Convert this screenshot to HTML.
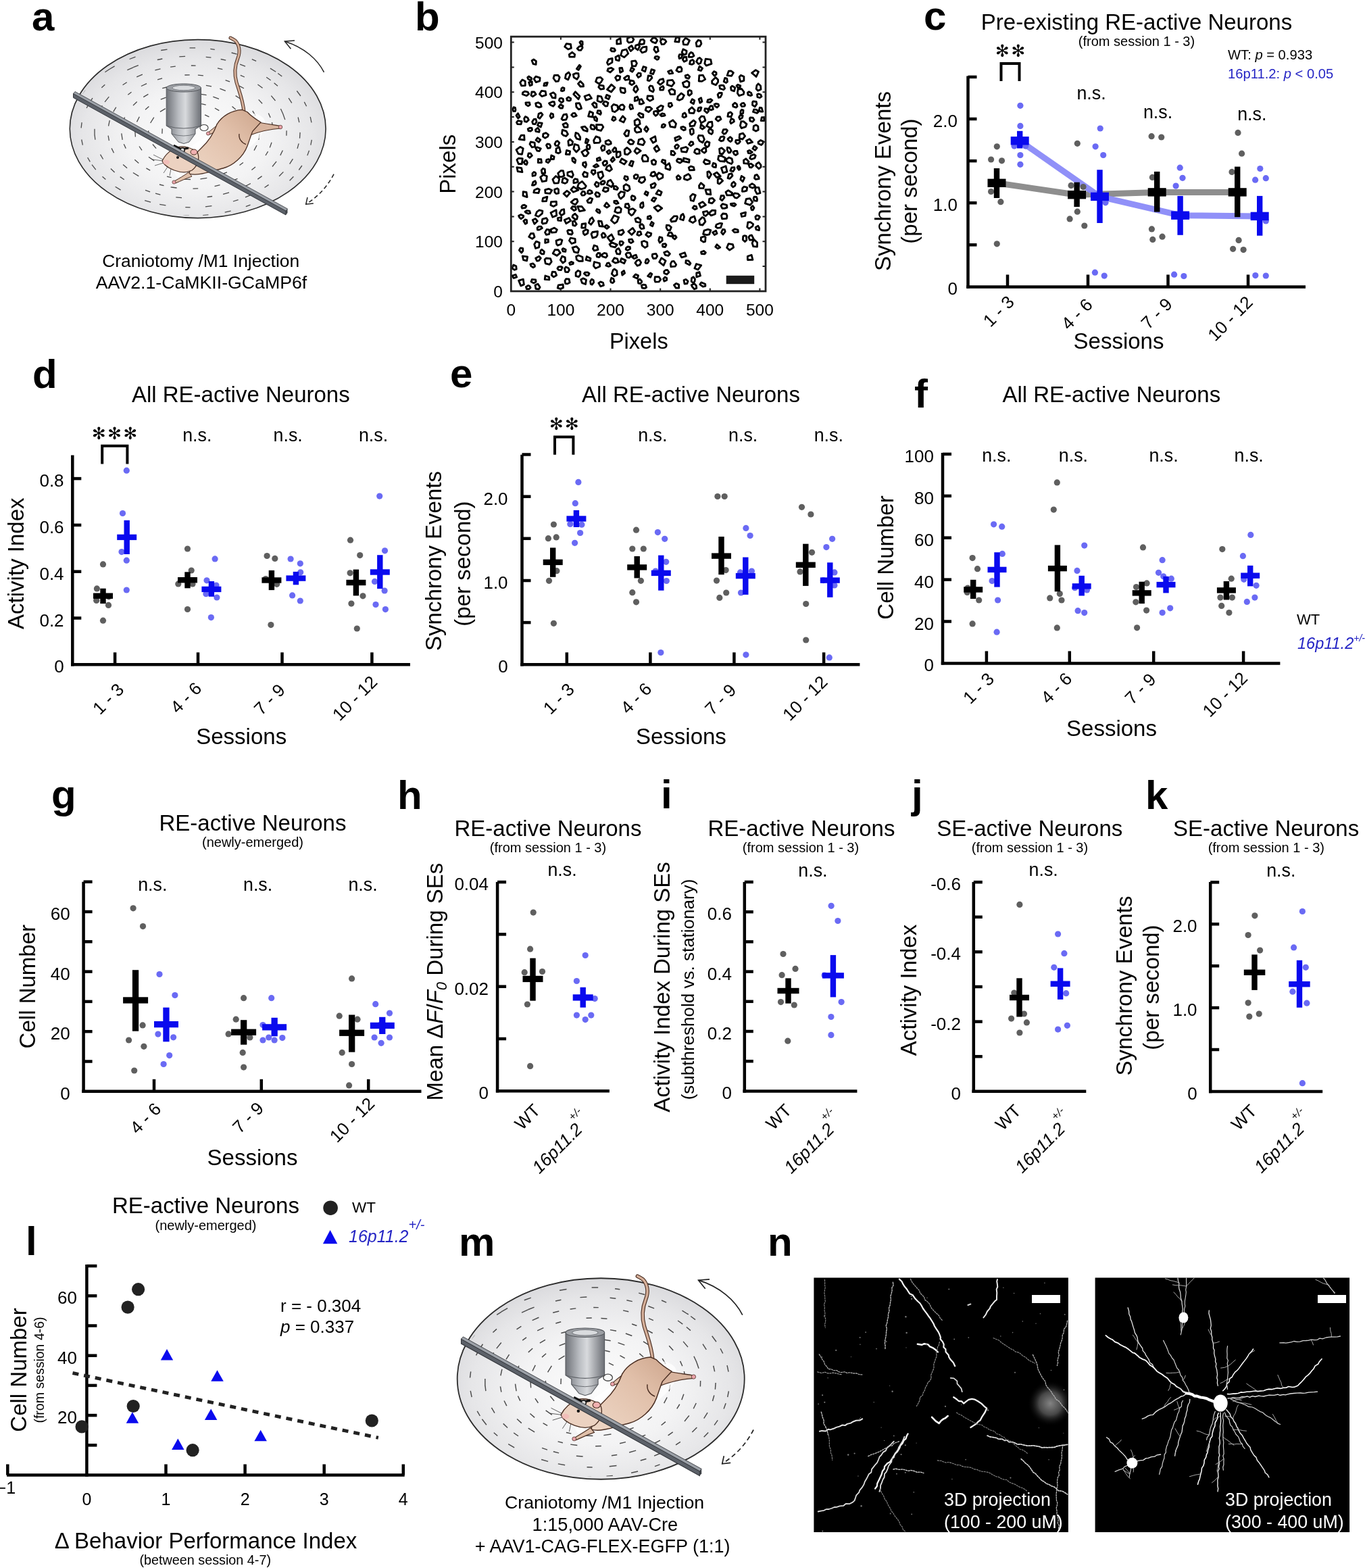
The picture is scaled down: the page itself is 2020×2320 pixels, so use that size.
<!DOCTYPE html><html><head><meta charset="utf-8"><style>html,body{margin:0;padding:0;background:#fff;}svg{display:block;}</style></head><body><svg width="2020" height="2320" viewBox="0 0 2020 2320" font-family='"Liberation Sans", Arial, Helvetica, sans-serif'><rect width="2020" height="2320" fill="#fff"/><text x="47.0" y="45.0" font-size="60" font-weight="bold">a</text>
<text x="614.0" y="45.0" font-size="60" font-weight="bold">b</text>
<text x="1367.0" y="44.0" font-size="60" font-weight="bold">c</text>
<text x="48.0" y="574.0" font-size="60" font-weight="bold">d</text>
<text x="666.0" y="573.0" font-size="60" font-weight="bold">e</text>
<text x="1353.0" y="603.0" font-size="60" font-weight="bold">f</text>
<text x="76.0" y="1196.0" font-size="60" font-weight="bold">g</text>
<text x="588.0" y="1197.0" font-size="60" font-weight="bold">h</text>
<text x="978.0" y="1196.0" font-size="60" font-weight="bold">i</text>
<text x="1349.0" y="1196.0" font-size="60" font-weight="bold">j</text>
<text x="1695.0" y="1197.0" font-size="60" font-weight="bold">k</text>
<text x="38.0" y="1857.0" font-size="60" font-weight="bold">l</text>
<text x="679.0" y="1858.0" font-size="60" font-weight="bold">m</text>
<text x="1136.0" y="1858.0" font-size="60" font-weight="bold">n</text>
<text x="1682.0" y="44.0" font-size="33" text-anchor="middle">Pre-existing RE-active Neurons</text>
<text x="1682.0" y="68.0" font-size="20" text-anchor="middle">(from session 1 - 3)</text>
<text x="1817.0" y="88.0" font-size="20.2">WT: <tspan font-style="italic">p</tspan> = 0.933</text>
<text x="1817.0" y="116.0" font-size="20.2" fill="#2424c4">16p11.2: <tspan font-style="italic">p</tspan> &lt; 0.05</text>
<text x="1496.4" y="83.5" font-size="24.8" text-anchor="middle" font-family="DejaVu Sans, sans-serif" letter-spacing="2.72">✻✻</text>
<path d="M1481.5 120.0 V94.0 H1508.5 V120.0" fill="none" stroke="#000" stroke-width="4"/>
<line x1="1432.5" y1="112.5" x2="1432.5" y2="426.6" stroke="#000" stroke-width="4.5" stroke-linecap="butt"/>
<line x1="1432.5" y1="113.9" x2="1445.5" y2="113.9" stroke="#000" stroke-width="4.5" stroke-linecap="butt"/>
<line x1="1432.5" y1="176.0" x2="1445.5" y2="176.0" stroke="#000" stroke-width="4.5" stroke-linecap="butt"/>
<line x1="1432.5" y1="238.1" x2="1445.5" y2="238.1" stroke="#000" stroke-width="4.5" stroke-linecap="butt"/>
<line x1="1432.5" y1="300.2" x2="1445.5" y2="300.2" stroke="#000" stroke-width="4.5" stroke-linecap="butt"/>
<line x1="1432.5" y1="362.3" x2="1445.5" y2="362.3" stroke="#000" stroke-width="4.5" stroke-linecap="butt"/>
<line x1="1430.2" y1="424.4" x2="1932.0" y2="424.4" stroke="#000" stroke-width="4.5" stroke-linecap="butt"/>
<line x1="1491.0" y1="424.4" x2="1491.0" y2="406.4" stroke="#000" stroke-width="4.5" stroke-linecap="butt"/>
<line x1="1610.0" y1="424.4" x2="1610.0" y2="406.4" stroke="#000" stroke-width="4.5" stroke-linecap="butt"/>
<line x1="1728.5" y1="424.4" x2="1728.5" y2="406.4" stroke="#000" stroke-width="4.5" stroke-linecap="butt"/>
<line x1="1847.0" y1="424.4" x2="1847.0" y2="406.4" stroke="#000" stroke-width="4.5" stroke-linecap="butt"/>
<text x="1417.0" y="188.0" font-size="26" text-anchor="end">2.0</text>
<text x="1417.0" y="312.2" font-size="26" text-anchor="end">1.0</text>
<text x="1417.0" y="436.4" font-size="26" text-anchor="end">0</text>
<text x="1318.0" y="268.0" font-size="33" text-anchor="middle" transform="rotate(-90 1318.0 268.0)">Synchrony Events</text>
<text x="1357.0" y="268.0" font-size="33" text-anchor="middle" transform="rotate(-90 1357.0 268.0)">(per second)</text>
<text x="1465.7" y="485.3" font-size="26" transform="rotate(-45 1465.7 485.3)">1 - 3</text>
<text x="1581.6" y="489.4" font-size="26" transform="rotate(-45 1581.6 489.4)">4 - 6</text>
<text x="1699.6" y="488.6" font-size="26" transform="rotate(-45 1699.6 488.6)">7 - 9</text>
<text x="1798.2" y="506.3" font-size="26" transform="rotate(-45 1798.2 506.3)">10 - 12</text>
<text x="1655.5" y="516.0" font-size="33" text-anchor="middle">Sessions</text>
<text x="1615.0" y="146.6" font-size="26.8" text-anchor="middle">n.s.</text>
<text x="1713.5" y="175.0" font-size="26.8" text-anchor="middle">n.s.</text>
<text x="1852.8" y="178.0" font-size="26.8" text-anchor="middle">n.s.</text>
<polyline points="1475,270.8 1593.6,288.2 1712.2,284.4 1831.2,284.4" fill="none" stroke="#8e8e8e" stroke-width="9" stroke-linejoin="round"/>
<polyline points="1509.2,208.3 1627.5,290.9 1746.6,318.7 1864.2,319.9" fill="none" stroke="#8a8af8" stroke-width="9" stroke-linejoin="round" opacity="0.95"/>
<circle cx="1475.3" cy="216.8" r="4.6" fill="#5f5f5f"/>
<circle cx="1466.6" cy="236.0" r="4.6" fill="#5f5f5f"/>
<circle cx="1482.5" cy="237.8" r="4.6" fill="#5f5f5f"/>
<circle cx="1466.6" cy="283.5" r="4.6" fill="#5f5f5f"/>
<circle cx="1480.9" cy="298.7" r="4.6" fill="#5f5f5f"/>
<circle cx="1475.3" cy="360.8" r="4.6" fill="#5f5f5f"/>
<circle cx="1594.3" cy="212.3" r="4.6" fill="#5f5f5f"/>
<circle cx="1585.1" cy="274.4" r="4.6" fill="#5f5f5f"/>
<circle cx="1603.0" cy="276.6" r="4.6" fill="#5f5f5f"/>
<circle cx="1594.3" cy="313.2" r="4.6" fill="#5f5f5f"/>
<circle cx="1583.1" cy="323.9" r="4.6" fill="#5f5f5f"/>
<circle cx="1604.8" cy="334.0" r="4.6" fill="#5f5f5f"/>
<circle cx="1704.1" cy="201.7" r="4.6" fill="#5f5f5f"/>
<circle cx="1718.7" cy="203.0" r="4.6" fill="#5f5f5f"/>
<circle cx="1705.4" cy="262.4" r="4.6" fill="#5f5f5f"/>
<circle cx="1704.4" cy="338.9" r="4.6" fill="#5f5f5f"/>
<circle cx="1720.0" cy="350.2" r="4.6" fill="#5f5f5f"/>
<circle cx="1705.8" cy="354.4" r="4.6" fill="#5f5f5f"/>
<circle cx="1832.0" cy="196.4" r="4.6" fill="#5f5f5f"/>
<circle cx="1837.6" cy="227.2" r="4.6" fill="#5f5f5f"/>
<circle cx="1823.0" cy="254.4" r="4.6" fill="#5f5f5f"/>
<circle cx="1833.1" cy="355.4" r="4.6" fill="#5f5f5f"/>
<circle cx="1824.6" cy="368.3" r="4.6" fill="#5f5f5f"/>
<circle cx="1840.1" cy="369.6" r="4.6" fill="#5f5f5f"/>
<circle cx="1509.9" cy="156.3" r="4.6" fill="#6a6af4"/>
<circle cx="1509.9" cy="186.4" r="4.6" fill="#6a6af4"/>
<circle cx="1501.0" cy="216.1" r="4.6" fill="#6a6af4"/>
<circle cx="1517.7" cy="216.1" r="4.6" fill="#6a6af4"/>
<circle cx="1509.9" cy="229.5" r="4.6" fill="#6a6af4"/>
<circle cx="1509.9" cy="243.3" r="4.6" fill="#6a6af4"/>
<circle cx="1628.2" cy="190.0" r="4.6" fill="#6a6af4"/>
<circle cx="1621.1" cy="216.8" r="4.6" fill="#6a6af4"/>
<circle cx="1632.7" cy="229.5" r="4.6" fill="#6a6af4"/>
<circle cx="1636.0" cy="299.8" r="4.6" fill="#6a6af4"/>
<circle cx="1620.4" cy="403.2" r="4.6" fill="#6a6af4"/>
<circle cx="1634.2" cy="408.1" r="4.6" fill="#6a6af4"/>
<circle cx="1746.2" cy="248.2" r="4.6" fill="#6a6af4"/>
<circle cx="1750.0" cy="263.3" r="4.6" fill="#6a6af4"/>
<circle cx="1740.1" cy="275.1" r="4.6" fill="#6a6af4"/>
<circle cx="1737.6" cy="406.2" r="4.6" fill="#6a6af4"/>
<circle cx="1751.9" cy="408.5" r="4.6" fill="#6a6af4"/>
<circle cx="1864.8" cy="249.5" r="4.6" fill="#6a6af4"/>
<circle cx="1857.6" cy="266.2" r="4.6" fill="#6a6af4"/>
<circle cx="1873.3" cy="263.7" r="4.6" fill="#6a6af4"/>
<circle cx="1873.3" cy="326.9" r="4.6" fill="#6a6af4"/>
<circle cx="1857.8" cy="407.6" r="4.6" fill="#6a6af4"/>
<circle cx="1873.3" cy="408.0" r="4.6" fill="#6a6af4"/>
<rect x="1470.8" y="249.0" width="8.4" height="44.0" fill="#000"/>
<rect x="1461.5" y="264.6" width="27.0" height="12.4" fill="#000"/>
<rect x="1589.4" y="269.7" width="8.4" height="36.4" fill="#000"/>
<rect x="1580.1" y="282.0" width="27.0" height="12.4" fill="#000"/>
<rect x="1708.0" y="253.9" width="8.4" height="59.7" fill="#000"/>
<rect x="1698.7" y="278.2" width="27.0" height="12.4" fill="#000"/>
<rect x="1827.0" y="246.6" width="8.4" height="74.6" fill="#000"/>
<rect x="1817.7" y="278.2" width="27.0" height="12.4" fill="#000"/>
<rect x="1505.0" y="193.8" width="8.4" height="25.7" fill="#0a0aee"/>
<rect x="1495.7" y="202.1" width="27.0" height="12.4" fill="#0a0aee"/>
<rect x="1623.3" y="251.2" width="8.4" height="78.8" fill="#0a0aee"/>
<rect x="1614.0" y="284.7" width="27.0" height="12.4" fill="#0a0aee"/>
<rect x="1742.4" y="289.9" width="8.4" height="57.9" fill="#0a0aee"/>
<rect x="1733.1" y="312.5" width="27.0" height="12.4" fill="#0a0aee"/>
<rect x="1860.0" y="289.9" width="8.4" height="58.8" fill="#0a0aee"/>
<rect x="1850.7" y="313.7" width="27.0" height="12.4" fill="#0a0aee"/>
<text x="356.3" y="595.0" font-size="33" text-anchor="middle">All RE-active Neurons</text>
<text x="170.8" y="649.9" font-size="24.8" text-anchor="middle" font-family="DejaVu Sans, sans-serif" letter-spacing="2.42">✻✻✻</text>
<path d="M151.2 686.4 V659.7 H188.4 V686.4" fill="none" stroke="#000" stroke-width="4"/>
<line x1="107.3" y1="673.4" x2="107.3" y2="985.5" stroke="#000" stroke-width="4.5" stroke-linecap="butt"/>
<line x1="107.3" y1="708.1" x2="120.3" y2="708.1" stroke="#000" stroke-width="4.5" stroke-linecap="butt"/>
<line x1="107.3" y1="776.9" x2="120.3" y2="776.9" stroke="#000" stroke-width="4.5" stroke-linecap="butt"/>
<line x1="107.3" y1="845.7" x2="120.3" y2="845.7" stroke="#000" stroke-width="4.5" stroke-linecap="butt"/>
<line x1="107.3" y1="914.5" x2="120.3" y2="914.5" stroke="#000" stroke-width="4.5" stroke-linecap="butt"/>
<line x1="105.0" y1="983.3" x2="607.0" y2="983.3" stroke="#000" stroke-width="4.5" stroke-linecap="butt"/>
<line x1="170.1" y1="983.3" x2="170.1" y2="965.3" stroke="#000" stroke-width="4.5" stroke-linecap="butt"/>
<line x1="293.0" y1="983.3" x2="293.0" y2="965.3" stroke="#000" stroke-width="4.5" stroke-linecap="butt"/>
<line x1="417.5" y1="983.3" x2="417.5" y2="965.3" stroke="#000" stroke-width="4.5" stroke-linecap="butt"/>
<line x1="550.4" y1="983.3" x2="550.4" y2="965.3" stroke="#000" stroke-width="4.5" stroke-linecap="butt"/>
<text x="94.6" y="720.1" font-size="26" text-anchor="end">0.8</text>
<text x="94.6" y="788.9" font-size="26" text-anchor="end">0.6</text>
<text x="94.6" y="857.7" font-size="26" text-anchor="end">0.4</text>
<text x="94.6" y="926.5" font-size="26" text-anchor="end">0.2</text>
<text x="94.6" y="995.3" font-size="26" text-anchor="end">0</text>
<text x="35.5" y="833.7" font-size="33" text-anchor="middle" transform="rotate(-90 35.5 833.7)">Activity Index</text>
<text x="148.1" y="1058.7" font-size="26" transform="rotate(-45 148.1 1058.7)">1 - 3</text>
<text x="263.1" y="1057.1" font-size="26" transform="rotate(-45 263.1 1057.1)">4 - 6</text>
<text x="386.8" y="1059.5" font-size="26" transform="rotate(-45 386.8 1059.5)">7 - 9</text>
<text x="502.7" y="1068.0" font-size="26" transform="rotate(-45 502.7 1068.0)">10 - 12</text>
<text x="357.2" y="1100.7" font-size="33" text-anchor="middle">Sessions</text>
<text x="291.8" y="652.9" font-size="26.8" text-anchor="middle">n.s.</text>
<text x="426.2" y="652.5" font-size="26.8" text-anchor="middle">n.s.</text>
<text x="552.5" y="652.5" font-size="26.8" text-anchor="middle">n.s.</text>
<circle cx="152.5" cy="834.9" r="4.6" fill="#5f5f5f"/>
<circle cx="143.4" cy="870.9" r="4.6" fill="#5f5f5f"/>
<circle cx="142.7" cy="888.5" r="4.6" fill="#5f5f5f"/>
<circle cx="161.0" cy="882.8" r="4.6" fill="#5f5f5f"/>
<circle cx="160.5" cy="895.4" r="4.6" fill="#5f5f5f"/>
<circle cx="152.5" cy="918.2" r="4.6" fill="#5f5f5f"/>
<circle cx="277.5" cy="812.0" r="4.6" fill="#5f5f5f"/>
<circle cx="283.2" cy="844.0" r="4.6" fill="#5f5f5f"/>
<circle cx="263.8" cy="863.9" r="4.6" fill="#5f5f5f"/>
<circle cx="285.0" cy="863.9" r="4.6" fill="#5f5f5f"/>
<circle cx="277.5" cy="901.5" r="4.6" fill="#5f5f5f"/>
<circle cx="395.1" cy="822.5" r="4.6" fill="#5f5f5f"/>
<circle cx="406.8" cy="826.4" r="4.6" fill="#5f5f5f"/>
<circle cx="393.2" cy="856.6" r="4.6" fill="#5f5f5f"/>
<circle cx="409.7" cy="864.3" r="4.6" fill="#5f5f5f"/>
<circle cx="400.9" cy="924.6" r="4.6" fill="#5f5f5f"/>
<circle cx="518.5" cy="799.2" r="4.6" fill="#5f5f5f"/>
<circle cx="532.7" cy="821.6" r="4.6" fill="#5f5f5f"/>
<circle cx="518.1" cy="847.8" r="4.6" fill="#5f5f5f"/>
<circle cx="537.0" cy="881.8" r="4.6" fill="#5f5f5f"/>
<circle cx="519.9" cy="893.1" r="4.6" fill="#5f5f5f"/>
<circle cx="528.3" cy="930.0" r="4.6" fill="#5f5f5f"/>
<circle cx="187.3" cy="696.2" r="4.6" fill="#6a6af4"/>
<circle cx="181.5" cy="759.5" r="4.6" fill="#6a6af4"/>
<circle cx="180.0" cy="816.6" r="4.6" fill="#6a6af4"/>
<circle cx="187.3" cy="829.2" r="4.6" fill="#6a6af4"/>
<circle cx="187.3" cy="873.0" r="4.6" fill="#6a6af4"/>
<circle cx="318.1" cy="826.9" r="4.6" fill="#6a6af4"/>
<circle cx="306.0" cy="858.8" r="4.6" fill="#6a6af4"/>
<circle cx="304.9" cy="878.7" r="4.6" fill="#6a6af4"/>
<circle cx="320.9" cy="884.0" r="4.6" fill="#6a6af4"/>
<circle cx="312.4" cy="913.6" r="4.6" fill="#6a6af4"/>
<circle cx="320.0" cy="866.0" r="4.6" fill="#6a6af4"/>
<circle cx="430.1" cy="827.0" r="4.6" fill="#6a6af4"/>
<circle cx="444.3" cy="833.8" r="4.6" fill="#6a6af4"/>
<circle cx="444.7" cy="846.8" r="4.6" fill="#6a6af4"/>
<circle cx="432.6" cy="880.9" r="4.6" fill="#6a6af4"/>
<circle cx="444.3" cy="889.0" r="4.6" fill="#6a6af4"/>
<circle cx="561.7" cy="734.1" r="4.6" fill="#6a6af4"/>
<circle cx="569.5" cy="814.8" r="4.6" fill="#6a6af4"/>
<circle cx="554.5" cy="860.4" r="4.6" fill="#6a6af4"/>
<circle cx="569.1" cy="874.0" r="4.6" fill="#6a6af4"/>
<circle cx="556.0" cy="894.5" r="4.6" fill="#6a6af4"/>
<circle cx="570.4" cy="901.6" r="4.6" fill="#6a6af4"/>
<rect x="148.3" y="870.7" width="8.4" height="22.4" fill="#000"/>
<rect x="138.0" y="877.5" width="29.0" height="8.4" fill="#000"/>
<rect x="273.3" y="846.3" width="8.4" height="24.0" fill="#000"/>
<rect x="263.0" y="854.0" width="29.0" height="8.4" fill="#000"/>
<rect x="397.7" y="843.9" width="8.4" height="29.2" fill="#000"/>
<rect x="387.4" y="854.3" width="29.0" height="8.4" fill="#000"/>
<rect x="522.7" y="842.6" width="8.4" height="38.8" fill="#000"/>
<rect x="512.4" y="857.8" width="29.0" height="8.4" fill="#000"/>
<rect x="183.5" y="769.8" width="8.4" height="50.2" fill="#0a0aee"/>
<rect x="173.2" y="790.7" width="29.0" height="8.4" fill="#0a0aee"/>
<rect x="308.7" y="860.0" width="8.4" height="22.8" fill="#0a0aee"/>
<rect x="298.4" y="867.7" width="29.0" height="8.4" fill="#0a0aee"/>
<rect x="433.7" y="845.9" width="8.4" height="19.4" fill="#0a0aee"/>
<rect x="423.4" y="851.4" width="29.0" height="8.4" fill="#0a0aee"/>
<rect x="558.1" y="821.2" width="8.4" height="49.9" fill="#0a0aee"/>
<rect x="547.8" y="842.3" width="29.0" height="8.4" fill="#0a0aee"/>
<text x="1022.5" y="595.3" font-size="33" text-anchor="middle">All RE-active Neurons</text>
<text x="836.0" y="636.4" font-size="24.8" text-anchor="middle" font-family="DejaVu Sans, sans-serif" letter-spacing="2.22">✻✻</text>
<path d="M821.0 672.7 V646.5 H848.4 V672.7" fill="none" stroke="#000" stroke-width="4"/>
<line x1="772.5" y1="672.7" x2="772.5" y2="985.5" stroke="#000" stroke-width="4.5" stroke-linecap="butt"/>
<line x1="772.5" y1="672.5" x2="785.5" y2="672.5" stroke="#000" stroke-width="4.5" stroke-linecap="butt"/>
<line x1="772.5" y1="734.7" x2="785.5" y2="734.7" stroke="#000" stroke-width="4.5" stroke-linecap="butt"/>
<line x1="772.5" y1="796.8" x2="785.5" y2="796.8" stroke="#000" stroke-width="4.5" stroke-linecap="butt"/>
<line x1="772.5" y1="859.0" x2="785.5" y2="859.0" stroke="#000" stroke-width="4.5" stroke-linecap="butt"/>
<line x1="772.5" y1="921.1" x2="785.5" y2="921.1" stroke="#000" stroke-width="4.5" stroke-linecap="butt"/>
<line x1="770.2" y1="983.3" x2="1272.4" y2="983.3" stroke="#000" stroke-width="4.5" stroke-linecap="butt"/>
<line x1="838.8" y1="983.3" x2="838.8" y2="965.3" stroke="#000" stroke-width="4.5" stroke-linecap="butt"/>
<line x1="962.4" y1="983.3" x2="962.4" y2="965.3" stroke="#000" stroke-width="4.5" stroke-linecap="butt"/>
<line x1="1086.4" y1="983.3" x2="1086.4" y2="965.3" stroke="#000" stroke-width="4.5" stroke-linecap="butt"/>
<line x1="1219.1" y1="983.3" x2="1219.1" y2="965.3" stroke="#000" stroke-width="4.5" stroke-linecap="butt"/>
<text x="751.6" y="746.7" font-size="26" text-anchor="end">2.0</text>
<text x="751.6" y="871.0" font-size="26" text-anchor="end">1.0</text>
<text x="751.6" y="995.3" font-size="26" text-anchor="end">0</text>
<text x="653.0" y="830.0" font-size="33" text-anchor="middle" transform="rotate(-90 653.0 830.0)">Synchrony Events</text>
<text x="695.5" y="834.0" font-size="33" text-anchor="middle" transform="rotate(-90 695.5 834.0)">(per second)</text>
<text x="814.7" y="1058.5" font-size="26" transform="rotate(-45 814.7 1058.5)">1 - 3</text>
<text x="929.2" y="1057.8" font-size="26" transform="rotate(-45 929.2 1057.8)">4 - 6</text>
<text x="1054.1" y="1059.5" font-size="26" transform="rotate(-45 1054.1 1059.5)">7 - 9</text>
<text x="1169.0" y="1068.0" font-size="26" transform="rotate(-45 1169.0 1068.0)">10 - 12</text>
<text x="1007.9" y="1100.7" font-size="33" text-anchor="middle">Sessions</text>
<text x="965.8" y="652.5" font-size="26.8" text-anchor="middle">n.s.</text>
<text x="1099.7" y="652.5" font-size="26.8" text-anchor="middle">n.s.</text>
<text x="1226.3" y="652.5" font-size="26.8" text-anchor="middle">n.s.</text>
<circle cx="819.4" cy="776.0" r="4.6" fill="#5f5f5f"/>
<circle cx="811.4" cy="796.7" r="4.6" fill="#5f5f5f"/>
<circle cx="823.2" cy="794.9" r="4.6" fill="#5f5f5f"/>
<circle cx="823.9" cy="844.7" r="4.6" fill="#5f5f5f"/>
<circle cx="812.5" cy="859.3" r="4.6" fill="#5f5f5f"/>
<circle cx="819.4" cy="922.3" r="4.6" fill="#5f5f5f"/>
<circle cx="941.5" cy="784.2" r="4.6" fill="#5f5f5f"/>
<circle cx="935.8" cy="812.0" r="4.6" fill="#5f5f5f"/>
<circle cx="952.3" cy="812.0" r="4.6" fill="#5f5f5f"/>
<circle cx="948.4" cy="859.3" r="4.6" fill="#5f5f5f"/>
<circle cx="935.8" cy="876.7" r="4.6" fill="#5f5f5f"/>
<circle cx="941.5" cy="890.8" r="4.6" fill="#5f5f5f"/>
<circle cx="1061.9" cy="734.5" r="4.6" fill="#5f5f5f"/>
<circle cx="1072.2" cy="734.5" r="4.6" fill="#5f5f5f"/>
<circle cx="1074.1" cy="843.6" r="4.6" fill="#5f5f5f"/>
<circle cx="1060.5" cy="859.1" r="4.6" fill="#5f5f5f"/>
<circle cx="1074.7" cy="877.0" r="4.6" fill="#5f5f5f"/>
<circle cx="1064.8" cy="884.4" r="4.6" fill="#5f5f5f"/>
<circle cx="1186.5" cy="750.3" r="4.6" fill="#5f5f5f"/>
<circle cx="1199.9" cy="761.0" r="4.6" fill="#5f5f5f"/>
<circle cx="1201.5" cy="817.3" r="4.6" fill="#5f5f5f"/>
<circle cx="1184.0" cy="845.9" r="4.6" fill="#5f5f5f"/>
<circle cx="1192.7" cy="893.5" r="4.6" fill="#5f5f5f"/>
<circle cx="1192.7" cy="947.0" r="4.6" fill="#5f5f5f"/>
<circle cx="855.9" cy="713.4" r="4.6" fill="#6a6af4"/>
<circle cx="851.3" cy="744.7" r="4.6" fill="#6a6af4"/>
<circle cx="843.8" cy="775.5" r="4.6" fill="#6a6af4"/>
<circle cx="860.9" cy="776.2" r="4.6" fill="#6a6af4"/>
<circle cx="858.6" cy="788.5" r="4.6" fill="#6a6af4"/>
<circle cx="850.6" cy="803.3" r="4.6" fill="#6a6af4"/>
<circle cx="973.4" cy="787.6" r="4.6" fill="#6a6af4"/>
<circle cx="983.7" cy="797.3" r="4.6" fill="#6a6af4"/>
<circle cx="985.7" cy="831.3" r="4.6" fill="#6a6af4"/>
<circle cx="970.1" cy="845.0" r="4.6" fill="#6a6af4"/>
<circle cx="986.3" cy="859.5" r="4.6" fill="#6a6af4"/>
<circle cx="977.9" cy="965.5" r="4.6" fill="#6a6af4"/>
<circle cx="1103.9" cy="781.4" r="4.6" fill="#6a6af4"/>
<circle cx="1110.1" cy="792.5" r="4.6" fill="#6a6af4"/>
<circle cx="1095.5" cy="846.9" r="4.6" fill="#6a6af4"/>
<circle cx="1112.4" cy="845.0" r="4.6" fill="#6a6af4"/>
<circle cx="1096.5" cy="877.0" r="4.6" fill="#6a6af4"/>
<circle cx="1103.9" cy="968.8" r="4.6" fill="#6a6af4"/>
<circle cx="1231.6" cy="797.3" r="4.6" fill="#6a6af4"/>
<circle cx="1222.9" cy="809.6" r="4.6" fill="#6a6af4"/>
<circle cx="1234.9" cy="846.9" r="4.6" fill="#6a6af4"/>
<circle cx="1218.4" cy="858.6" r="4.6" fill="#6a6af4"/>
<circle cx="1234.9" cy="865.9" r="4.6" fill="#6a6af4"/>
<circle cx="1227.3" cy="972.9" r="4.6" fill="#6a6af4"/>
<rect x="814.0" y="810.4" width="8.4" height="43.4" fill="#000"/>
<rect x="803.7" y="827.7" width="29.0" height="8.4" fill="#000"/>
<rect x="938.5" y="823.0" width="8.4" height="32.4" fill="#000"/>
<rect x="928.2" y="835.2" width="29.0" height="8.4" fill="#000"/>
<rect x="1063.3" y="794.0" width="8.4" height="56.2" fill="#000"/>
<rect x="1053.0" y="818.4" width="29.0" height="8.4" fill="#000"/>
<rect x="1188.1" y="804.7" width="8.4" height="62.2" fill="#000"/>
<rect x="1177.8" y="831.6" width="29.0" height="8.4" fill="#000"/>
<rect x="848.7" y="754.9" width="8.4" height="25.1" fill="#0a0aee"/>
<rect x="838.4" y="763.3" width="29.0" height="8.4" fill="#0a0aee"/>
<rect x="974.1" y="821.6" width="8.4" height="52.1" fill="#0a0aee"/>
<rect x="963.8" y="843.7" width="29.0" height="8.4" fill="#0a0aee"/>
<rect x="1099.1" y="824.5" width="8.4" height="55.4" fill="#0a0aee"/>
<rect x="1088.8" y="847.9" width="29.0" height="8.4" fill="#0a0aee"/>
<rect x="1224.1" y="832.3" width="8.4" height="51.5" fill="#0a0aee"/>
<rect x="1213.8" y="854.4" width="29.0" height="8.4" fill="#0a0aee"/>
<text x="1644.8" y="594.8" font-size="33" text-anchor="middle">All RE-active Neurons</text>
<line x1="1395.0" y1="669.9" x2="1395.0" y2="983.6" stroke="#000" stroke-width="4.5" stroke-linecap="butt"/>
<line x1="1395.0" y1="671.9" x2="1408.0" y2="671.9" stroke="#000" stroke-width="4.5" stroke-linecap="butt"/>
<line x1="1395.0" y1="733.8" x2="1408.0" y2="733.8" stroke="#000" stroke-width="4.5" stroke-linecap="butt"/>
<line x1="1395.0" y1="795.7" x2="1408.0" y2="795.7" stroke="#000" stroke-width="4.5" stroke-linecap="butt"/>
<line x1="1395.0" y1="857.6" x2="1408.0" y2="857.6" stroke="#000" stroke-width="4.5" stroke-linecap="butt"/>
<line x1="1395.0" y1="919.5" x2="1408.0" y2="919.5" stroke="#000" stroke-width="4.5" stroke-linecap="butt"/>
<line x1="1392.8" y1="981.4" x2="1894.4" y2="981.4" stroke="#000" stroke-width="4.5" stroke-linecap="butt"/>
<line x1="1459.9" y1="981.4" x2="1459.9" y2="963.4" stroke="#000" stroke-width="4.5" stroke-linecap="butt"/>
<line x1="1582.8" y1="981.4" x2="1582.8" y2="963.4" stroke="#000" stroke-width="4.5" stroke-linecap="butt"/>
<line x1="1707.2" y1="981.4" x2="1707.2" y2="963.4" stroke="#000" stroke-width="4.5" stroke-linecap="butt"/>
<line x1="1840.1" y1="981.4" x2="1840.1" y2="963.4" stroke="#000" stroke-width="4.5" stroke-linecap="butt"/>
<text x="1382.0" y="683.9" font-size="26" text-anchor="end">100</text>
<text x="1382.0" y="745.8" font-size="26" text-anchor="end">80</text>
<text x="1382.0" y="807.7" font-size="26" text-anchor="end">60</text>
<text x="1382.0" y="869.6" font-size="26" text-anchor="end">40</text>
<text x="1382.0" y="931.5" font-size="26" text-anchor="end">20</text>
<text x="1382.0" y="993.4" font-size="26" text-anchor="end">0</text>
<text x="1322.4" y="825.0" font-size="33" text-anchor="middle" transform="rotate(-90 1322.4 825.0)">Cell Number</text>
<text x="1436.0" y="1043.0" font-size="26" transform="rotate(-45 1436.0 1043.0)">1 - 3</text>
<text x="1551.2" y="1042.8" font-size="26" transform="rotate(-45 1551.2 1042.8)">4 - 6</text>
<text x="1675.4" y="1043.8" font-size="26" transform="rotate(-45 1675.4 1043.8)">7 - 9</text>
<text x="1790.6" y="1062.4" font-size="26" transform="rotate(-45 1790.6 1062.4)">10 - 12</text>
<text x="1645.0" y="1089.1" font-size="33" text-anchor="middle">Sessions</text>
<text x="1474.8" y="682.6" font-size="26.8" text-anchor="middle">n.s.</text>
<text x="1588.4" y="682.6" font-size="26.8" text-anchor="middle">n.s.</text>
<text x="1722.0" y="683.0" font-size="26.8" text-anchor="middle">n.s.</text>
<text x="1848.2" y="683.0" font-size="26.8" text-anchor="middle">n.s.</text>
<text x="1919.0" y="924.4" font-size="22">WT</text>
<text x="1920.0" y="960.1" font-size="23.5" font-style="italic" fill="#2424c4">16p11.2<tspan font-size="14" dy="-11">+/-</tspan></text>
<circle cx="1439.1" cy="825.6" r="4.6" fill="#5f5f5f"/>
<circle cx="1446.5" cy="841.7" r="4.6" fill="#5f5f5f"/>
<circle cx="1431.3" cy="876.4" r="4.6" fill="#5f5f5f"/>
<circle cx="1448.7" cy="888.0" r="4.6" fill="#5f5f5f"/>
<circle cx="1439.1" cy="922.9" r="4.6" fill="#5f5f5f"/>
<circle cx="1432.0" cy="870.0" r="4.6" fill="#5f5f5f"/>
<circle cx="1564.3" cy="713.9" r="4.6" fill="#5f5f5f"/>
<circle cx="1559.3" cy="754.1" r="4.6" fill="#5f5f5f"/>
<circle cx="1568.3" cy="878.6" r="4.6" fill="#5f5f5f"/>
<circle cx="1553.7" cy="884.9" r="4.6" fill="#5f5f5f"/>
<circle cx="1571.0" cy="888.0" r="4.6" fill="#5f5f5f"/>
<circle cx="1564.3" cy="928.9" r="4.6" fill="#5f5f5f"/>
<circle cx="1691.5" cy="809.9" r="4.6" fill="#5f5f5f"/>
<circle cx="1697.1" cy="862.9" r="4.6" fill="#5f5f5f"/>
<circle cx="1681.5" cy="868.5" r="4.6" fill="#5f5f5f"/>
<circle cx="1680.8" cy="890.8" r="4.6" fill="#5f5f5f"/>
<circle cx="1696.6" cy="903.1" r="4.6" fill="#5f5f5f"/>
<circle cx="1682.6" cy="928.8" r="4.6" fill="#5f5f5f"/>
<circle cx="1808.8" cy="812.6" r="4.6" fill="#5f5f5f"/>
<circle cx="1822.2" cy="856.2" r="4.6" fill="#5f5f5f"/>
<circle cx="1805.9" cy="884.1" r="4.6" fill="#5f5f5f"/>
<circle cx="1823.4" cy="884.1" r="4.6" fill="#5f5f5f"/>
<circle cx="1807.7" cy="896.4" r="4.6" fill="#5f5f5f"/>
<circle cx="1818.9" cy="906.5" r="4.6" fill="#5f5f5f"/>
<circle cx="1470.6" cy="775.8" r="4.6" fill="#6a6af4"/>
<circle cx="1482.7" cy="779.2" r="4.6" fill="#6a6af4"/>
<circle cx="1483.3" cy="819.4" r="4.6" fill="#6a6af4"/>
<circle cx="1468.1" cy="859.6" r="4.6" fill="#6a6af4"/>
<circle cx="1476.6" cy="888.0" r="4.6" fill="#6a6af4"/>
<circle cx="1475.1" cy="935.2" r="4.6" fill="#6a6af4"/>
<circle cx="1604.7" cy="807.1" r="4.6" fill="#6a6af4"/>
<circle cx="1594.0" cy="844.4" r="4.6" fill="#6a6af4"/>
<circle cx="1590.6" cy="869.7" r="4.6" fill="#6a6af4"/>
<circle cx="1608.5" cy="873.0" r="4.6" fill="#6a6af4"/>
<circle cx="1595.1" cy="903.7" r="4.6" fill="#6a6af4"/>
<circle cx="1604.7" cy="906.6" r="4.6" fill="#6a6af4"/>
<circle cx="1720.1" cy="828.7" r="4.6" fill="#6a6af4"/>
<circle cx="1714.5" cy="847.3" r="4.6" fill="#6a6af4"/>
<circle cx="1721.7" cy="852.8" r="4.6" fill="#6a6af4"/>
<circle cx="1733.3" cy="856.2" r="4.6" fill="#6a6af4"/>
<circle cx="1731.7" cy="899.8" r="4.6" fill="#6a6af4"/>
<circle cx="1720.1" cy="906.5" r="4.6" fill="#6a6af4"/>
<circle cx="1850.8" cy="791.4" r="4.6" fill="#6a6af4"/>
<circle cx="1839.4" cy="822.7" r="4.6" fill="#6a6af4"/>
<circle cx="1840.8" cy="857.3" r="4.6" fill="#6a6af4"/>
<circle cx="1859.1" cy="866.3" r="4.6" fill="#6a6af4"/>
<circle cx="1856.9" cy="884.1" r="4.6" fill="#6a6af4"/>
<circle cx="1845.3" cy="890.4" r="4.6" fill="#6a6af4"/>
<rect x="1436.0" y="857.8" width="8.4" height="28.2" fill="#000"/>
<rect x="1426.2" y="868.2" width="28.0" height="8.4" fill="#000"/>
<rect x="1560.7" y="806.4" width="8.4" height="68.9" fill="#000"/>
<rect x="1550.9" y="836.9" width="28.0" height="8.4" fill="#000"/>
<rect x="1685.5" y="860.7" width="8.4" height="32.4" fill="#000"/>
<rect x="1675.7" y="873.2" width="28.0" height="8.4" fill="#000"/>
<rect x="1810.7" y="860.0" width="8.4" height="27.5" fill="#000"/>
<rect x="1800.9" y="869.2" width="28.0" height="8.4" fill="#000"/>
<rect x="1471.3" y="817.2" width="8.4" height="51.4" fill="#0a0aee"/>
<rect x="1461.5" y="838.7" width="28.0" height="8.4" fill="#0a0aee"/>
<rect x="1596.5" y="851.8" width="8.4" height="29.7" fill="#0a0aee"/>
<rect x="1586.7" y="863.2" width="28.0" height="8.4" fill="#0a0aee"/>
<rect x="1721.3" y="852.8" width="8.4" height="24.6" fill="#0a0aee"/>
<rect x="1711.5" y="860.9" width="28.0" height="8.4" fill="#0a0aee"/>
<rect x="1846.0" y="836.8" width="8.4" height="30.6" fill="#0a0aee"/>
<rect x="1836.2" y="847.5" width="28.0" height="8.4" fill="#0a0aee"/>
<text x="374.0" y="1228.7" font-size="33" text-anchor="middle">RE-active Neurons</text>
<text x="374.0" y="1252.5" font-size="20" text-anchor="middle">(newly-emerged)</text>
<line x1="123.6" y1="1304.8" x2="123.6" y2="1617.0" stroke="#000" stroke-width="4.5" stroke-linecap="butt"/>
<line x1="123.6" y1="1304.7" x2="136.6" y2="1304.7" stroke="#000" stroke-width="4.5" stroke-linecap="butt"/>
<line x1="123.6" y1="1349.0" x2="136.6" y2="1349.0" stroke="#000" stroke-width="4.5" stroke-linecap="butt"/>
<line x1="123.6" y1="1393.3" x2="136.6" y2="1393.3" stroke="#000" stroke-width="4.5" stroke-linecap="butt"/>
<line x1="123.6" y1="1437.6" x2="136.6" y2="1437.6" stroke="#000" stroke-width="4.5" stroke-linecap="butt"/>
<line x1="123.6" y1="1481.9" x2="136.6" y2="1481.9" stroke="#000" stroke-width="4.5" stroke-linecap="butt"/>
<line x1="123.6" y1="1526.2" x2="136.6" y2="1526.2" stroke="#000" stroke-width="4.5" stroke-linecap="butt"/>
<line x1="123.6" y1="1570.5" x2="136.6" y2="1570.5" stroke="#000" stroke-width="4.5" stroke-linecap="butt"/>
<line x1="121.3" y1="1614.8" x2="623.5" y2="1614.8" stroke="#000" stroke-width="4.5" stroke-linecap="butt"/>
<line x1="228.0" y1="1614.8" x2="228.0" y2="1596.8" stroke="#000" stroke-width="4.5" stroke-linecap="butt"/>
<line x1="386.8" y1="1614.8" x2="386.8" y2="1596.8" stroke="#000" stroke-width="4.5" stroke-linecap="butt"/>
<line x1="545.2" y1="1614.8" x2="545.2" y2="1596.8" stroke="#000" stroke-width="4.5" stroke-linecap="butt"/>
<text x="103.6" y="1361.0" font-size="26" text-anchor="end">60</text>
<text x="103.6" y="1449.6" font-size="26" text-anchor="end">40</text>
<text x="103.6" y="1538.2" font-size="26" text-anchor="end">20</text>
<text x="103.6" y="1626.8" font-size="26" text-anchor="end">0</text>
<text x="52.5" y="1459.7" font-size="33" text-anchor="middle" transform="rotate(-90 52.5 1459.7)">Cell Number</text>
<text x="203.2" y="1679.3" font-size="26" transform="rotate(-45 203.2 1679.3)">4 - 6</text>
<text x="354.9" y="1678.2" font-size="26" transform="rotate(-45 354.9 1678.2)">7 - 9</text>
<text x="498.8" y="1691.9" font-size="26" transform="rotate(-45 498.8 1691.9)">10 - 12</text>
<text x="373.5" y="1723.5" font-size="33" text-anchor="middle">Sessions</text>
<text x="225.8" y="1318.1" font-size="26.8" text-anchor="middle">n.s.</text>
<text x="381.6" y="1318.1" font-size="26.8" text-anchor="middle">n.s.</text>
<text x="537.0" y="1318.1" font-size="26.8" text-anchor="middle">n.s.</text>
<circle cx="197.1" cy="1343.8" r="4.6" fill="#5f5f5f"/>
<circle cx="211.5" cy="1370.6" r="4.6" fill="#5f5f5f"/>
<circle cx="211.1" cy="1516.9" r="4.6" fill="#5f5f5f"/>
<circle cx="190.6" cy="1539.0" r="4.6" fill="#5f5f5f"/>
<circle cx="212.9" cy="1548.3" r="4.6" fill="#5f5f5f"/>
<circle cx="198.7" cy="1584.0" r="4.6" fill="#5f5f5f"/>
<circle cx="360.6" cy="1476.7" r="4.6" fill="#5f5f5f"/>
<circle cx="349.2" cy="1508.2" r="4.6" fill="#5f5f5f"/>
<circle cx="338.1" cy="1529.9" r="4.6" fill="#5f5f5f"/>
<circle cx="369.9" cy="1535.0" r="4.6" fill="#5f5f5f"/>
<circle cx="359.2" cy="1557.4" r="4.6" fill="#5f5f5f"/>
<circle cx="360.6" cy="1579.1" r="4.6" fill="#5f5f5f"/>
<circle cx="520.6" cy="1447.9" r="4.6" fill="#5f5f5f"/>
<circle cx="502.2" cy="1503.2" r="4.6" fill="#5f5f5f"/>
<circle cx="529.0" cy="1508.2" r="4.6" fill="#5f5f5f"/>
<circle cx="506.2" cy="1557.4" r="4.6" fill="#5f5f5f"/>
<circle cx="520.6" cy="1574.5" r="4.6" fill="#5f5f5f"/>
<circle cx="516.6" cy="1605.9" r="4.6" fill="#5f5f5f"/>
<circle cx="236.0" cy="1441.5" r="4.6" fill="#6a6af4"/>
<circle cx="258.9" cy="1472.5" r="4.6" fill="#6a6af4"/>
<circle cx="233.9" cy="1530.1" r="4.6" fill="#6a6af4"/>
<circle cx="256.6" cy="1534.8" r="4.6" fill="#6a6af4"/>
<circle cx="250.7" cy="1561.6" r="4.6" fill="#6a6af4"/>
<circle cx="242.1" cy="1574.5" r="4.6" fill="#6a6af4"/>
<circle cx="401.7" cy="1476.7" r="4.6" fill="#6a6af4"/>
<circle cx="389.0" cy="1516.5" r="4.6" fill="#6a6af4"/>
<circle cx="397.7" cy="1535.0" r="4.6" fill="#6a6af4"/>
<circle cx="389.0" cy="1539.0" r="4.6" fill="#6a6af4"/>
<circle cx="406.1" cy="1539.0" r="4.6" fill="#6a6af4"/>
<circle cx="417.8" cy="1535.6" r="4.6" fill="#6a6af4"/>
<circle cx="555.7" cy="1485.7" r="4.6" fill="#6a6af4"/>
<circle cx="576.5" cy="1499.1" r="4.6" fill="#6a6af4"/>
<circle cx="554.1" cy="1535.0" r="4.6" fill="#6a6af4"/>
<circle cx="564.1" cy="1543.3" r="4.6" fill="#6a6af4"/>
<circle cx="576.5" cy="1535.0" r="4.6" fill="#6a6af4"/>
<circle cx="562.4" cy="1516.5" r="4.6" fill="#6a6af4"/>
<rect x="195.9" y="1435.2" width="9.3" height="90.5" fill="#000"/>
<rect x="182.1" y="1475.3" width="37.0" height="9.3" fill="#000"/>
<rect x="356.0" y="1509.2" width="9.3" height="36.5" fill="#000"/>
<rect x="342.1" y="1522.6" width="37.0" height="9.3" fill="#000"/>
<rect x="516.0" y="1501.5" width="9.3" height="55.2" fill="#000"/>
<rect x="502.1" y="1523.6" width="37.0" height="9.3" fill="#000"/>
<rect x="241.3" y="1490.7" width="9.3" height="50.6" fill="#0a0aee"/>
<rect x="228.0" y="1511.0" width="36.0" height="9.3" fill="#0a0aee"/>
<rect x="401.5" y="1505.8" width="9.3" height="27.5" fill="#0a0aee"/>
<rect x="388.1" y="1515.2" width="36.0" height="9.3" fill="#0a0aee"/>
<rect x="561.1" y="1504.8" width="9.3" height="25.2" fill="#0a0aee"/>
<rect x="547.8" y="1512.8" width="36.0" height="9.3" fill="#0a0aee"/>
<text x="811.0" y="1237.0" font-size="33" text-anchor="middle">RE-active Neurons</text>
<text x="811.0" y="1260.7" font-size="20" text-anchor="middle">(from session 1 - 3)</text>
<line x1="736.1" y1="1305.0" x2="736.1" y2="1616.5" stroke="#000" stroke-width="4.5" stroke-linecap="butt"/>
<line x1="736.1" y1="1305.1" x2="749.1" y2="1305.1" stroke="#000" stroke-width="4.5" stroke-linecap="butt"/>
<line x1="736.1" y1="1382.4" x2="749.1" y2="1382.4" stroke="#000" stroke-width="4.5" stroke-linecap="butt"/>
<line x1="736.1" y1="1459.7" x2="749.1" y2="1459.7" stroke="#000" stroke-width="4.5" stroke-linecap="butt"/>
<line x1="736.1" y1="1537.0" x2="749.1" y2="1537.0" stroke="#000" stroke-width="4.5" stroke-linecap="butt"/>
<line x1="733.9" y1="1614.3" x2="901.9" y2="1614.3" stroke="#000" stroke-width="4.5" stroke-linecap="butt"/>
<text x="723.0" y="1317.1" font-size="26" text-anchor="end">0.04</text>
<text x="723.0" y="1471.7" font-size="26" text-anchor="end">0.02</text>
<text x="723.0" y="1626.3" font-size="26" text-anchor="end">0</text>
<text x="655.0" y="1452.6" font-size="33" text-anchor="middle" transform="rotate(-90 655.0 1452.6)">Mean Δ<tspan font-style="italic">F</tspan>/<tspan font-style="italic">F</tspan><tspan font-style="italic" font-size="22" dy="6">0</tspan><tspan dy="-6"> During SEs</tspan></text>
<text x="832.0" y="1296.4" font-size="26.8" text-anchor="middle">n.s.</text>
<circle cx="789.2" cy="1350.1" r="4.6" fill="#5f5f5f"/>
<circle cx="784.6" cy="1404.2" r="4.6" fill="#5f5f5f"/>
<circle cx="776.2" cy="1438.7" r="4.6" fill="#5f5f5f"/>
<circle cx="802.5" cy="1437.5" r="4.6" fill="#5f5f5f"/>
<circle cx="780.4" cy="1486.0" r="4.6" fill="#5f5f5f"/>
<circle cx="784.6" cy="1577.4" r="4.6" fill="#5f5f5f"/>
<circle cx="866.2" cy="1413.5" r="4.6" fill="#6a6af4"/>
<circle cx="853.4" cy="1451.5" r="4.6" fill="#6a6af4"/>
<circle cx="880.2" cy="1477.6" r="4.6" fill="#6a6af4"/>
<circle cx="853.4" cy="1502.1" r="4.6" fill="#6a6af4"/>
<circle cx="866.2" cy="1508.6" r="4.6" fill="#6a6af4"/>
<circle cx="874.8" cy="1502.1" r="4.6" fill="#6a6af4"/>
<rect x="784.3" y="1417.7" width="8.4" height="63.0" fill="#000"/>
<rect x="773.5" y="1443.8" width="30.0" height="9.3" fill="#000"/>
<rect x="858.5" y="1460.8" width="8.4" height="29.9" fill="#0a0aee"/>
<rect x="847.7" y="1471.3" width="30.0" height="9.3" fill="#0a0aee"/>
<text x="1186.0" y="1237.0" font-size="33" text-anchor="middle">RE-active Neurons</text>
<text x="1185.0" y="1260.8" font-size="20" text-anchor="middle">(from session 1 - 3)</text>
<line x1="1101.8" y1="1305.1" x2="1101.8" y2="1616.7" stroke="#000" stroke-width="4.5" stroke-linecap="butt"/>
<line x1="1101.8" y1="1305.0" x2="1114.8" y2="1305.0" stroke="#000" stroke-width="4.5" stroke-linecap="butt"/>
<line x1="1101.8" y1="1349.2" x2="1114.8" y2="1349.2" stroke="#000" stroke-width="4.5" stroke-linecap="butt"/>
<line x1="1101.8" y1="1393.4" x2="1114.8" y2="1393.4" stroke="#000" stroke-width="4.5" stroke-linecap="butt"/>
<line x1="1101.8" y1="1437.6" x2="1114.8" y2="1437.6" stroke="#000" stroke-width="4.5" stroke-linecap="butt"/>
<line x1="1101.8" y1="1481.8" x2="1114.8" y2="1481.8" stroke="#000" stroke-width="4.5" stroke-linecap="butt"/>
<line x1="1101.8" y1="1526.0" x2="1114.8" y2="1526.0" stroke="#000" stroke-width="4.5" stroke-linecap="butt"/>
<line x1="1101.8" y1="1570.2" x2="1114.8" y2="1570.2" stroke="#000" stroke-width="4.5" stroke-linecap="butt"/>
<line x1="1099.5" y1="1614.4" x2="1268.4" y2="1614.4" stroke="#000" stroke-width="4.5" stroke-linecap="butt"/>
<text x="1083.0" y="1361.2" font-size="26" text-anchor="end">0.6</text>
<text x="1083.0" y="1449.6" font-size="26" text-anchor="end">0.4</text>
<text x="1083.0" y="1538.0" font-size="26" text-anchor="end">0.2</text>
<text x="1083.0" y="1626.4" font-size="26" text-anchor="end">0</text>
<text x="990.8" y="1460.4" font-size="33" text-anchor="middle" transform="rotate(-90 990.8 1460.4)">Activity Index During SEs</text>
<text x="1027.3" y="1464.0" font-size="26" text-anchor="middle" transform="rotate(-90 1027.3 1464.0)">(subthreshold vs. stationary)</text>
<text x="1202.9" y="1296.5" font-size="26.8" text-anchor="middle">n.s.</text>
<circle cx="1159.0" cy="1411.5" r="4.6" fill="#5f5f5f"/>
<circle cx="1177.0" cy="1433.4" r="4.6" fill="#5f5f5f"/>
<circle cx="1157.1" cy="1442.7" r="4.6" fill="#5f5f5f"/>
<circle cx="1155.5" cy="1482.6" r="4.6" fill="#5f5f5f"/>
<circle cx="1175.3" cy="1487.0" r="4.6" fill="#5f5f5f"/>
<circle cx="1165.8" cy="1540.2" r="4.6" fill="#5f5f5f"/>
<circle cx="1230.1" cy="1340.3" r="4.6" fill="#6a6af4"/>
<circle cx="1239.9" cy="1362.5" r="4.6" fill="#6a6af4"/>
<circle cx="1220.1" cy="1443.0" r="4.6" fill="#6a6af4"/>
<circle cx="1245.1" cy="1482.6" r="4.6" fill="#6a6af4"/>
<circle cx="1229.9" cy="1504.5" r="4.6" fill="#6a6af4"/>
<circle cx="1229.9" cy="1531.4" r="4.6" fill="#6a6af4"/>
<rect x="1162.3" y="1447.4" width="8.4" height="37.3" fill="#000"/>
<rect x="1150.5" y="1461.8" width="32.0" height="8.4" fill="#000"/>
<rect x="1228.7" y="1413.1" width="8.4" height="62.3" fill="#0a0aee"/>
<rect x="1216.9" y="1439.2" width="32.0" height="8.4" fill="#0a0aee"/>
<text x="1523.7" y="1237.0" font-size="33" text-anchor="middle">SE-active Neurons</text>
<text x="1524.0" y="1260.8" font-size="20" text-anchor="middle">(from session 1 - 3)</text>
<line x1="1440.8" y1="1305.0" x2="1440.8" y2="1617.0" stroke="#000" stroke-width="4.5" stroke-linecap="butt"/>
<line x1="1440.8" y1="1305.2" x2="1453.8" y2="1305.2" stroke="#000" stroke-width="4.5" stroke-linecap="butt"/>
<line x1="1440.8" y1="1356.8" x2="1453.8" y2="1356.8" stroke="#000" stroke-width="4.5" stroke-linecap="butt"/>
<line x1="1440.8" y1="1408.4" x2="1453.8" y2="1408.4" stroke="#000" stroke-width="4.5" stroke-linecap="butt"/>
<line x1="1440.8" y1="1460.0" x2="1453.8" y2="1460.0" stroke="#000" stroke-width="4.5" stroke-linecap="butt"/>
<line x1="1440.8" y1="1511.6" x2="1453.8" y2="1511.6" stroke="#000" stroke-width="4.5" stroke-linecap="butt"/>
<line x1="1440.8" y1="1563.2" x2="1453.8" y2="1563.2" stroke="#000" stroke-width="4.5" stroke-linecap="butt"/>
<line x1="1438.5" y1="1614.8" x2="1607.3" y2="1614.8" stroke="#000" stroke-width="4.5" stroke-linecap="butt"/>
<text x="1422.0" y="1317.2" font-size="26" text-anchor="end">-0.6</text>
<text x="1422.0" y="1420.4" font-size="26" text-anchor="end">-0.4</text>
<text x="1422.0" y="1523.6" font-size="26" text-anchor="end">-0.2</text>
<text x="1422.0" y="1626.8" font-size="26" text-anchor="end">0</text>
<text x="1356.2" y="1465.0" font-size="33" text-anchor="middle" transform="rotate(-90 1356.2 1465.0)">Activity Index</text>
<text x="1544.2" y="1296.4" font-size="26.8" text-anchor="middle">n.s.</text>
<circle cx="1508.9" cy="1338.4" r="4.6" fill="#5f5f5f"/>
<circle cx="1500.8" cy="1469.0" r="4.6" fill="#5f5f5f"/>
<circle cx="1515.5" cy="1500.0" r="4.6" fill="#5f5f5f"/>
<circle cx="1496.6" cy="1507.1" r="4.6" fill="#5f5f5f"/>
<circle cx="1519.4" cy="1512.9" r="4.6" fill="#5f5f5f"/>
<circle cx="1508.9" cy="1528.0" r="4.6" fill="#5f5f5f"/>
<circle cx="1565.6" cy="1382.0" r="4.6" fill="#6a6af4"/>
<circle cx="1574.9" cy="1410.7" r="4.6" fill="#6a6af4"/>
<circle cx="1559.8" cy="1431.3" r="4.6" fill="#6a6af4"/>
<circle cx="1577.7" cy="1469.7" r="4.6" fill="#6a6af4"/>
<circle cx="1565.6" cy="1523.1" r="4.6" fill="#6a6af4"/>
<circle cx="1579.4" cy="1517.3" r="4.6" fill="#6a6af4"/>
<rect x="1504.3" y="1447.3" width="8.4" height="57.2" fill="#000"/>
<rect x="1494.0" y="1471.8" width="29.0" height="8.4" fill="#000"/>
<rect x="1564.9" y="1432.4" width="8.4" height="46.4" fill="#0a0aee"/>
<rect x="1554.6" y="1451.5" width="29.0" height="8.4" fill="#0a0aee"/>
<text x="1873.6" y="1237.0" font-size="33" text-anchor="middle">SE-active Neurons</text>
<text x="1873.8" y="1260.8" font-size="20" text-anchor="middle">(from session 1 - 3)</text>
<line x1="1791.2" y1="1305.1" x2="1791.2" y2="1617.2" stroke="#000" stroke-width="4.5" stroke-linecap="butt"/>
<line x1="1791.2" y1="1305.4" x2="1804.2" y2="1305.4" stroke="#000" stroke-width="4.5" stroke-linecap="butt"/>
<line x1="1791.2" y1="1367.3" x2="1804.2" y2="1367.3" stroke="#000" stroke-width="4.5" stroke-linecap="butt"/>
<line x1="1791.2" y1="1429.2" x2="1804.2" y2="1429.2" stroke="#000" stroke-width="4.5" stroke-linecap="butt"/>
<line x1="1791.2" y1="1491.1" x2="1804.2" y2="1491.1" stroke="#000" stroke-width="4.5" stroke-linecap="butt"/>
<line x1="1791.2" y1="1553.0" x2="1804.2" y2="1553.0" stroke="#000" stroke-width="4.5" stroke-linecap="butt"/>
<line x1="1789.0" y1="1614.9" x2="1957.2" y2="1614.9" stroke="#000" stroke-width="4.5" stroke-linecap="butt"/>
<text x="1771.6" y="1379.3" font-size="26" text-anchor="end">2.0</text>
<text x="1771.6" y="1503.1" font-size="26" text-anchor="end">1.0</text>
<text x="1771.6" y="1626.9" font-size="26" text-anchor="end">0</text>
<text x="1675.0" y="1458.6" font-size="33" text-anchor="middle" transform="rotate(-90 1675.0 1458.6)">Synchrony Events</text>
<text x="1714.6" y="1461.0" font-size="33" text-anchor="middle" transform="rotate(-90 1714.6 1461.0)">(per second)</text>
<text x="1895.8" y="1296.5" font-size="26.8" text-anchor="middle">n.s.</text>
<circle cx="1856.9" cy="1354.8" r="4.6" fill="#5f5f5f"/>
<circle cx="1847.1" cy="1383.5" r="4.6" fill="#5f5f5f"/>
<circle cx="1864.6" cy="1406.1" r="4.6" fill="#5f5f5f"/>
<circle cx="1847.1" cy="1483.8" r="4.6" fill="#5f5f5f"/>
<circle cx="1863.2" cy="1500.1" r="4.6" fill="#5f5f5f"/>
<circle cx="1848.8" cy="1504.1" r="4.6" fill="#5f5f5f"/>
<circle cx="1927.4" cy="1348.5" r="4.6" fill="#6a6af4"/>
<circle cx="1914.6" cy="1401.9" r="4.6" fill="#6a6af4"/>
<circle cx="1932.3" cy="1431.3" r="4.6" fill="#6a6af4"/>
<circle cx="1912.9" cy="1467.2" r="4.6" fill="#6a6af4"/>
<circle cx="1933.9" cy="1484.2" r="4.6" fill="#6a6af4"/>
<circle cx="1927.4" cy="1602.7" r="4.6" fill="#6a6af4"/>
<rect x="1852.3" y="1412.4" width="8.4" height="52.5" fill="#000"/>
<rect x="1840.8" y="1434.6" width="31.5" height="8.4" fill="#000"/>
<rect x="1918.8" y="1420.8" width="8.4" height="70.0" fill="#0a0aee"/>
<rect x="1907.2" y="1452.0" width="31.5" height="8.4" fill="#0a0aee"/>
<text x="772.5" y="1673.2" font-size="26" transform="rotate(-45 772.5 1673.2)">WT</text>
<text x="798.2" y="1737.8" font-size="26" font-style="italic" transform="rotate(-45 798.2 1737.8)">16p11.2<tspan font-size="16" dx="-1" dy="-20.8">+/-</tspan></text>
<text x="1144.3" y="1673.2" font-size="26" transform="rotate(-45 1144.3 1673.2)">WT</text>
<text x="1171.0" y="1737.8" font-size="26" font-style="italic" transform="rotate(-45 1171.0 1737.8)">16p11.2<tspan font-size="16" dx="-1" dy="-20.8">+/-</tspan></text>
<text x="1483.8" y="1673.9" font-size="26" transform="rotate(-45 1483.8 1673.9)">WT</text>
<text x="1512.7" y="1737.1" font-size="26" font-style="italic" transform="rotate(-45 1512.7 1737.1)">16p11.2<tspan font-size="16" dx="-1" dy="-20.8">+/-</tspan></text>
<text x="1832.8" y="1673.9" font-size="26" transform="rotate(-45 1832.8 1673.9)">WT</text>
<text x="1866.7" y="1737.1" font-size="26" font-style="italic" transform="rotate(-45 1866.7 1737.1)">16p11.2<tspan font-size="16" dx="-1" dy="-20.8">+/-</tspan></text>
<text x="304.5" y="1795.4" font-size="33" text-anchor="middle">RE-active Neurons</text>
<text x="304.5" y="1819.8" font-size="20" text-anchor="middle">(newly-emerged)</text>
<line x1="128.4" y1="1871.0" x2="128.4" y2="2184.8" stroke="#000" stroke-width="4.5" stroke-linecap="butt"/>
<line x1="128.4" y1="1873.1" x2="143.4" y2="1873.1" stroke="#000" stroke-width="4.5" stroke-linecap="butt"/>
<line x1="128.4" y1="1917.3" x2="143.4" y2="1917.3" stroke="#000" stroke-width="4.5" stroke-linecap="butt"/>
<line x1="128.4" y1="1961.5" x2="143.4" y2="1961.5" stroke="#000" stroke-width="4.5" stroke-linecap="butt"/>
<line x1="128.4" y1="2005.7" x2="143.4" y2="2005.7" stroke="#000" stroke-width="4.5" stroke-linecap="butt"/>
<line x1="128.4" y1="2049.9" x2="143.4" y2="2049.9" stroke="#000" stroke-width="4.5" stroke-linecap="butt"/>
<line x1="128.4" y1="2094.1" x2="143.4" y2="2094.1" stroke="#000" stroke-width="4.5" stroke-linecap="butt"/>
<line x1="128.4" y1="2138.3" x2="143.4" y2="2138.3" stroke="#000" stroke-width="4.5" stroke-linecap="butt"/>
<line x1="10.1" y1="2182.5" x2="598.7" y2="2182.5" stroke="#000" stroke-width="4.5" stroke-linecap="butt"/>
<line x1="11.3" y1="2182.5" x2="11.3" y2="2166.5" stroke="#000" stroke-width="4.5" stroke-linecap="butt"/>
<line x1="245.5" y1="2182.5" x2="245.5" y2="2166.5" stroke="#000" stroke-width="4.5" stroke-linecap="butt"/>
<line x1="362.6" y1="2182.5" x2="362.6" y2="2166.5" stroke="#000" stroke-width="4.5" stroke-linecap="butt"/>
<line x1="479.7" y1="2182.5" x2="479.7" y2="2166.5" stroke="#000" stroke-width="4.5" stroke-linecap="butt"/>
<line x1="596.8" y1="2182.5" x2="596.8" y2="2166.5" stroke="#000" stroke-width="4.5" stroke-linecap="butt"/>
<text x="113.9" y="1929.3" font-size="26" text-anchor="end">60</text>
<text x="113.9" y="2017.7" font-size="26" text-anchor="end">40</text>
<text x="113.9" y="2106.1" font-size="26" text-anchor="end">20</text>
<text x="9.0" y="2210.0" font-size="25" text-anchor="middle">−1</text>
<text x="128.4" y="2226.6" font-size="25" text-anchor="middle">0</text>
<text x="245.5" y="2226.6" font-size="25" text-anchor="middle">1</text>
<text x="362.6" y="2226.6" font-size="25" text-anchor="middle">2</text>
<text x="479.7" y="2226.6" font-size="25" text-anchor="middle">3</text>
<text x="596.8" y="2226.6" font-size="25" text-anchor="middle">4</text>
<text x="39.4" y="2027.0" font-size="33" text-anchor="middle" transform="rotate(-90 39.4 2027.0)">Cell Number</text>
<text x="64.7" y="2027.0" font-size="19.5" text-anchor="middle" transform="rotate(-90 64.7 2027.0)">(from session 4-6)</text>
<text x="304.5" y="2290.5" font-size="33" text-anchor="middle">Δ Behavior Performance Index</text>
<text x="303.7" y="2315.0" font-size="19.8" text-anchor="middle">(between session 4-7)</text>
<line x1="107.5" y1="2031.5" x2="559.9" y2="2127.3" stroke="#222" stroke-width="5" stroke-dasharray="9 8"/>
<text x="415.0" y="1941.0" font-size="26">r = - 0.304</text>
<text x="415.0" y="1972.2" font-size="26"><tspan font-style="italic">p</tspan> = 0.337</text>
<circle cx="204.6" cy="1907.7" r="9.6" fill="#222"/>
<circle cx="189.1" cy="1934.1" r="9.6" fill="#222"/>
<circle cx="197.2" cy="2080.5" r="9.6" fill="#222"/>
<circle cx="121.1" cy="2110.9" r="9.6" fill="#222"/>
<circle cx="285.1" cy="2145.7" r="9.6" fill="#222"/>
<circle cx="550.3" cy="2102" r="9.6" fill="#222"/>
<polygon points="247.0,1996.0 256.2,2012.5 237.8,2012.5" fill="#0a0aee"/>
<polygon points="321.5,2027.3 330.8,2043.8 312.2,2043.8" fill="#0a0aee"/>
<polygon points="195.9,2089.3 205.2,2105.8 186.7,2105.8" fill="#0a0aee"/>
<polygon points="312.2,2084.4 321.4,2100.9 302.9,2100.9" fill="#0a0aee"/>
<polygon points="263.3,2128.5 272.6,2145.0 254.1,2145.0" fill="#0a0aee"/>
<polygon points="385.7,2115.8 394.9,2132.3 376.4,2132.3" fill="#0a0aee"/>
<circle cx="489.1" cy="1787.2" r="10.8" fill="#222"/>
<polygon points="488.6,1819.9 499.3,1840.3 477.9,1840.3" fill="#0a0aee"/>
<text x="521.0" y="1794.0" font-size="22.5">WT</text>
<text x="516.0" y="1837.6" font-size="25" font-style="italic" fill="#2424c4">16p11.2<tspan font-size="20" dy="-19">+/-</tspan></text>
<path d="M787.4,230.2 L783.8,233.4 L781.1,231.0 L782.1,226.9 L785.2,227.0Z M946.8,413.0 L949.5,415.7 L949.7,417.6 L947.7,419.5 L944.7,419.2 L944.1,415.1Z M789.8,274.2 L787.4,274.2 L788.9,269.5 L791.9,267.7 L793.2,270.4 L792.6,272.5Z M814.6,382.6 L816.2,387.2 L813.3,391.3 L807.2,389.8 L806.1,384.0 L808.2,382.0Z M822.9,209.3 L825.0,208.6 L827.8,211.3 L825.7,215.6 L822.2,215.3 L821.0,212.8Z M962.5,404.0 L964.8,405.5 L962.7,410.3 L958.6,408.4Z M980.9,258.4 L980.8,262.8 L974.6,265.8 L971.6,260.1 L974.8,255.6Z M956.3,99.8 L954.6,105.9 L950.1,103.8 L952.1,98.5Z M1044.3,373.8 L1042.7,375.9 L1038.0,375.5 L1037.5,372.8 L1041.6,371.2Z M1005.5,148.3 L1002.2,147.2 L1003.3,142.4 L1008.1,137.9 L1012.4,141.1 L1009.8,146.3Z M872.7,164.9 L877.6,167.0 L876.7,173.2 L870.6,172.1Z M930.6,112.7 L930.6,117.7 L925.5,118.3 L923.5,115.6 L928.3,112.1Z M861.3,289.1 L859.9,286.8 L862.1,283.1 L864.9,283.7 L866.4,286.8 L864.5,288.9Z M932.3,365.4 L932.7,368.1 L928.9,370.4 L926.1,369.0 L926.6,366.6 L929.0,365.0Z M898.9,104.8 L899.9,101.7 L904.7,100.4 L907.9,102.5 L903.1,107.0Z M867.3,275.2 L865.8,278.2 L860.0,280.0 L854.6,276.8 L856.3,271.9 L861.5,268.4Z M846.0,347.0 L840.9,346.2 L839.6,341.7 L840.9,340.4 L846.1,340.7 L847.4,344.9Z M1019.7,240.4 L1011.2,238.6 L1011.7,233.8 L1020.1,236.1Z M1083.6,127.1 L1087.8,129.8 L1086.5,134.8 L1082.1,133.3 L1081.4,129.3Z M795.9,189.2 L798.3,192.5 L797.9,195.4 L792.9,194.4 L792.3,192.0Z M837.2,369.2 L836.8,372.3 L833.0,371.8 L832.0,368.8 L833.4,367.5Z M984.3,377.3 L982.7,373.5 L987.7,371.6 L991.4,375.5 L989.1,378.3Z M791.5,394.3 L789.1,395.8 L785.7,393.5 L784.9,390.9 L788.6,389.9 L791.3,392.2Z M1115.6,228.5 L1118.2,230.2 L1117.0,233.9 L1111.9,235.7 L1109.7,234.1 L1111.2,230.3Z M1081.9,172.7 L1076.9,172.3 L1077.7,167.4 L1081.2,165.9 L1083.7,168.5Z M818.9,136.8 L822.1,139.8 L822.0,145.2 L817.5,144.7 L814.2,139.0Z M876.9,352.1 L875.0,346.3 L876.8,343.5 L884.4,342.3 L884.1,347.6 L882.5,350.4Z M888.7,416.9 L892.5,418.3 L893.4,422.1 L888.8,423.8 L885.8,418.8Z M929.7,79.3 L923.8,84.8 L918.6,81.9 L920.7,74.7 L926.9,73.0Z M892.3,344.7 L894.3,345.3 L896.5,349.0 L894.5,351.2 L891.5,351.5 L890.1,347.4Z M1067.4,248.5 L1074.1,245.8 L1076.0,254.1 L1069.9,255.9Z M1051.7,146.7 L1054.0,148.4 L1051.0,151.5 L1046.6,151.0 L1047.4,147.9Z M1117.5,281.8 L1118.0,277.3 L1122.9,277.3 L1125.0,285.6 L1120.2,286.9Z M916.8,100.7 L920.5,100.4 L921.7,105.2 L917.7,107.4Z M847.6,318.7 L851.0,316.2 L854.7,320.2 L853.7,324.2 L851.5,324.9 L846.9,321.1Z M888.5,265.2 L885.9,261.9 L884.7,255.7 L890.9,253.9 L892.9,260.3Z M916.0,89.9 L911.5,88.6 L910.9,84.5 L915.4,81.9 L916.9,85.9Z M950.2,426.0 L949.3,422.0 L952.5,421.2 L955.4,421.6 L956.6,425.3 L954.0,426.7Z M933.2,161.6 L931.7,158.1 L932.5,154.7 L935.4,155.3 L936.7,160.5Z M794.8,217.8 L800.3,219.9 L798.2,223.6 L795.0,223.2 L792.6,218.9Z M1043.3,235.9 L1050.3,238.6 L1050.0,242.1 L1044.3,242.9 L1041.2,239.8Z M1099.2,268.8 L1095.8,265.4 L1097.3,260.4 L1101.7,263.1Z M946.1,167.1 L951.9,169.4 L951.7,173.7 L948.2,173.9 L944.4,169.5Z M1110.5,328.7 L1114.7,331.7 L1113.8,334.6 L1108.4,338.3 L1105.7,336.0 L1106.8,328.9Z M920.1,402.8 L923.4,400.5 L924.6,404.2 L920.9,407.1Z M1020.7,182.9 L1026.5,177.9 L1029.5,180.7 L1027.3,186.1 L1021.4,186.9Z M952.2,305.2 L950.3,307.5 L947.7,306.6 L947.6,302.8 L949.2,300.3 L951.6,299.4Z M1030.8,426.4 L1027.5,427.8 L1024.2,424.0 L1023.2,421.7 L1027.7,419.8 L1030.4,422.7Z M852.6,379.5 L856.0,377.7 L862.0,380.2 L862.3,386.4 L856.6,386.4 L853.3,384.2Z M1065.5,330.3 L1068.6,330.7 L1066.5,336.9 L1061.6,337.3 L1059.1,335.5 L1060.2,332.2Z M972.8,169.5 L970.2,171.4 L967.4,168.3 L967.7,165.2 L971.4,164.1 L974.3,167.6Z M1082.7,256.6 L1084.0,260.0 L1080.0,264.4 L1077.0,263.6 L1078.5,257.8Z M848.4,388.6 L848.1,390.5 L843.6,391.7 L842.6,389.1 L845.3,387.3Z M834.6,309.6 L835.1,316.0 L830.7,318.8 L828.0,315.2 L831.0,310.5Z M862.8,240.8 L866.6,239.8 L867.7,243.7 L866.2,247.7 L862.5,244.2Z M1034.8,221.5 L1035.2,227.2 L1030.8,227.7 L1027.5,225.4 L1028.6,221.6 L1031.1,220.1Z M773.2,378.8 L780.6,379.8 L779.6,385.8 L774.6,384.7Z M849.7,372.9 L847.1,366.3 L853.2,364.7 L856.9,368.8 L855.3,374.1Z M1082.2,175.1 L1085.9,177.3 L1086.4,179.9 L1081.7,182.8 L1080.5,180.1Z M862.4,257.9 L864.7,254.2 L869.5,256.2 L869.0,261.6 L864.1,261.4Z M874.6,300.0 L870.3,299.8 L868.8,296.9 L873.2,292.8 L876.7,294.3Z M931.2,244.1 L934.0,238.2 L937.4,239.1 L935.3,246.0Z M903.4,415.6 L904.8,411.2 L907.8,412.5 L909.0,416.5 L906.9,418.6 L904.4,417.9Z M843.6,206.1 L847.6,209.8 L846.8,213.9 L841.5,215.3 L840.8,208.7Z M991.7,158.5 L989.3,156.8 L989.6,152.8 L993.4,152.4 L994.8,156.2Z M1062.6,118.0 L1062.6,121.3 L1059.2,125.8 L1053.8,123.4 L1053.6,119.7 L1059.0,114.4Z M1009.9,172.5 L1010.6,168.4 L1013.3,167.0 L1015.0,169.1 L1015.6,172.3 L1012.5,173.9Z M809.9,291.2 L808.5,297.7 L802.6,297.8 L803.5,293.1Z M778.3,154.7 L777.9,151.9 L783.5,151.6 L784.3,155.0 L781.5,156.9Z M852.4,153.0 L857.5,152.7 L859.5,157.1 L860.5,160.4 L856.3,161.8 L852.9,158.2Z M1126.0,244.2 L1126.0,247.2 L1123.0,249.8 L1118.6,245.4 L1119.3,242.6 L1122.8,240.2Z M869.5,221.1 L868.1,217.4 L869.4,214.2 L872.2,214.3 L873.1,217.9 L872.2,220.5Z M1012.6,320.8 L1011.1,325.8 L1006.5,324.2 L1008.0,318.5 L1010.8,316.5Z M1123.0,262.4 L1123.1,264.6 L1118.3,265.4 L1116.4,263.6 L1117.3,259.3 L1120.2,258.4Z M1107.8,350.8 L1109.9,348.3 L1112.4,348.0 L1115.0,352.9 L1113.6,355.0 L1109.4,355.0Z M956.8,69.1 L956.8,73.9 L955.8,76.2 L950.3,78.0 L947.4,74.3 L951.1,69.9Z M1095.3,248.5 L1095.1,250.5 L1093.5,251.4 L1091.1,247.9 L1091.9,246.0 L1093.7,245.7Z M938.1,260.6 L940.5,258.2 L943.7,258.8 L944.2,261.4 L941.9,264.7 L938.7,263.9Z M882.3,311.8 L883.4,309.5 L886.5,310.3 L888.1,313.2 L887.3,315.3 L884.8,314.3Z M1034.2,120.0 L1034.8,111.6 L1040.2,111.2 L1043.7,117.4 L1038.7,120.4Z M1020.5,94.6 L1021.5,90.1 L1024.8,88.4 L1026.9,90.2 L1026.7,94.0 L1023.8,95.4Z M893.2,272.5 L889.7,272.9 L889.0,269.9 L891.6,267.7 L894.5,267.8 L895.3,269.9Z M793.3,121.6 L790.1,116.8 L792.9,113.2 L799.1,115.2 L798.7,119.9Z M847.4,327.9 L850.2,326.8 L853.3,331.8 L850.9,334.2 L847.8,333.4Z M1107.4,226.5 L1106.5,223.6 L1109.2,222.4 L1113.3,225.1 L1110.6,226.9Z M997.5,319.8 L1001.9,319.8 L1002.6,321.9 L1000.2,327.1 L993.7,328.0 L992.3,325.2Z M803.6,249.2 L806.3,250.3 L806.7,256.2 L802.2,256.7 L801.2,252.0Z M1033.2,59.3 L1036.7,60.3 L1037.9,64.7 L1035.5,68.5 L1031.0,68.7 L1030.1,63.3Z M830.4,399.6 L826.4,399.3 L824.9,397.2 L826.3,394.9 L829.7,394.3 L832.2,395.6Z M1042.0,274.6 L1040.9,278.6 L1034.8,278.3 L1034.5,274.7 L1037.2,270.7Z M894.4,304.5 L897.6,299.9 L901.8,304.6 L898.1,307.1Z M995.8,108.4 L990.5,109.1 L988.6,105.8 L993.4,103.9Z M848.8,276.3 L855.9,281.1 L848.4,284.3 L844.9,280.6Z M936.3,213.2 L932.3,213.3 L929.3,210.2 L931.6,207.0 L934.1,206.6 L938.2,209.9Z M1123.3,340.7 L1119.0,339.6 L1118.1,336.4 L1121.8,334.1 L1123.7,337.7Z M924.2,221.6 L927.8,218.4 L932.0,221.7 L933.4,224.4 L928.8,228.8 L924.7,228.1Z M868.3,379.5 L874.0,382.2 L873.3,386.2 L867.0,384.5Z M1015.2,385.3 L1018.9,385.8 L1021.9,389.7 L1020.4,392.1 L1014.7,389.1Z M974.2,281.4 L979.2,284.3 L977.3,289.0 L970.9,286.7Z M939.7,342.3 L934.9,347.4 L929.8,342.5 L936.3,337.4Z M1004.6,83.1 L1005.5,80.6 L1008.1,80.6 L1009.8,82.1 L1008.2,85.6 L1005.2,86.6Z M880.1,272.9 L882.4,269.2 L886.2,271.3 L885.4,275.6 L882.8,276.3Z M811.9,279.3 L816.8,281.5 L813.8,286.4 L807.0,285.7 L806.6,280.8Z M812.6,409.9 L812.9,413.9 L806.2,413.4 L806.9,408.0Z M772.2,179.7 L771.0,183.8 L765.9,183.7 L764.4,181.1 L766.5,178.7Z M883.7,364.5 L885.0,369.3 L879.4,370.9 L877.4,368.2 L879.2,363.0Z M1069.6,267.5 L1064.7,272.1 L1062.2,271.0 L1062.2,265.2 L1066.0,263.8Z M775.4,420.9 L770.8,422.9 L767.6,415.1 L774.3,413.2Z M878.9,326.6 L874.5,332.3 L871.4,329.7 L873.4,324.0 L876.3,321.8Z M1068.2,137.5 L1068.2,139.9 L1066.0,143.9 L1063.4,144.5 L1062.1,140.0 L1064.2,137.4Z M833.2,146.2 L833.7,149.8 L830.9,151.8 L827.4,148.7 L828.2,145.9 L830.8,145.2Z M774.2,219.7 L772.5,228.3 L767.1,227.7 L764.0,221.6 L769.8,217.3Z M894.6,150.2 L897.5,150.7 L900.0,152.1 L898.7,156.9 L895.8,157.1 L892.3,153.6Z M974.1,303.8 L979.7,308.2 L973.7,312.7 L968.0,306.9Z M1005.5,55.9 L1004.8,62.2 L998.8,61.7 L1000.6,54.9Z M768.8,321.9 L767.6,319.3 L770.9,317.6 L774.8,319.2 L774.5,321.4 L770.9,323.7Z M799.8,206.9 L797.3,210.3 L793.0,207.4 L795.5,203.8Z M894.1,374.3 L897.5,375.0 L898.6,378.6 L896.5,381.1 L891.4,379.5 L890.7,376.6Z M983.9,187.0 L981.7,188.6 L979.1,188.1 L979.8,184.7 L982.3,183.6 L984.6,185.0Z M831.7,134.8 L830.4,134.3 L830.9,130.8 L832.7,129.5 L835.0,130.4 L834.7,134.0Z M789.8,284.9 L790.7,281.2 L795.5,278.9 L798.4,280.5 L797.0,285.6Z M915.7,321.5 L913.0,328.2 L909.3,330.6 L904.4,325.9 L908.7,318.8Z M833.3,156.7 L832.4,160.0 L829.0,160.0 L826.8,157.8 L829.5,154.5Z M897.9,238.4 L898.6,241.8 L894.9,245.1 L893.2,244.4 L891.9,240.9 L894.7,238.0Z M900.0,95.9 L898.4,92.6 L900.6,87.6 L906.1,86.4 L905.9,92.4Z M1076.5,120.9 L1074.6,122.5 L1071.2,120.7 L1072.7,115.4 L1075.7,116.1Z M909.6,236.3 L906.2,239.5 L903.9,236.8 L907.2,232.6Z M1002.4,265.7 L1001.2,261.8 L1003.9,259.4 L1007.3,262.9 L1006.3,265.0Z M984.9,249.2 L985.1,245.4 L990.3,241.6 L992.2,247.8 L991.2,251.4Z M1049.2,263.7 L1047.1,261.2 L1046.8,254.4 L1049.3,253.7 L1052.6,258.1Z M797.8,379.3 L800.3,381.9 L797.5,385.6 L794.6,386.2 L792.7,382.1Z M927.2,238.8 L923.8,243.1 L917.5,239.6 L920.1,234.8Z M884.6,141.9 L889.7,142.9 L892.1,148.7 L889.3,151.3 L884.0,149.2Z M858.9,128.0 L855.5,123.9 L858.9,120.2 L863.2,124.7 L863.5,127.9Z M1104.3,349.1 L1104.8,355.3 L1102.5,357.6 L1099.3,354.8 L1099.7,349.8 L1101.4,348.7Z M875.6,413.1 L878.2,414.4 L878.7,417.8 L876.2,421.1 L874.2,420.3 L873.6,416.2Z M904.8,125.0 L909.9,129.5 L904.5,136.0 L898.5,132.5Z M773.0,117.9 L777.3,120.3 L777.3,126.6 L771.6,126.8 L769.7,122.1Z M1122.3,212.5 L1122.0,210.1 L1125.7,207.4 L1129.7,209.6 L1128.8,212.2 L1126.6,214.5Z M1000.3,426.1 L997.4,421.8 L1000.6,419.3 L1004.6,421.1 L1004.7,426.1Z M979.8,351.6 L980.3,355.8 L976.3,359.1 L974.7,355.5 L976.0,350.6Z M883.4,191.9 L882.5,184.5 L890.8,184.6 L892.8,188.0 L889.3,193.4Z M780.9,136.1 L782.7,139.0 L779.3,141.7 L773.2,139.5 L773.6,137.0 L776.5,135.2Z M1065.7,366.0 L1062.3,367.9 L1058.7,365.2 L1060.9,361.8Z M1014.8,115.0 L1014.1,111.9 L1018.0,110.6 L1020.7,113.4 L1019.1,116.3Z M921.8,154.8 L924.2,157.8 L922.9,162.3 L918.4,162.2 L915.8,158.7 L918.7,155.4Z M833.6,200.1 L831.5,197.8 L832.3,192.1 L838.1,194.1 L840.4,198.5 L837.7,201.5Z M888.2,378.9 L886.4,380.7 L883.3,379.9 L882.8,377.2 L884.9,374.3 L887.9,374.7Z M1030.7,403.9 L1035.0,402.5 L1036.5,408.0 L1030.8,409.9Z M1044.1,350.9 L1043.6,357.4 L1041.1,358.2 L1037.3,355.6 L1037.4,351.4 L1042.1,349.7Z M1021.5,290.7 L1025.2,287.1 L1029.3,288.9 L1026.3,297.5 L1022.3,296.5Z M944.7,114.7 L942.4,111.0 L944.8,108.0 L948.2,108.7 L948.3,112.1Z M889.5,167.3 L888.6,169.5 L883.7,167.1 L884.6,163.6 L888.3,163.8Z M944.2,132.3 L940.8,136.8 L937.6,133.1 L938.8,129.3 L941.7,126.8Z M889.4,121.6 L886.6,124.0 L881.5,120.7 L883.6,115.1 L888.8,114.4 L891.9,117.4Z M1048.2,193.9 L1050.0,190.3 L1054.7,193.0 L1054.6,196.5 L1053.0,198.5 L1049.3,196.7Z M839.9,255.0 L846.3,253.5 L848.4,258.7 L846.6,262.4 L839.9,259.5Z M1036.5,189.2 L1037.3,184.2 L1043.0,188.6 L1039.5,191.2Z M1050.0,210.9 L1049.2,215.6 L1046.7,217.8 L1043.1,214.7 L1043.5,211.8 L1046.2,209.4Z M1087.5,338.8 L1092.0,340.2 L1092.4,343.3 L1086.9,343.9 L1084.1,340.9Z M845.3,308.1 L847.2,305.5 L851.5,305.8 L852.4,310.0 L849.6,311.6Z M994.2,386.9 L997.1,386.3 L1000.7,391.5 L999.2,394.1 L992.9,394.7 L992.3,390.4Z M927.9,380.8 L926.1,376.2 L927.9,374.1 L932.3,374.1 L934.3,378.6 L931.4,381.3Z M1030.5,91.1 L1032.9,86.6 L1035.5,85.4 L1038.4,88.2 L1036.7,93.5 L1033.6,94.7Z M1011.8,192.8 L1008.0,190.3 L1007.8,188.1 L1011.3,187.5 L1014.1,188.9 L1014.3,191.9Z M1026.4,197.2 L1023.5,199.4 L1021.8,198.1 L1021.0,192.0 L1024.6,189.9 L1026.2,192.2Z M929.7,201.0 L926.5,201.5 L923.7,198.1 L927.1,192.7 L930.9,193.6Z M1043.9,280.6 L1051.0,280.4 L1051.8,287.9 L1045.8,287.0Z M964.8,161.0 L959.9,165.8 L955.1,163.0 L956.5,158.7 L961.6,158.3Z M1067.7,230.7 L1073.2,233.6 L1072.3,239.0 L1065.3,238.3 L1062.6,235.9 L1063.5,230.7Z M834.0,169.7 L838.4,169.0 L839.5,173.0 L837.8,177.0 L832.9,177.6 L831.0,175.9Z M779.8,330.0 L777.5,331.4 L774.8,327.0 L777.3,324.8 L779.5,325.6Z M892.1,335.2 L887.0,334.5 L885.4,327.0 L890.1,327.3Z M903.5,357.3 L899.0,351.4 L905.0,346.8 L908.5,353.4Z M835.7,69.1 L838.2,64.6 L844.5,65.5 L845.3,71.3 L840.8,73.0Z M898.1,338.3 L894.3,335.3 L897.8,333.0 L901.3,335.9Z M1000.5,182.9 L999.1,188.5 L992.0,187.4 L990.3,181.1 L995.8,177.7Z M1093.8,141.6 L1091.3,137.9 L1092.1,132.1 L1097.6,131.5 L1101.0,136.1 L1100.3,139.5Z M813.3,343.4 L812.8,346.3 L808.4,347.4 L806.5,343.9 L809.1,339.4 L812.3,339.8Z M965.6,334.8 L962.2,332.9 L964.4,328.3 L967.3,330.3Z M937.4,409.5 L940.5,405.9 L944.5,407.6 L943.4,412.2Z M785.4,194.0 L782.0,193.5 L781.2,190.7 L784.0,189.2 L787.0,189.5 L787.6,192.2Z M940.4,89.8 L942.4,93.7 L940.6,97.8 L935.4,97.8 L934.6,90.6Z M840.2,266.2 L839.0,269.9 L836.3,271.4 L831.8,270.0 L832.7,264.6 L835.7,263.3Z M998.6,139.6 L992.1,139.5 L989.8,134.0 L994.0,131.5 L998.6,134.0Z M1090.7,223.4 L1091.7,227.6 L1088.8,229.5 L1086.7,228.5 L1084.9,225.2 L1087.4,223.4Z M1094.5,198.7 L1099.5,197.1 L1102.6,201.4 L1098.8,206.2 L1094.1,204.7Z M792.6,367.5 L790.7,361.6 L793.5,357.1 L798.3,359.0 L797.6,365.8Z M1097.2,189.7 L1095.4,185.9 L1096.8,179.6 L1100.3,179.6 L1105.0,183.6 L1103.5,187.6Z M916.3,306.5 L919.3,309.0 L918.5,314.2 L913.8,315.1 L909.7,313.1 L911.5,307.3Z M972.6,83.3 L975.3,84.8 L974.1,87.7 L972.5,88.3 L968.9,85.8 L969.6,83.9Z M995.5,351.6 L996.3,349.2 L999.5,348.7 L1001.1,351.3 L998.5,354.0Z M917.0,178.2 L921.5,171.7 L925.5,175.7 L922.9,181.0Z M1070.6,201.8 L1072.1,203.3 L1070.4,207.9 L1067.1,208.8 L1064.3,207.1 L1066.5,202.7Z M1087.3,285.8 L1092.2,286.6 L1094.7,289.5 L1090.7,293.0 L1087.7,292.6 L1084.6,288.6Z M1095.8,126.8 L1095.3,128.9 L1091.9,129.7 L1090.0,126.8 L1091.8,125.2Z M1010.3,88.2 L1012.1,84.5 L1015.6,84.2 L1016.3,89.4 L1012.4,91.2Z M960.5,129.3 L962.3,126.8 L965.5,127.5 L967.6,133.2 L966.4,135.9 L961.5,133.6Z M1047.7,339.3 L1051.8,340.6 L1049.7,346.8 L1045.8,347.6 L1040.6,346.3 L1042.0,341.1Z M823.6,361.2 L823.0,356.1 L828.8,354.1 L831.9,355.3 L830.3,361.2 L825.2,363.1Z M894.6,221.8 L891.2,223.1 L889.4,218.7 L891.5,215.1 L894.9,216.0Z M887.5,233.0 L888.9,236.7 L883.7,238.1 L883.3,234.7Z M848.8,220.4 L850.4,213.3 L855.8,215.0 L857.3,220.5 L852.9,225.0Z M842.1,412.9 L843.1,418.1 L839.9,419.9 L836.7,419.6 L836.0,415.4 L837.6,412.6Z M866.3,211.4 L867.6,205.3 L871.0,207.4 L868.9,211.9Z M824.4,339.8 L822.7,343.6 L816.4,344.1 L815.0,339.6 L820.4,337.1Z M760.1,158.6 L762.5,159.4 L763.0,162.6 L762.4,164.6 L759.9,164.7 L758.8,161.6Z M1071.1,198.3 L1068.9,195.9 L1070.6,191.6 L1074.9,191.4 L1076.5,193.2 L1074.0,197.4Z M1075.5,303.4 L1075.9,307.1 L1072.1,308.4 L1068.9,308.3 L1066.9,304.5 L1069.3,301.7Z M861.1,331.5 L866.8,330.6 L866.1,337.2 L860.6,337.1Z M950.2,363.1 L949.5,357.8 L953.2,356.5 L957.8,358.6 L958.1,364.4 L954.4,366.5Z M1048.7,164.4 L1046.3,167.1 L1042.5,163.8 L1043.2,160.7 L1046.7,160.8Z M913.6,156.2 L914.8,161.8 L909.9,165.6 L906.4,164.5 L905.1,157.7 L908.0,154.3Z M938.4,102.4 L935.8,106.3 L932.7,104.5 L934.4,100.0Z M1072.0,292.4 L1068.6,296.7 L1065.8,294.6 L1067.1,289.5 L1071.0,289.5Z M826.3,421.8 L833.1,421.0 L833.6,425.8 L829.2,427.4 L825.2,426.2Z M1023.1,416.3 L1023.6,411.3 L1026.1,409.6 L1028.5,412.8 L1028.0,416.3 L1026.2,419.0Z M948.0,325.1 L947.4,329.5 L941.2,328.2 L939.9,323.7 L944.3,322.0Z M813.2,213.3 L814.7,216.2 L814.1,218.8 L810.6,219.3 L808.5,214.9 L810.0,212.9Z M913.0,119.2 L910.5,114.9 L913.4,111.8 L917.8,113.0 L917.0,117.6Z M1106.3,137.1 L1108.4,135.7 L1111.6,137.5 L1112.7,140.7 L1111.0,141.6 L1107.0,140.4Z M988.1,340.6 L986.0,336.6 L986.4,333.1 L990.3,333.4 L993.4,336.3 L991.6,340.6Z M964.9,115.2 L961.0,119.6 L958.2,118.9 L959.3,112.0 L963.8,112.4Z M896.0,209.0 L900.8,207.2 L903.9,210.0 L904.3,212.6 L900.3,214.1 L896.3,212.6Z M1119.9,153.9 L1117.1,157.9 L1113.5,155.4 L1113.6,151.3 L1114.6,149.9 L1119.2,150.5Z M944.9,65.8 L946.6,68.8 L943.8,74.0 L939.9,70.8 L940.8,67.1Z M1110.3,173.8 L1114.2,174.2 L1116.1,177.4 L1113.8,180.1 L1110.0,179.0 L1109.4,175.3Z M892.2,282.1 L894.2,277.3 L900.3,278.3 L899.9,282.2 L896.1,283.9Z M913.0,375.7 L911.4,371.7 L912.8,368.7 L915.5,367.4 L918.2,372.1 L917.4,376.0Z M942.0,218.9 L948.2,223.2 L942.5,227.5 L938.9,223.7Z M909.2,381.6 L913.5,382.8 L915.3,388.0 L910.5,389.1 L906.3,386.5Z M1119.8,318.7 L1122.8,319.3 L1124.4,321.0 L1122.0,324.9 L1118.6,324.3 L1117.8,320.8Z M955.7,283.3 L959.2,285.1 L957.8,289.2 L953.9,286.9Z M830.4,326.6 L825.8,326.2 L825.3,322.6 L830.7,321.5Z M804.2,258.5 L809.3,260.8 L808.5,267.7 L802.4,268.6 L799.7,262.1Z M949.1,346.6 L945.6,348.6 L942.8,347.2 L944.0,343.2 L947.8,342.7Z M872.6,286.9 L869.5,285.9 L870.1,282.4 L872.4,281.2 L875.5,282.8 L876.5,285.4Z M970.9,293.3 L968.0,298.4 L964.3,296.2 L967.0,292.3Z M778.3,314.8 L777.0,313.3 L779.5,311.7 L783.7,312.2 L784.7,315.5 L782.0,316.1Z M1022.2,322.1 L1027.5,320.0 L1029.5,326.7 L1025.3,329.6 L1020.1,326.7Z M801.9,329.3 L802.7,324.1 L808.5,322.6 L810.4,325.6 L808.5,330.2 L803.0,331.0Z M1102.6,155.3 L1101.8,157.1 L1097.9,157.7 L1096.0,155.0 L1097.8,152.9 L1100.7,152.5Z M770.2,366.9 L773.7,367.3 L773.9,371.1 L771.8,374.0 L768.4,370.2Z M826.3,120.1 L822.4,120.5 L819.0,115.7 L820.3,111.3 L825.7,111.2 L828.2,114.4Z M852.7,270.1 L848.9,270.8 L848.9,266.6 L850.8,264.6 L854.5,265.4 L855.3,269.0Z M981.6,412.6 L984.1,410.0 L986.7,411.5 L986.7,414.5 L982.9,416.1Z M999.2,227.0 L997.2,229.7 L993.1,228.8 L993.2,223.5 L996.5,223.6Z M1104.3,294.5 L1109.7,293.7 L1113.7,299.1 L1110.1,303.4 L1102.6,300.9Z M961.8,149.4 L957.7,146.4 L958.3,141.8 L965.8,142.2 L966.6,146.7Z M878.1,258.4 L875.1,254.9 L876.1,251.8 L880.6,251.8 L881.0,255.9Z M922.6,359.1 L920.9,362.1 L918.5,363.2 L916.8,360.3 L917.5,357.2 L920.5,357.1Z M1075.4,323.4 L1068.7,323.9 L1067.4,318.9 L1069.8,316.0 L1074.6,316.3 L1076.0,319.4Z M987.3,125.4 L987.8,119.1 L995.0,118.3 L997.8,122.8 L994.0,127.6Z M1111.3,242.1 L1115.0,244.9 L1111.9,247.9 L1109.4,247.5 L1107.7,243.0Z M786.0,416.7 L787.2,413.4 L792.7,413.8 L793.1,417.0 L789.6,418.9Z M1001.3,237.5 L1003.0,235.0 L1008.0,235.6 L1009.4,238.9 L1006.4,241.1 L1002.1,239.3Z M780.8,174.2 L782.4,177.5 L779.2,180.4 L776.4,179.7 L775.7,175.2 L777.6,172.4Z M967.8,73.5 L969.0,69.3 L972.9,69.7 L974.2,75.6 L970.8,77.7Z M796.4,235.5 L800.8,235.6 L801.5,240.5 L796.3,240.7Z M909.1,398.0 L912.9,400.6 L913.2,406.6 L908.8,408.7 L905.3,405.2 L907.2,399.6Z M1120.2,218.8 L1117.4,222.3 L1113.8,219.9 L1116.3,215.9Z M768.1,206.0 L771.2,200.2 L775.7,200.1 L776.1,207.2Z M823.1,219.8 L827.6,217.7 L829.4,225.0 L826.6,226.9 L822.7,225.5Z M1065.3,172.6 L1067.0,176.3 L1062.6,179.3 L1059.1,176.3 L1061.1,173.0Z M987.6,399.3 L990.0,402.8 L986.8,406.0 L982.9,404.3 L982.7,401.5 L984.8,399.7Z M1088.4,210.0 L1089.0,207.5 L1094.3,207.2 L1095.3,209.6 L1093.0,212.2 L1090.8,212.8Z M934.8,295.4 L934.1,291.5 L935.4,289.4 L939.2,290.9 L940.3,293.4 L938.1,296.3Z M923.6,264.1 L924.7,260.7 L928.7,261.6 L929.4,265.0 L926.8,267.1Z M819.4,409.9 L816.2,407.1 L817.4,402.1 L821.7,402.3 L823.7,407.2Z M1086.7,305.1 L1082.1,303.7 L1081.3,301.5 L1086.8,300.9 L1089.0,302.8Z M908.1,178.7 L905.6,177.0 L907.4,172.6 L910.2,173.7 L911.1,176.6Z M878.3,245.9 L882.8,242.8 L885.7,245.8 L880.9,247.7Z M970.3,63.8 L965.5,62.2 L963.1,59.8 L966.2,55.9 L969.8,56.1 L972.7,59.7Z M1028.1,309.9 L1025.0,307.7 L1027.2,304.6 L1030.3,305.3 L1031.2,308.6Z M912.1,227.4 L913.9,224.7 L917.8,224.7 L918.3,230.0 L915.6,232.6 L912.5,232.7Z M998.7,204.1 L1005.3,201.6 L1007.7,204.5 L999.8,208.6Z M1106.4,384.5 L1106.3,379.2 L1112.1,377.2 L1113.9,384.3Z M839.3,148.3 L838.6,145.7 L841.3,143.6 L844.7,145.8 L844.4,148.4 L842.2,149.1Z M939.3,190.1 L943.3,186.5 L948.6,191.6 L948.6,194.8 L942.2,196.2 L939.7,193.7Z M792.6,152.8 L796.7,151.7 L800.1,153.9 L801.2,157.8 L797.8,158.9 L793.5,157.1Z M990.2,343.9 L993.5,344.1 L996.0,348.2 L992.7,349.6 L988.1,348.5Z M923.3,343.7 L919.7,347.5 L915.5,346.8 L915.2,342.0 L921.4,340.0Z M1032.9,399.0 L1027.9,397.0 L1030.5,390.5 L1037.7,392.6Z M1012.0,414.5 L1015.0,413.3 L1018.1,416.0 L1016.9,419.5 L1013.0,420.0Z M942.6,381.0 L938.3,382.7 L935.4,380.3 L938.2,378.1 L941.3,377.2Z M946.9,391.9 L943.3,393.3 L939.9,389.1 L942.9,385.1 L946.0,384.4 L948.6,388.3Z M1089.4,159.1 L1085.0,157.7 L1084.5,154.9 L1087.6,152.1 L1090.3,154.2 L1091.1,157.5Z M856.3,409.7 L852.1,408.4 L852.1,403.3 L855.4,400.2 L858.8,401.9 L858.7,406.6Z M912.1,224.2 L908.1,224.7 L906.3,222.3 L909.6,218.2 L911.5,219.5Z M1020.4,59.9 L1017.5,66.2 L1011.5,65.9 L1010.7,61.0 L1014.6,56.1Z M844.3,352.0 L851.1,353.4 L851.4,358.7 L845.9,360.5 L842.4,356.0Z M963.1,348.4 L959.8,350.7 L955.7,347.4 L958.3,343.5 L963.8,345.4Z M951.4,229.9 L955.5,229.3 L959.1,233.7 L958.7,238.7 L951.8,238.9 L950.0,234.6Z M799.5,373.9 L800.3,370.3 L801.9,369.2 L805.4,372.2 L804.8,375.8 L801.9,375.9Z M893.1,126.9 L893.6,131.3 L889.0,132.2 L885.8,129.0 L887.0,126.0Z M1017.1,266.4 L1012.4,264.8 L1012.8,260.5 L1018.7,257.5 L1021.1,259.7 L1022.4,263.7Z M885.4,285.2 L887.7,287.5 L886.6,290.9 L882.9,291.0 L880.7,287.2 L882.4,284.5Z M860.8,305.3 L865.4,311.2 L857.6,312.7 L854.7,305.5Z M1040.2,424.1 L1035.8,420.8 L1037.7,417.9 L1043.7,420.3 L1043.9,423.3Z M782.6,121.8 L787.2,120.6 L787.3,125.6 L784.2,126.7Z M1027.5,251.5 L1020.4,251.8 L1019.2,247.9 L1022.5,246.0 L1026.4,247.4Z M1076.1,221.8 L1076.4,218.2 L1079.6,218.6 L1082.2,222.9 L1080.2,225.9 L1078.1,226.0Z M1060.0,107.2 L1060.1,109.9 L1057.4,112.3 L1054.2,108.6 L1056.6,105.6Z M1113.7,278.2 L1109.4,276.2 L1109.1,274.4 L1113.0,271.6 L1116.5,273.9 L1117.7,276.0Z M1098.5,174.1 L1095.0,176.6 L1093.6,173.4 L1095.1,170.7 L1099.2,171.2Z M870.3,340.8 L869.7,345.2 L865.2,347.7 L863.4,345.5 L863.0,342.2 L867.3,339.6Z M837.3,228.3 L838.5,222.3 L843.6,223.9 L843.0,228.5Z M1078.1,207.7 L1077.0,205.6 L1080.6,202.6 L1083.4,205.0 L1083.0,208.0 L1081.0,209.7Z M778.8,305.0 L777.7,307.3 L772.7,308.2 L771.8,306.0 L773.2,303.8 L776.0,303.1Z M869.7,403.0 L872.1,404.7 L870.8,407.3 L868.0,407.8 L864.4,405.0 L865.5,403.1Z M773.3,234.7 L772.3,242.5 L767.3,242.5 L764.9,236.5 L767.2,234.1Z M1086.8,247.7 L1087.1,250.3 L1084.8,253.6 L1080.8,252.6 L1082.7,248.0Z M956.0,389.7 L954.9,388.4 L956.2,384.1 L958.2,383.1 L960.3,386.0 L958.2,389.4Z M787.3,218.0 L784.0,213.3 L785.4,209.9 L791.2,211.2 L791.6,217.0Z M979.2,65.7 L977.2,60.9 L979.9,57.5 L984.0,58.8 L985.9,61.5 L982.8,65.3Z M1010.3,122.6 L1016.7,119.5 L1020.0,122.1 L1019.7,127.4 L1016.9,129.4 L1012.1,128.2Z M913.3,280.6 L908.6,279.7 L908.4,275.5 L911.7,275.6 L914.5,278.4Z M806.8,354.2 L811.2,354.4 L811.6,358.1 L806.7,359.4Z M1070.9,126.4 L1072.6,130.8 L1070.7,132.8 L1065.5,131.0 L1064.7,126.9 L1067.3,126.2Z M1009.1,77.6 L1011.0,72.8 L1016.1,75.2 L1015.7,79.7 L1012.0,81.1Z M888.5,208.8 L887.0,211.1 L879.3,211.5 L878.6,207.8 L881.9,201.9 L887.3,203.9Z M929.8,301.5 L931.5,306.2 L929.4,308.3 L925.0,306.3 L925.7,301.9Z M861.6,68.2 L862.1,70.8 L859.6,74.4 L856.5,74.3 L854.2,71.7 L857.5,68.6Z M820.1,231.7 L819.5,235.5 L815.1,235.5 L815.8,229.8Z M853.8,294.7 L855.0,298.1 L851.7,302.7 L848.0,301.4 L845.1,299.0 L850.4,294.6Z M1082.4,242.5 L1076.8,240.3 L1073.8,236.3 L1078.8,233.0 L1083.1,234.9 L1084.2,240.0Z M1018.1,219.6 L1016.0,225.1 L1008.7,224.4 L1007.8,219.6 L1015.0,217.5Z M975.3,409.7 L977.7,413.6 L975.2,416.8 L969.7,417.1 L968.8,414.3 L969.4,409.6Z M867.5,230.9 L864.1,230.8 L860.8,224.9 L866.8,221.1 L871.0,226.3Z M1120.3,167.4 L1114.5,165.5 L1115.7,161.9 L1119.8,162.3 L1122.3,165.5Z M818.7,157.2 L814.0,154.9 L812.5,152.8 L817.4,150.5 L820.1,150.7 L821.0,154.3Z M1113.1,359.7 L1115.7,354.4 L1120.6,358.8 L1120.5,365.2 L1114.8,364.7Z M1039.3,321.5 L1042.0,322.7 L1043.9,327.9 L1039.8,333.0 L1035.6,332.3 L1034.6,326.3Z M851.4,135.7 L858.0,142.5 L856.0,146.7 L848.8,139.4Z M1034.8,175.7 L1038.1,171.8 L1041.8,172.3 L1043.9,178.2 L1037.6,182.1Z M794.5,313.5 L798.0,310.8 L802.9,312.0 L802.4,315.9 L796.9,320.5 L792.4,318.8Z M1119.9,126.4 L1122.1,123.8 L1125.6,127.0 L1126.0,132.2 L1121.7,134.2 L1119.1,131.5Z M786.4,115.5 L786.7,117.2 L784.3,118.8 L781.5,116.9 L780.7,114.6 L782.5,113.0Z M954.2,210.1 L951.8,214.7 L944.1,212.8 L945.4,206.6 L950.8,205.0Z M949.4,270.7 L945.3,268.2 L947.0,262.9 L953.5,261.8 L954.7,265.9 L952.7,268.9Z M935.8,62.1 L930.4,63.1 L928.4,60.8 L928.5,56.4 L934.8,54.2 L937.9,58.3Z M938.9,123.2 L935.1,125.7 L931.7,123.6 L932.7,119.0 L937.6,119.9Z M965.0,242.5 L964.1,238.3 L967.6,236.1 L970.8,238.8 L969.9,243.1 L967.0,243.5Z M896.8,393.0 L898.6,389.3 L901.1,388.9 L903.6,393.3 L900.7,394.4Z M846.7,77.3 L850.7,80.5 L850.1,84.2 L842.8,84.0 L842.3,80.7Z M982.3,130.0 L981.5,133.0 L976.8,133.1 L976.7,129.9 L981.0,127.4Z M962.6,324.0 L958.3,323.7 L958.5,320.6 L962.4,319.4 L963.7,321.9Z M1056.3,257.6 L1060.9,255.0 L1066.3,260.7 L1060.4,262.6Z M875.5,145.5 L867.3,148.1 L865.0,142.5 L871.9,140.0Z M1122.5,138.8 L1125.8,140.1 L1127.0,142.9 L1124.5,144.6 L1120.9,143.7 L1120.5,139.7Z M800.8,166.9 L803.0,169.7 L798.7,175.3 L796.1,173.6 L797.1,168.4Z M932.1,280.1 L928.9,282.7 L923.3,280.7 L923.0,275.1 L926.3,272.6 L931.1,275.2Z M827.8,264.5 L826.3,270.8 L820.1,271.1 L817.9,265.5 L822.6,260.5Z M1034.1,146.6 L1037.5,144.6 L1038.9,150.2 L1035.8,152.2Z M766.5,167.7 L769.2,172.8 L766.8,175.1 L764.0,170.9Z M1118.9,184.8 L1121.8,186.8 L1122.2,192.2 L1118.6,194.1 L1114.8,192.1 L1115.3,186.5Z M976.8,170.0 L980.2,167.8 L983.1,168.5 L984.1,170.8 L982.6,171.4 L979.0,171.8Z M783.1,427.6 L779.5,427.7 L778.4,424.5 L781.6,422.3 L783.7,423.3 L785.1,425.5Z M1002.3,219.9 L999.7,219.9 L998.6,216.7 L1000.6,214.4 L1002.4,213.8 L1004.6,216.1Z M1120.6,294.8 L1120.2,297.4 L1116.0,296.8 L1115.1,293.5 L1116.0,291.2 L1119.4,291.5Z M797.9,340.1 L795.4,340.2 L795.1,337.0 L797.2,335.1 L800.9,335.2 L802.4,337.5Z M896.1,144.5 L897.8,140.4 L902.6,142.4 L900.7,146.8Z M843.4,285.7 L838.7,291.1 L834.0,286.6 L839.0,282.3Z M1067.5,343.9 L1069.4,339.5 L1072.3,339.7 L1073.2,342.7 L1070.0,347.0Z M919.6,382.4 L925.8,385.1 L923.7,389.8 L918.0,387.0Z M1118.3,103.7 L1122.5,106.1 L1119.1,113.5 L1112.6,107.9Z M785.6,345.4 L789.5,345.5 L791.1,350.7 L787.7,353.4 L782.7,350.4Z M797.4,427.8 L792.9,427.3 L792.0,422.1 L796.0,420.1 L799.1,425.1Z M965.2,379.2 L965.5,376.1 L970.8,375.4 L972.7,379.0 L970.7,382.3 L966.7,382.5Z M863.4,192.6 L860.4,188.1 L865.6,187.2 L869.3,191.3 L869.1,194.3Z M1058.8,311.4 L1058.4,316.7 L1052.4,318.9 L1048.9,315.6 L1053.8,311.1Z M896.7,250.7 L898.3,246.5 L902.4,244.2 L905.5,250.4 L902.1,253.3Z M933.3,75.6 L930.3,70.7 L934.7,67.5 L937.3,72.2Z M831.2,261.7 L827.3,261.5 L825.7,256.2 L830.3,252.3 L833.4,252.6 L834.9,259.9Z M1054.4,293.2 L1057.6,296.5 L1053.8,300.9 L1049.0,299.7 L1049.7,294.2Z M1025.1,78.6 L1027.0,82.7 L1024.4,84.4 L1019.1,84.3 L1019.8,80.3 L1022.4,77.4Z M882.9,158.9 L880.0,159.1 L876.4,154.1 L879.2,151.5 L882.8,153.8Z M1027.8,148.6 L1026.4,153.7 L1022.1,151.2 L1024.4,146.6Z M1019.4,162.6 L1023.9,158.7 L1028.3,163.2 L1026.6,167.5 L1020.2,167.1Z M1008.7,380.9 L1006.2,376.3 L1013.3,373.7 L1015.3,379.0Z M836.6,402.3 L835.6,397.4 L837.5,394.9 L841.3,396.8 L842.5,399.4 L840.5,402.7Z M933.8,359.5 L931.0,357.7 L930.6,354.5 L935.2,353.9 L937.2,357.6Z M1098.4,283.3 L1098.7,278.4 L1100.9,276.2 L1105.7,277.3 L1105.0,282.1 L1101.5,283.2Z M905.9,358.9 L913.3,362.1 L910.3,365.8 L903.9,364.3 L902.1,361.5Z M818.4,168.7 L818.9,172.8 L815.8,174.9 L814.0,171.6 L815.6,167.7Z M1075.8,288.9 L1074.0,284.2 L1077.8,281.7 L1083.6,285.5 L1082.4,288.8Z M818.2,375.0 L821.3,369.4 L826.0,369.6 L829.2,374.1 L824.0,378.3Z M923.9,137.7 L919.2,136.6 L918.0,132.8 L918.2,129.9 L924.7,130.8 L925.4,135.8Z M853.4,205.2 L851.2,201.3 L852.0,196.4 L855.6,197.8 L858.7,203.0 L858.5,206.7Z M793.1,139.6 L788.3,142.8 L786.0,141.2 L786.9,136.0 L790.8,135.9Z M840.0,188.1 L834.9,188.3 L833.0,183.9 L837.6,181.8 L840.1,184.4Z M904.6,71.2 L909.0,71.8 L910.5,74.5 L909.4,76.0 L905.4,75.9 L903.6,74.1Z M771.7,248.6 L773.0,254.7 L766.2,253.6 L764.9,247.6Z M808.9,126.5 L804.8,126.8 L805.6,123.2 L810.3,122.2Z M897.9,224.6 L901.5,222.2 L903.9,225.4 L900.4,227.9Z M832.9,389.0 L829.3,384.7 L831.9,379.0 L836.2,380.9 L836.6,386.3Z M1131.0,173.8 L1130.7,178.6 L1126.2,178.7 L1127.2,173.7Z M859.4,98.2 L856.2,103.6 L853.4,101.8 L857.4,96.2Z M975.9,221.6 L971.2,224.5 L968.0,219.4 L972.4,215.4Z M758.0,408.0 L763.1,406.2 L764.7,410.0 L760.2,411.5Z M980.3,363.0 L980.7,361.2 L984.7,360.6 L986.0,362.5 L984.6,365.5 L980.9,365.0Z M1095.8,167.9 L1096.0,164.5 L1097.5,162.2 L1100.0,163.0 L1099.7,167.5 L1097.7,168.6Z M779.2,243.6 L776.6,242.6 L775.3,240.0 L777.7,236.9 L779.2,237.8 L780.5,240.6Z M1036.7,163.4 L1034.0,164.8 L1032.4,163.9 L1033.6,159.7 L1036.4,158.8 L1037.9,159.2Z M793.1,95.5 L789.1,94.7 L787.1,89.7 L789.7,88.0 L793.4,90.4Z M859.8,60.7 L862.0,61.5 L862.2,65.9 L860.0,66.6 L857.9,62.5Z M835.2,325.5 L842.0,322.4 L844.6,326.6 L837.8,330.7Z M1018.1,135.1 L1020.2,133.4 L1023.1,134.5 L1023.6,138.4 L1020.1,141.3 L1018.3,140.1Z M1106.3,242.2 L1100.8,241.7 L1100.5,237.1 L1103.8,234.8 L1108.1,239.2Z M1048.6,180.9 L1053.6,180.2 L1054.3,186.2 L1051.9,189.6 L1045.5,186.6Z M1059.5,341.3 L1061.1,345.4 L1057.3,347.5 L1054.6,343.9Z M879.9,177.6 L879.1,173.4 L881.4,172.5 L883.7,175.8 L883.2,179.3Z M984.5,237.3 L984.5,243.1 L979.1,239.4 L980.4,236.3Z M779.0,284.3 L780.1,291.7 L774.0,289.6 L774.2,283.6Z M792.0,259.7 L788.1,260.4 L787.9,256.8 L790.1,254.5 L792.2,255.4 L793.0,257.1Z M948.5,65.6 L945.9,64.0 L947.9,58.9 L951.9,58.3 L953.7,60.5 L953.1,64.8Z M795.5,185.3 L797.1,181.7 L802.2,182.2 L800.2,188.1Z M808.0,196.7 L811.6,199.3 L810.6,202.1 L806.7,204.3 L803.5,202.1 L803.8,198.1Z M1057.1,154.3 L1059.8,153.3 L1063.0,154.0 L1063.8,156.4 L1061.2,159.1 L1058.1,157.0Z M847.8,167.6 L850.8,167.4 L853.3,171.2 L848.5,172.9 L845.6,170.2Z M1033.2,103.4 L1035.2,97.9 L1039.6,101.1 L1037.3,104.7Z M792.2,323.5 L795.4,327.1 L790.9,331.4 L788.2,325.5Z M1068.0,218.8 L1072.6,223.1 L1069.0,228.1 L1065.2,227.1 L1064.5,220.2Z M798.4,139.3 L801.5,134.3 L807.2,135.2 L808.1,140.7 L801.8,142.6Z M1055.4,161.7 L1051.9,162.8 L1049.0,160.5 L1051.5,156.7 L1054.4,157.0Z M966.0,261.0 L962.7,259.4 L964.3,255.3 L968.2,254.1 L970.2,257.3 L968.5,260.2Z M964.1,102.7 L968.7,104.2 L966.6,109.6 L962.4,108.4Z M823.3,286.7 L820.9,284.5 L820.6,280.3 L824.8,278.7 L826.5,280.2 L826.6,285.9Z M878.6,185.3 L880.7,189.5 L879.1,191.4 L875.3,190.9 L873.8,187.9 L874.7,184.6Z M964.0,278.2 L963.0,273.4 L968.8,270.7 L970.4,273.1 L968.3,277.3Z M1103.5,314.1 L1102.8,319.5 L1097.7,320.5 L1096.5,316.2Z M975.1,164.6 L972.3,160.1 L978.0,156.1 L981.4,157.3 L979.9,162.5Z M1059.7,244.2 L1059.2,247.7 L1055.7,247.1 L1054.1,245.5 L1055.6,241.2 L1058.9,242.4Z M1075.6,366.5 L1078.1,360.6 L1084.4,361.6 L1085.6,366.2 L1079.7,370.1Z M907.5,272.3 L905.0,276.8 L898.2,273.1 L899.8,268.1 L903.6,266.2Z M930.5,315.0 L930.4,310.6 L936.5,308.6 L940.6,311.3 L937.0,317.1 L934.4,318.7Z M879.5,387.5 L887.4,389.5 L887.7,394.3 L881.3,397.0 L878.4,393.3Z M841.6,106.9 L843.9,110.4 L840.7,117.9 L836.4,115.7 L837.4,110.2Z M918.8,283.5 L924.5,284.6 L923.3,290.2 L918.6,294.1 L916.6,292.0 L915.0,287.6Z M1022.2,209.7 L1025.2,210.2 L1026.1,213.1 L1022.3,215.9 L1019.5,213.7Z M763.8,393.8 L764.3,398.3 L761.4,399.3 L757.7,396.8 L759.9,392.0Z M981.9,392.8 L975.7,387.6 L978.9,381.7 L985.1,385.8Z M846.8,233.9 L848.8,233.5 L851.8,236.9 L850.9,241.1 L847.1,238.2Z M1040.4,313.7 L1046.4,312.4 L1048.4,315.7 L1044.3,319.5 L1041.7,318.5Z M791.9,183.7 L788.8,183.4 L787.6,180.3 L790.0,176.4 L792.9,176.2 L794.1,180.2Z M1007.3,99.0 L1009.0,101.7 L1008.6,105.7 L1004.6,106.5 L1000.8,104.2 L1003.3,99.5Z M908.8,299.7 L908.9,297.3 L912.9,297.2 L915.1,300.7 L911.8,301.6Z M1113.6,210.4 L1106.7,212.4 L1104.4,208.2 L1109.2,205.7Z M956.9,195.1 L953.6,191.3 L956.4,186.9 L959.4,191.1Z M946.3,178.1 L947.2,183.4 L942.8,185.9 L939.5,184.9 L939.0,178.8 L943.4,176.0Z M912.7,59.7 L918.0,56.5 L918.8,64.7 L912.8,65.2Z M1035.1,208.4 L1032.9,203.8 L1034.0,200.4 L1040.0,200.6 L1042.4,206.2 L1039.8,211.0Z M808.8,236.4 L811.8,235.5 L813.8,237.9 L811.2,240.9 L808.2,239.2Z M1088.5,272.0 L1087.7,274.9 L1084.7,276.8 L1082.4,274.2 L1083.1,271.3 L1085.8,269.0Z M819.1,305.5 L814.9,303.5 L815.5,298.7 L823.3,298.2 L823.6,303.1Z M939.2,149.5 L939.4,144.6 L943.2,143.0 L944.6,146.0 L942.8,148.7Z M1078.3,105.1 L1081.8,104.9 L1085.4,107.6 L1082.6,112.3 L1076.1,111.6Z M1127.1,159.7 L1128.8,165.2 L1125.5,165.1 L1123.3,163.0 L1124.3,159.1Z M1116.0,307.6 L1114.2,310.8 L1112.2,310.5 L1111.3,307.1 L1113.9,304.4Z M817.8,321.3 L815.0,314.7 L823.0,310.7 L823.7,318.9Z M949.2,338.7 L947.0,336.4 L946.7,332.8 L950.3,331.6 L952.2,333.6 L953.1,337.8Z M1042.8,93.9 L1044.2,87.2 L1051.7,88.1 L1053.0,94.4 L1045.2,97.1Z M1034.4,301.4 L1040.1,298.6 L1044.4,303.2 L1037.0,307.2Z M855.9,108.6 L856.4,113.3 L853.8,117.4 L849.2,114.5 L848.3,110.1 L852.5,108.3Z M946.3,153.8 L946.2,147.6 L949.5,146.7 L952.9,152.4 L949.3,154.0Z M1037.9,222.5 L1041.7,219.0 L1044.5,218.9 L1045.0,223.9 L1042.5,226.2 L1039.7,224.6Z M1094.1,114.0 L1096.2,111.4 L1100.9,113.2 L1100.9,119.3 L1095.8,120.8Z M970.8,208.8 L966.5,211.4 L962.7,205.5 L969.6,201.6Z M863.0,411.8 L867.5,414.0 L866.5,420.5 L861.4,418.6 L859.7,413.7Z M981.3,116.7 L982.4,121.0 L977.1,125.3 L973.3,122.2 L976.5,117.8Z" fill="none" stroke="#000" stroke-width="2.8" stroke-linejoin="round"/>
<rect x="756.3" y="54.2" width="376.70000000000005" height="376.7" fill="none" stroke="#222" stroke-width="2.8"/>
<path d="M756.3 394.1h4.5M1133 394.1h-4.5M756.3 357.2h4.5M1133 357.2h-4.5M756.3 320.4h4.5M1133 320.4h-4.5M756.3 283.6h4.5M1133 283.6h-4.5M756.3 246.7h4.5M1133 246.7h-4.5M756.3 209.9h4.5M1133 209.9h-4.5M756.3 173.1h4.5M1133 173.1h-4.5M756.3 136.3h4.5M1133 136.3h-4.5M756.3 99.4h4.5M1133 99.4h-4.5M756.3 62.6h4.5M1133 62.6h-4.5M829.9 430.9v-4.5M829.9 54.2v4.5M903.5 430.9v-4.5M903.5 54.2v4.5M977.2 430.9v-4.5M977.2 54.2v4.5M1050.8 430.9v-4.5M1050.8 54.2v4.5M1124.4 430.9v-4.5M1124.4 54.2v4.5" stroke="#222" stroke-width="2" fill="none"/>
<text x="744.0" y="439.9" font-size="24.5" text-anchor="end">0</text>
<text x="756.3" y="467.0" font-size="24.5" text-anchor="middle">0</text>
<text x="744.0" y="366.2" font-size="24.5" text-anchor="end">100</text>
<text x="829.9" y="467.0" font-size="24.5" text-anchor="middle">100</text>
<text x="744.0" y="292.6" font-size="24.5" text-anchor="end">200</text>
<text x="903.5" y="467.0" font-size="24.5" text-anchor="middle">200</text>
<text x="744.0" y="218.9" font-size="24.5" text-anchor="end">300</text>
<text x="977.2" y="467.0" font-size="24.5" text-anchor="middle">300</text>
<text x="744.0" y="145.3" font-size="24.5" text-anchor="end">400</text>
<text x="1050.8" y="467.0" font-size="24.5" text-anchor="middle">400</text>
<text x="744.0" y="71.6" font-size="24.5" text-anchor="end">500</text>
<text x="1124.4" y="467.0" font-size="24.5" text-anchor="middle">500</text>
<text x="945.3" y="515.6" font-size="32.5" text-anchor="middle">Pixels</text>
<text x="674.3" y="242.7" font-size="33" text-anchor="middle" transform="rotate(-90 674.3 242.7)">Pixels</text>
<rect x="1074.7" y="407.8" width="41.5" height="12.4" fill="#1a1a1a"/>
<g id="mouseA"><defs><radialGradient id="disk" cx="0.5" cy="0.55" r="0.55"><stop offset="0" stop-color="#fcfcfc"/><stop offset="0.5" stop-color="#f3f3f4"/><stop offset="0.82" stop-color="#e6e6e8"/><stop offset="1" stop-color="#dadadd"/></radialGradient><linearGradient id="obj" x1="0" x2="1" y1="0" y2="0"><stop offset="0" stop-color="#707379"/><stop offset="0.35" stop-color="#b9bcc1"/><stop offset="0.55" stop-color="#d8dadd"/><stop offset="1" stop-color="#6c6f75"/></linearGradient><linearGradient id="fur" x1="0" x2="1" y1="1" y2="0"><stop offset="0" stop-color="#eed7c6"/><stop offset="0.6" stop-color="#e1c0aa"/><stop offset="1" stop-color="#cda58c"/></linearGradient><clipPath id="dclip"><ellipse cx="292.7" cy="190.6" rx="186" ry="128.5"/></clipPath></defs><ellipse cx="292.7" cy="190.6" rx="189.4" ry="132" fill="url(#disk)" stroke="#2b2b2b" stroke-width="1.6"/><path d="M323.1 202.1L318.9 209.3M305.2 219.4L297.1 222.2M274.3 223.6L267.7 222.3M253.7 216.8L246.4 210.8M239.9 197.7L240.2 190.4M250.7 175.4L257.7 171.1M275.8 166.2L284.0 165.9M303.1 169.8L309.4 172.9M320.9 183.2L324.3 192.1M335.6 216.8L329.0 223.1M311.6 232.7L305.2 234.7M282.7 237.9L274.2 237.5M257.2 234.3L250.9 232.1M231.1 219.7L225.9 213.5M220.6 202.8L219.7 193.2M222.6 182.0L227.8 173.7M236.9 165.4L244.8 160.6M262.8 154.2L272.4 152.6M298.1 153.6L304.7 155.1M317.9 160.0L324.3 163.6M340.2 179.8L343.2 187.2M344.1 198.0L342.4 205.4M341.2 234.3L334.6 238.5M318.4 245.8L310.2 248.2M286.7 251.6L277.0 251.6M255.7 248.7L246.3 246.1M228.2 237.9L220.0 232.2M210.0 222.3L206.0 216.5M200.4 202.5L199.8 192.7M202.5 180.4L206.3 172.8M215.0 162.3L220.4 157.5M237.8 147.2L245.7 144.2M259.9 140.5L266.6 139.4M295.8 139.1L305.6 140.7M315.3 143.2L324.0 146.3M343.5 157.4L348.8 162.0M357.8 173.0L361.8 181.2M363.9 199.7L362.5 206.2M357.1 217.9L353.2 223.2M335.9 254.8L328.7 257.6M306.3 263.4L296.4 264.8M282.1 265.5L272.1 265.1M253.6 262.6L247.0 261.1M222.2 252.1L216.4 248.9M205.3 241.5L199.3 236.3M186.3 219.6L183.3 213.2M181.2 206.8L179.8 197.3M181.3 182.8L184.6 173.5M197.0 155.9L202.7 150.6M212.2 143.6L219.4 139.4M240.2 130.7L248.5 128.5M268.3 125.2L276.9 124.6M304.9 126.4L313.0 127.9M325.4 131.2L333.8 134.3M348.6 141.6L355.0 145.7M373.8 164.1L378.1 171.2M381.8 180.0L383.3 186.3M384.1 198.4L382.7 206.9M380.0 215.0L376.0 222.6M359.9 240.5L354.5 244.6M325.5 273.7L317.6 275.6M293.2 278.9L285.5 279.2M261.6 278.0L252.6 276.8M242.5 274.7L236.0 273.0M205.3 260.6L196.9 255.5M188.1 248.8L182.1 243.4M168.5 226.2L165.1 219.4M161.4 208.1L160.1 200.6M160.5 186.5L162.3 178.1M167.7 165.3L171.8 158.7M189.3 140.2L194.5 136.3M208.9 127.5L217.1 123.7M233.1 117.8L240.1 115.9M273.4 111.0L280.7 110.8M292.9 111.1L300.9 111.8M333.6 118.7L340.1 120.9M354.2 127.1L360.9 130.7M382.7 147.4L388.1 153.3M397.3 167.4L400.2 173.9M402.5 181.0L403.9 189.7M402.0 210.7L399.3 218.4M396.6 224.1L393.0 230.0M378.0 247.0L372.4 251.6M351.5 264.3L342.8 268.0M314.1 290.5L306.7 291.5M269.0 292.6L260.3 291.9M237.4 288.1L230.0 286.2M222.1 283.9L215.0 281.4M183.8 265.8L177.7 261.6M169.6 255.0L163.9 249.5M152.6 235.5L148.5 228.7M140.9 206.7L140.1 199.7M140.0 200.5L140.0 190.7M146.7 165.0L151.4 156.2M155.1 150.8L161.3 143.2M181.6 125.7L187.7 121.7M202.2 113.9L210.9 110.1M229.4 103.9L237.5 101.9M252.1 99.2L259.8 98.2M282.9 97.0L289.6 97.1M322.0 100.9L329.3 102.6M355.8 111.3L361.9 114.0M381.4 124.9L388.6 130.2M401.3 141.7L407.5 149.0M415.4 161.1L419.0 168.9M418.8 168.5L421.8 177.1M424.1 193.3L423.9 200.8M418.4 222.5L414.8 229.9M409.1 238.9L403.0 246.5M387.6 260.6L381.3 265.1M370.9 271.5L362.5 275.8M339.0 284.8L330.1 287.3M281.5 306.8L274.3 306.7M245.4 303.9L236.2 302.3M223.1 299.2L214.2 296.6M178.6 281.1L170.6 276.3M156.4 265.6L151.5 261.3M141.8 251.1L136.0 243.6M133.3 239.4L129.6 233.0M122.4 214.7L120.7 206.5M120.1 189.3L121.1 181.2M128.1 159.9L131.2 154.1M133.1 150.9L137.0 145.1M150.3 129.8L155.3 125.3M188.3 103.7L197.0 99.8M197.1 99.7L204.8 96.7M232.8 88.5L240.3 87.0M265.3 83.8L274.1 83.3M304.7 84.3L312.4 85.2M326.7 87.5L334.2 89.1M355.1 95.2L363.0 98.2M394.2 114.3L400.6 118.8M405.6 122.7L411.0 127.3M427.1 145.1L431.8 152.3M441.1 173.5L442.8 181.1M444.1 195.9L443.5 204.6M442.1 212.4L440.0 219.9M433.4 235.1L428.6 242.7M419.4 254.4L413.1 260.7M397.6 273.4L391.5 277.5M371.2 288.4L363.0 291.9M352.6 295.7L344.9 298.0M313.4 304.7L303.9 305.8M232.8 314.5L225.2 312.9M202.7 306.6L194.0 303.4M188.3 301.1L180.9 297.8M164.6 289.2L156.7 284.2M132.1 263.9L125.7 256.8M114.5 240.7L110.4 232.8M105.3 219.1L103.4 210.9M102.9 208.2L102.0 199.7M102.4 185.8L103.5 178.8M115.5 147.6L119.1 142.0M121.7 138.5L125.9 133.1M155.4 106.7L161.4 102.8M161.4 102.7L169.6 97.9M191.6 87.5L200.5 84.2M238.2 74.5L247.5 73.1M280.6 70.8L289.1 70.9M311.3 72.4L317.8 73.3M342.6 78.0L350.6 80.1M372.8 87.7L379.1 90.4M399.9 101.1L408.2 106.3M411.2 108.5L417.3 113.0M439.3 134.5L444.9 142.0M450.3 150.9L453.6 157.3M459.2 172.9L461.0 181.4M461.3 206.9L459.8 214.6M457.5 222.7L454.8 230.1M446.9 245.0L442.3 251.5M434.4 261.2L428.6 267.2M394.0 292.3L387.0 295.9M370.5 303.2L363.8 305.6M341.6 312.2L332.7 314.2M308.4 317.9L300.1 318.6M279.9 319.2L271.1 319.0" stroke="#4a4a4a" stroke-width="1.3" fill="none" clip-path="url(#dclip)"/><path d="M250 240 C 270 225, 300 205, 330 185 C 350 170, 375 160, 390 175 C 400 190, 380 215, 350 230 C 320 245, 290 258, 262 262 Z" fill="#ffffff" opacity="0.7"/><path d="M361 166 C 360 150, 355 138, 350 122 C 346 108, 348 96, 352 86 C 356 76, 354 66, 348 60 C 345 58, 343 57, 341 56" fill="none" stroke="#4a2e22" stroke-width="5" stroke-linecap="round"/><path d="M361 166 C 360 150, 355 138, 350 122 C 346 108, 348 96, 352 86 C 356 76, 354 66, 348 60 C 345 58, 343 57, 341 56" fill="none" stroke="#d6b09a" stroke-width="3" stroke-linecap="round"/><path d="M368 178 C 385 182, 400 184, 413 186 L 415 190 C 400 191, 386 194, 370 200 Z" fill="#d8b49e" stroke="#4a2e22" stroke-width="1.2"/><circle cx="415" cy="188" r="2.8" fill="#eaa2aa" stroke="#4a2e22" stroke-width="0.7"/><path d="M321 186 C 316 189, 312 193, 308 196 L 310 199 C 315 197, 319 195, 324 193 Z" fill="#e0c0aa" stroke="#4a2e22" stroke-width="1"/><circle cx="308" cy="197.5" r="2.6" fill="#eaa2aa" stroke="#4a2e22" stroke-width="0.7"/><path d="M358.3 162.3 C 343 163, 328 172, 321 184 C 317 195, 310 208, 298 219 L 285 232 L 280 257 C 292 261, 310 254, 330 249 C 345 245, 360 232, 366 216 C 370 205, 372 198, 374 194 L 386 181 C 378 176, 370 170, 366 165.7 Z" fill="url(#fur)" stroke="#4a2e22" stroke-width="1.3"/><path d="M354 198 C 353 205, 357 211, 364 213.7" fill="none" stroke="#4a2e22" stroke-width="1.3"/><path d="M279 255 C 272 260, 265 264, 258 268 L 260 271 C 267 268, 275 264, 284 261 Z" fill="#e0c0aa" stroke="#4a2e22" stroke-width="1"/><circle cx="257.5" cy="269.5" r="2.6" fill="#eaa2aa" stroke="#4a2e22" stroke-width="0.7"/><path d="M292.5 226 C 285 219, 272 215, 262 218 C 252 222, 244 230, 240 238 C 242 244, 248 248, 258 252 C 266 255, 276 256, 284 252 C 292 246, 296 236, 292.5 226 Z" fill="#ecd2c1" stroke="#4a2e22" stroke-width="1.2"/><ellipse cx="246" cy="240" rx="5" ry="3.5" fill="#f2b9b6" opacity="0.8"/><ellipse cx="287" cy="225" rx="5" ry="4" fill="#f0b0b0" stroke="#4a2e22" stroke-width="1"/><circle cx="263" cy="233" r="2" fill="#111"/><path d="M241 236 l-14 -7 M241 238 l-15 -2 M242 241 l-13 4 M248 247 l-6 9 M253 250 l-2 10" stroke="#333" stroke-width="0.7" fill="none"/><path d="M257 215 l12 6 l10 -2" stroke="#111" stroke-width="3" fill="none"/><circle cx="270" cy="222" r="3.2" fill="#ddd" stroke="#111" stroke-width="1.5"/><path d="M108.5 138.5 L423 312 L423 318 L108.5 144.5 Z" fill="#5c6169" stroke="#33363b" stroke-width="1"/><path d="M108.5 138.5 L111 135.5 L425.5 309 L423 312 Z" fill="#9ca1a8" stroke="#33363b" stroke-width="0.8"/><path d="M423 312 L425.5 309 L425.5 315 L423 318 Z" fill="#3e4247"/><path d="M246.2 130 L246.2 186 L254 191 L254 198 L264 210 L271.9 212.5 L280 210 L289 198 L289 191 L297.5 186 L297.5 130 Z" fill="url(#obj)" stroke="#55585d" stroke-width="1"/><ellipse cx="271.9" cy="130" rx="25.6" ry="6" fill="#9b9ea3" stroke="#55585d" stroke-width="1"/><ellipse cx="271.9" cy="130" rx="17" ry="3.8" fill="#d9dbde" stroke="#7b7e83" stroke-width="1"/><path d="M246.2 186 Q 271.9 194 297.5 186" fill="none" stroke="#606368" stroke-width="1"/><path d="M254 198 Q 271.9 204 289 198" fill="none" stroke="#606368" stroke-width="0.8"/><ellipse cx="302" cy="189" rx="6" ry="4.5" fill="#fafafa" stroke="#444" stroke-width="1.2"/><path d="M479.5 106.9 C 470 88, 450 70, 421.4 61.2" fill="none" stroke="#222" stroke-width="1.5"/><path d="M436 60 L421.4 61.2 L430.4 72.3" fill="none" stroke="#222" stroke-width="1.5"/><path d="M494 257.6 C 485 275, 472 290, 452.7 302.2" fill="none" stroke="#222" stroke-width="1.5" stroke-dasharray="6 4"/><path d="M463.8 301 L452.7 302.2 L455 292" fill="none" stroke="#222" stroke-width="1.5"/></g>
<text x="297.2" y="395.0" font-size="26.4" text-anchor="middle">Craniotomy /M1 Injection</text>
<text x="298.0" y="426.8" font-size="26.7" text-anchor="middle">AAV2.1-CaMKII-GCaMP6f</text>
<g transform="translate(889.2 2040) scale(1.122 1.127) translate(-292.7 -190.6)"><defs><radialGradient id="disk2" cx="0.5" cy="0.55" r="0.55"><stop offset="0" stop-color="#fcfcfc"/><stop offset="0.5" stop-color="#f3f3f4"/><stop offset="0.82" stop-color="#e6e6e8"/><stop offset="1" stop-color="#dadadd"/></radialGradient><linearGradient id="obj2" x1="0" x2="1" y1="0" y2="0"><stop offset="0" stop-color="#707379"/><stop offset="0.35" stop-color="#b9bcc1"/><stop offset="0.55" stop-color="#d8dadd"/><stop offset="1" stop-color="#6c6f75"/></linearGradient><linearGradient id="fur2" x1="0" x2="1" y1="1" y2="0"><stop offset="0" stop-color="#eed7c6"/><stop offset="0.6" stop-color="#e1c0aa"/><stop offset="1" stop-color="#cda58c"/></linearGradient><clipPath id="dclip2"><ellipse cx="292.7" cy="190.6" rx="186" ry="128.5"/></clipPath></defs><ellipse cx="292.7" cy="190.6" rx="189.4" ry="132" fill="url(#disk2)" stroke="#2b2b2b" stroke-width="1.6"/><path d="M323.1 202.1L318.9 209.3M305.2 219.4L297.1 222.2M274.3 223.6L267.7 222.3M253.7 216.8L246.4 210.8M239.9 197.7L240.2 190.4M250.7 175.4L257.7 171.1M275.8 166.2L284.0 165.9M303.1 169.8L309.4 172.9M320.9 183.2L324.3 192.1M335.6 216.8L329.0 223.1M311.6 232.7L305.2 234.7M282.7 237.9L274.2 237.5M257.2 234.3L250.9 232.1M231.1 219.7L225.9 213.5M220.6 202.8L219.7 193.2M222.6 182.0L227.8 173.7M236.9 165.4L244.8 160.6M262.8 154.2L272.4 152.6M298.1 153.6L304.7 155.1M317.9 160.0L324.3 163.6M340.2 179.8L343.2 187.2M344.1 198.0L342.4 205.4M341.2 234.3L334.6 238.5M318.4 245.8L310.2 248.2M286.7 251.6L277.0 251.6M255.7 248.7L246.3 246.1M228.2 237.9L220.0 232.2M210.0 222.3L206.0 216.5M200.4 202.5L199.8 192.7M202.5 180.4L206.3 172.8M215.0 162.3L220.4 157.5M237.8 147.2L245.7 144.2M259.9 140.5L266.6 139.4M295.8 139.1L305.6 140.7M315.3 143.2L324.0 146.3M343.5 157.4L348.8 162.0M357.8 173.0L361.8 181.2M363.9 199.7L362.5 206.2M357.1 217.9L353.2 223.2M335.9 254.8L328.7 257.6M306.3 263.4L296.4 264.8M282.1 265.5L272.1 265.1M253.6 262.6L247.0 261.1M222.2 252.1L216.4 248.9M205.3 241.5L199.3 236.3M186.3 219.6L183.3 213.2M181.2 206.8L179.8 197.3M181.3 182.8L184.6 173.5M197.0 155.9L202.7 150.6M212.2 143.6L219.4 139.4M240.2 130.7L248.5 128.5M268.3 125.2L276.9 124.6M304.9 126.4L313.0 127.9M325.4 131.2L333.8 134.3M348.6 141.6L355.0 145.7M373.8 164.1L378.1 171.2M381.8 180.0L383.3 186.3M384.1 198.4L382.7 206.9M380.0 215.0L376.0 222.6M359.9 240.5L354.5 244.6M325.5 273.7L317.6 275.6M293.2 278.9L285.5 279.2M261.6 278.0L252.6 276.8M242.5 274.7L236.0 273.0M205.3 260.6L196.9 255.5M188.1 248.8L182.1 243.4M168.5 226.2L165.1 219.4M161.4 208.1L160.1 200.6M160.5 186.5L162.3 178.1M167.7 165.3L171.8 158.7M189.3 140.2L194.5 136.3M208.9 127.5L217.1 123.7M233.1 117.8L240.1 115.9M273.4 111.0L280.7 110.8M292.9 111.1L300.9 111.8M333.6 118.7L340.1 120.9M354.2 127.1L360.9 130.7M382.7 147.4L388.1 153.3M397.3 167.4L400.2 173.9M402.5 181.0L403.9 189.7M402.0 210.7L399.3 218.4M396.6 224.1L393.0 230.0M378.0 247.0L372.4 251.6M351.5 264.3L342.8 268.0M314.1 290.5L306.7 291.5M269.0 292.6L260.3 291.9M237.4 288.1L230.0 286.2M222.1 283.9L215.0 281.4M183.8 265.8L177.7 261.6M169.6 255.0L163.9 249.5M152.6 235.5L148.5 228.7M140.9 206.7L140.1 199.7M140.0 200.5L140.0 190.7M146.7 165.0L151.4 156.2M155.1 150.8L161.3 143.2M181.6 125.7L187.7 121.7M202.2 113.9L210.9 110.1M229.4 103.9L237.5 101.9M252.1 99.2L259.8 98.2M282.9 97.0L289.6 97.1M322.0 100.9L329.3 102.6M355.8 111.3L361.9 114.0M381.4 124.9L388.6 130.2M401.3 141.7L407.5 149.0M415.4 161.1L419.0 168.9M418.8 168.5L421.8 177.1M424.1 193.3L423.9 200.8M418.4 222.5L414.8 229.9M409.1 238.9L403.0 246.5M387.6 260.6L381.3 265.1M370.9 271.5L362.5 275.8M339.0 284.8L330.1 287.3M281.5 306.8L274.3 306.7M245.4 303.9L236.2 302.3M223.1 299.2L214.2 296.6M178.6 281.1L170.6 276.3M156.4 265.6L151.5 261.3M141.8 251.1L136.0 243.6M133.3 239.4L129.6 233.0M122.4 214.7L120.7 206.5M120.1 189.3L121.1 181.2M128.1 159.9L131.2 154.1M133.1 150.9L137.0 145.1M150.3 129.8L155.3 125.3M188.3 103.7L197.0 99.8M197.1 99.7L204.8 96.7M232.8 88.5L240.3 87.0M265.3 83.8L274.1 83.3M304.7 84.3L312.4 85.2M326.7 87.5L334.2 89.1M355.1 95.2L363.0 98.2M394.2 114.3L400.6 118.8M405.6 122.7L411.0 127.3M427.1 145.1L431.8 152.3M441.1 173.5L442.8 181.1M444.1 195.9L443.5 204.6M442.1 212.4L440.0 219.9M433.4 235.1L428.6 242.7M419.4 254.4L413.1 260.7M397.6 273.4L391.5 277.5M371.2 288.4L363.0 291.9M352.6 295.7L344.9 298.0M313.4 304.7L303.9 305.8M232.8 314.5L225.2 312.9M202.7 306.6L194.0 303.4M188.3 301.1L180.9 297.8M164.6 289.2L156.7 284.2M132.1 263.9L125.7 256.8M114.5 240.7L110.4 232.8M105.3 219.1L103.4 210.9M102.9 208.2L102.0 199.7M102.4 185.8L103.5 178.8M115.5 147.6L119.1 142.0M121.7 138.5L125.9 133.1M155.4 106.7L161.4 102.8M161.4 102.7L169.6 97.9M191.6 87.5L200.5 84.2M238.2 74.5L247.5 73.1M280.6 70.8L289.1 70.9M311.3 72.4L317.8 73.3M342.6 78.0L350.6 80.1M372.8 87.7L379.1 90.4M399.9 101.1L408.2 106.3M411.2 108.5L417.3 113.0M439.3 134.5L444.9 142.0M450.3 150.9L453.6 157.3M459.2 172.9L461.0 181.4M461.3 206.9L459.8 214.6M457.5 222.7L454.8 230.1M446.9 245.0L442.3 251.5M434.4 261.2L428.6 267.2M394.0 292.3L387.0 295.9M370.5 303.2L363.8 305.6M341.6 312.2L332.7 314.2M308.4 317.9L300.1 318.6M279.9 319.2L271.1 319.0" stroke="#4a4a4a" stroke-width="1.3" fill="none" clip-path="url(#dclip2)"/><path d="M250 240 C 270 225, 300 205, 330 185 C 350 170, 375 160, 390 175 C 400 190, 380 215, 350 230 C 320 245, 290 258, 262 262 Z" fill="#ffffff" opacity="0.7"/><path d="M361 166 C 360 150, 355 138, 350 122 C 346 108, 348 96, 352 86 C 356 76, 354 66, 348 60 C 345 58, 343 57, 341 56" fill="none" stroke="#4a2e22" stroke-width="5" stroke-linecap="round"/><path d="M361 166 C 360 150, 355 138, 350 122 C 346 108, 348 96, 352 86 C 356 76, 354 66, 348 60 C 345 58, 343 57, 341 56" fill="none" stroke="#d6b09a" stroke-width="3" stroke-linecap="round"/><path d="M368 178 C 385 182, 400 184, 413 186 L 415 190 C 400 191, 386 194, 370 200 Z" fill="#d8b49e" stroke="#4a2e22" stroke-width="1.2"/><circle cx="415" cy="188" r="2.8" fill="#eaa2aa" stroke="#4a2e22" stroke-width="0.7"/><path d="M321 186 C 316 189, 312 193, 308 196 L 310 199 C 315 197, 319 195, 324 193 Z" fill="#e0c0aa" stroke="#4a2e22" stroke-width="1"/><circle cx="308" cy="197.5" r="2.6" fill="#eaa2aa" stroke="#4a2e22" stroke-width="0.7"/><path d="M358.3 162.3 C 343 163, 328 172, 321 184 C 317 195, 310 208, 298 219 L 285 232 L 280 257 C 292 261, 310 254, 330 249 C 345 245, 360 232, 366 216 C 370 205, 372 198, 374 194 L 386 181 C 378 176, 370 170, 366 165.7 Z" fill="url(#fur2)" stroke="#4a2e22" stroke-width="1.3"/><path d="M354 198 C 353 205, 357 211, 364 213.7" fill="none" stroke="#4a2e22" stroke-width="1.3"/><path d="M279 255 C 272 260, 265 264, 258 268 L 260 271 C 267 268, 275 264, 284 261 Z" fill="#e0c0aa" stroke="#4a2e22" stroke-width="1"/><circle cx="257.5" cy="269.5" r="2.6" fill="#eaa2aa" stroke="#4a2e22" stroke-width="0.7"/><path d="M292.5 226 C 285 219, 272 215, 262 218 C 252 222, 244 230, 240 238 C 242 244, 248 248, 258 252 C 266 255, 276 256, 284 252 C 292 246, 296 236, 292.5 226 Z" fill="#ecd2c1" stroke="#4a2e22" stroke-width="1.2"/><ellipse cx="246" cy="240" rx="5" ry="3.5" fill="#f2b9b6" opacity="0.8"/><ellipse cx="287" cy="225" rx="5" ry="4" fill="#f0b0b0" stroke="#4a2e22" stroke-width="1"/><circle cx="263" cy="233" r="2" fill="#111"/><path d="M241 236 l-14 -7 M241 238 l-15 -2 M242 241 l-13 4 M248 247 l-6 9 M253 250 l-2 10" stroke="#333" stroke-width="0.7" fill="none"/><path d="M257 215 l12 6 l10 -2" stroke="#111" stroke-width="3" fill="none"/><circle cx="270" cy="222" r="3.2" fill="#ddd" stroke="#111" stroke-width="1.5"/><path d="M108.5 138.5 L423 312 L423 318 L108.5 144.5 Z" fill="#5c6169" stroke="#33363b" stroke-width="1"/><path d="M108.5 138.5 L111 135.5 L425.5 309 L423 312 Z" fill="#9ca1a8" stroke="#33363b" stroke-width="0.8"/><path d="M423 312 L425.5 309 L425.5 315 L423 318 Z" fill="#3e4247"/><path d="M246.2 130 L246.2 186 L254 191 L254 198 L264 210 L271.9 212.5 L280 210 L289 198 L289 191 L297.5 186 L297.5 130 Z" fill="url(#obj2)" stroke="#55585d" stroke-width="1"/><ellipse cx="271.9" cy="130" rx="25.6" ry="6" fill="#9b9ea3" stroke="#55585d" stroke-width="1"/><ellipse cx="271.9" cy="130" rx="17" ry="3.8" fill="#d9dbde" stroke="#7b7e83" stroke-width="1"/><path d="M246.2 186 Q 271.9 194 297.5 186" fill="none" stroke="#606368" stroke-width="1"/><path d="M254 198 Q 271.9 204 289 198" fill="none" stroke="#606368" stroke-width="0.8"/><ellipse cx="302" cy="189" rx="6" ry="4.5" fill="#fafafa" stroke="#444" stroke-width="1.2"/><path d="M479.5 106.9 C 470 88, 450 70, 421.4 61.2" fill="none" stroke="#222" stroke-width="1.5"/><path d="M436 60 L421.4 61.2 L430.4 72.3" fill="none" stroke="#222" stroke-width="1.5"/><path d="M494 257.6 C 485 275, 472 290, 452.7 302.2" fill="none" stroke="#222" stroke-width="1.5" stroke-dasharray="6 4"/><path d="M463.8 301 L452.7 302.2 L455 292" fill="none" stroke="#222" stroke-width="1.5"/></g>
<text x="894.6" y="2232.4" font-size="26.7" text-anchor="middle">Craniotomy /M1 Injection</text>
<text x="895.4" y="2264.7" font-size="27.2" text-anchor="middle">1:15,000 AAV-Cre</text>
<text x="891.6" y="2297.0" font-size="27" text-anchor="middle">+ AAV1-CAG-FLEX-EGFP (1:1)</text>
<rect x="1204.4" y="1890.5" width="376.5" height="376.5" fill="#000"/><svg x="1204.4" y="1890.5" width="376.5" height="376.5" viewBox="0 0 376.5 376.5" overflow="hidden"><radialGradient id="glow1"><stop offset="0" stop-color="#8a8a8a"/><stop offset="0.5" stop-color="#4a4a4a"/><stop offset="1" stop-color="#000" stop-opacity="0"/></radialGradient><circle cx="350" cy="186" r="34" fill="url(#glow1)" opacity="0.95"/><path d="M126.5 2.1 L130.1 5.5 L132.0 9.4 L134.0 12.8 L137.6 17.0 L139.2 19.6 L142.0 23.8 L146.1 25.4 L149.5 30.4 L151.7 32.8 L153.6 34.7 L157.2 38.0 L159.4 41.5 L161.5 45.5 L164.7 49.9 L167.2 53.1 L169.6 56.7 L171.9 59.6 L175.3 65.0 L177.3 68.4 L178.5 71.5 L180.8 75.1 L184.0 79.8 L185.8 83.5 L187.5 88.2 L187.2 90.7 L190.6 94.9 L192.3 98.5 L192.0 102.8 L195.0 105.8 L195.2 109.7 L199.3 114.5 L199.9 117.5 L202.2 121.1 L206.5 125.8 L208.8 130.8" fill="none" stroke="#f4f4f4" stroke-width="2.2" stroke-linecap="round" stroke-linejoin="round"/><path d="M143.1 1.9 L144.8 5.7 L147.1 8.9 L149.5 11.7 L152.1 14.7 L156.1 19.0 L157.2 22.5 L159.4 24.8 L163.2 28.6 L164.2 32.6 L166.9 34.5 L170.5 38.0 L172.1 40.8 L174.2 45.2 L177.5 48.8 L180.7 52.1 L184.9 55.8 L187.1 60.1 L190.0 63.0" fill="none" stroke="#9a9a9a" stroke-width="1.3" stroke-linecap="round" stroke-linejoin="round" stroke-dasharray="2.2 1.6"/><path d="M153.4 98.3 L159.7 99.3 L163.3 97.7 L169.2 98.9 L171.7 101.9 L176.8 104.2 L179.6 106.2 L183.5 110.0" fill="none" stroke="#ffffff" stroke-width="2.4" stroke-linecap="round" stroke-linejoin="round"/><path d="M16.0 2.9 L16.3 6.6 L16.2 11.1 L16.8 14.3 L15.9 19.3 L15.5 22.6 L16.4 28.0 L16.4 31.1 L16.9 35.2 L15.0 39.5 L16.0 43.4 L15.6 48.2 L16.5 52.0 L16.2 57.8 L17.5 61.6 L17.1 65.7 L16.1 68.8 L16.9 74.0" fill="none" stroke="#8a8a8a" stroke-width="1.1" stroke-linecap="round" stroke-linejoin="round" stroke-dasharray="2.2 1.6"/><path d="M117.0 6.8 L117.7 11.2 L115.5 14.8 L115.7 19.2 L114.6 24.0 L113.4 27.3 L114.0 32.3 L113.2 36.2 L112.6 40.8 L111.1 44.7 L111.6 49.5 L110.0 53.7 L110.2 57.6 L109.1 61.6 L108.4 66.5 L106.8 70.9 L108.0 75.8 L107.2 79.1 L107.0 83.9 L106.2 88.7 L105.3 92.9 L105.0 97.0 L105.7 100.6 L105.5 105.5" fill="none" stroke="#bdbdbd" stroke-width="1.4" stroke-linecap="round" stroke-linejoin="round" stroke-dasharray="2.2 1.6"/><path d="M186.0 95.0 L184.9 100.0 L183.2 102.4 L182.4 107.9 L181.3 111.0 L181.7 116.2 L179.9 120.8 L178.7 124.3 L177.4 127.9 L177.6 132.8 L176.8 135.8 L175.2 139.6 L173.3 144.0 L173.7 148.7 L171.6 152.6 L168.9 154.7 L167.4 158.6 L165.1 162.5 L164.1 166.3 L161.6 170.7 L161.0 173.9 L157.1 177.1 L156.7 181.1 L154.4 186.1 L152.0 190.0" fill="none" stroke="#8e8e8e" stroke-width="1.2" stroke-linecap="round" stroke-linejoin="round" stroke-dasharray="2.2 1.6"/><path d="M271.6 2.6 L270.8 5.3 L271.4 9.0 L271.9 13.5 L270.3 17.1 L270.9 22.4 L270.6 27.4 L270.6 32.5 L267.9 34.6 L265.0 38.2 L261.5 42.3 L260.4 45.4 L256.5 50.0 L254.4 54.7 L251.0 59.0" fill="none" stroke="#e8e8e8" stroke-width="2.0" stroke-linecap="round" stroke-linejoin="round"/><path d="M228.0 40.5 L232.0 39.0" fill="none" stroke="#cccccc" stroke-width="2.0" stroke-linecap="round" stroke-linejoin="round"/><path d="M375.2 63.6 L374.7 66.6 L373.3 72.2 L370.2 76.1 L369.7 81.4 L367.8 85.1 L367.7 89.7 L366.8 93.1 L365.2 96.7 L364.3 102.0 L363.1 105.9 L361.8 110.4 L362.8 114.6 L361.5 118.3 L360.6 122.7 L361.2 125.6 L360.0 130.0" fill="none" stroke="#b5b5b5" stroke-width="1.3" stroke-linecap="round" stroke-linejoin="round" stroke-dasharray="2.2 1.6"/><path d="M324.0 113.9 L326.2 118.5 L327.4 121.1 L329.3 125.1 L330.6 129.3 L331.5 135.0 L333.0 138.1 L335.7 143.6 L338.2 148.0 L340.5 151.1 L342.6 153.7 L343.2 158.1 L345.5 162.0 L348.3 165.0 L351.3 168.6 L352.9 171.8 L356.6 176.3 L358.0 179.7 L362.7 182.7 L365.0 185.7 L368.1 190.0 L370.9 192.4 L374.3 196.7 L376.0 200.0" fill="none" stroke="#b0b0b0" stroke-width="1.3" stroke-linecap="round" stroke-linejoin="round" stroke-dasharray="2.2 1.6"/><path d="M265.6 89.2 L269.6 90.9 L273.5 92.3 L276.8 95.3 L281.3 98.6 L283.6 100.0 L287.0 102.3 L292.0 105.5 L295.0 106.6 L297.9 109.4 L303.0 110.6 L306.2 112.6 L308.6 115.2 L313.2 117.5 L316.0 120.3 L319.1 122.7 L322.7 124.4 L327.0 126.6" fill="none" stroke="#8a8a8a" stroke-width="1.1" stroke-linecap="round" stroke-linejoin="round" stroke-dasharray="2.2 1.6"/><path d="M7.9 113.4 L10.6 117.4 L12.4 120.8 L14.8 123.8 L16.2 128.3 L19.2 131.6 L21.7 135.2 L25.7 135.3 L29.5 137.3 L33.8 137.1 L36.6 139.2 L40.4 140.2 L45.8 139.3 L48.9 141.0 L53.4 140.3 L59.0 141.5 L63.4 141.5 L67.1 143.2 L71.7 143.4" fill="none" stroke="#a6a6a6" stroke-width="1.3" stroke-linecap="round" stroke-linejoin="round" stroke-dasharray="2.2 1.6"/><path d="M5.3 139.4 L11.3 141.1 L16.6 139.7 L20.3 141.3 L25.0 141.4 L28.6 140.7 L32.7 141.3 L37.9 142.8 L42.0 143.4" fill="none" stroke="#9a9a9a" stroke-width="1.2" stroke-linecap="round" stroke-linejoin="round" stroke-dasharray="2.2 1.6"/><path d="M8.5 227.3 L11.9 226.4 L17.4 227.0 L21.7 224.2 L24.1 224.9 L29.2 223.3 L33.2 221.4 L37.8 220.1 L42.2 218.0 L46.4 218.4 L49.4 216.4 L54.5 215.1 L57.4 213.3 L62.6 211.3 L67.9 211.1 L71.7 208.8" fill="none" stroke="#e4e4e4" stroke-width="2.0" stroke-linecap="round" stroke-linejoin="round"/><path d="M10.9 198.7 L11.9 202.1 L12.9 206.5 L14.8 211.4 L14.5 215.8 L17.0 219.8 L18.6 223.3 L20.3 228.5 L21.0 232.0" fill="none" stroke="#c0c0c0" stroke-width="1.4" stroke-linecap="round" stroke-linejoin="round" stroke-dasharray="2.2 1.6"/><path d="M21.4 232.5 L22.3 236.3 L22.9 240.1 L22.9 245.4 L23.0 249.7 L25.0 254.2 L24.8 258.9 L26.4 261.7 L27.0 266.1 L27.4 270.0" fill="none" stroke="#8c8c8c" stroke-width="1.1" stroke-linecap="round" stroke-linejoin="round" stroke-dasharray="2.2 1.6"/><path d="M206.8 176.8 L211.3 179.8 L214.4 182.5 L218.7 182.8 L221.7 186.1 L225.3 183.1 L229.1 180.4 L233.9 179.3 L237.8 180.1 L242.8 182.7 L247.9 186.1 L252.1 190.3 L255.8 193.2 L253.3 199.0 L250.1 203.9 L248.2 206.9 L246.1 211.0 L243.6 212.6 L240.9 215.8 L236.1 218.9 L232.0 221.5" fill="none" stroke="#f4f4f4" stroke-width="2.3" stroke-linecap="round" stroke-linejoin="round"/><path d="M174.7 206.3 L180.3 212.1 L185.2 215.4 L188.4 211.5 L191.5 209.1 L194.5 207.8 L198.3 204.6" fill="none" stroke="#ffffff" stroke-width="2.6" stroke-linecap="round" stroke-linejoin="round"/><path d="M202.3 148.4 L207.2 148.9 L212.0 152.9 L212.1 156.8 L214.9 160.0 L218.1 163.8 L219.4 168.7" fill="none" stroke="#d8d8d8" stroke-width="1.8" stroke-linecap="round" stroke-linejoin="round"/><path d="M139.2 230.9 L137.5 233.8 L136.0 238.3 L133.1 240.7 L131.0 245.2 L128.1 248.3 L126.7 252.2 L123.6 257.1 L120.7 260.0 L118.1 264.1 L115.6 268.1 L112.8 272.4 L109.1 274.4 L104.7 279.2 L104.2 282.8 L101.5 286.2 L100.2 291.0 L98.2 295.3 L96.7 298.6 L93.8 304.5 L93.4 308.5 L90.7 312.0" fill="none" stroke="#f6f6f6" stroke-width="2.3" stroke-linecap="round" stroke-linejoin="round"/><path d="M134.1 235.1 L132.4 239.5 L131.0 242.5 L128.7 246.0 L125.7 250.9 L124.5 254.4 L122.0 257.7 L119.5 261.1 L118.5 265.7 L115.3 267.8 L114.9 272.4 L113.0 275.1 L110.4 278.8 L109.3 282.6 L107.2 287.4 L104.7 290.1 L104.2 295.2 L102.2 298.5 L100.2 304.0 L98.8 306.8 L98.5 312.0 L97.0 316.4" fill="none" stroke="#e0e0e0" stroke-width="1.8" stroke-linecap="round" stroke-linejoin="round"/><path d="M118.4 242.2 L115.6 245.0 L111.4 249.4 L108.2 251.9 L106.4 255.9 L102.6 258.1 L99.7 262.5 L97.3 264.8 L95.6 269.3 L93.6 273.7 L91.2 276.3 L88.6 279.6 L85.6 283.4 L84.9 288.0 L81.5 290.5 L79.7 294.1 L77.8 297.8 L75.4 301.7 L74.1 305.8 L71.7 309.9 L67.9 314.4 L66.8 317.6 L62.8 321.8 L61.6 325.6 L60.2 329.6 L57.6 332.1 L52.6 334.7 L47.2 334.5 L44.0 337.3 L38.2 337.9 L33.8 339.3 L30.3 339.5 L25.5 341.5 L22.1 342.5 L17.9 342.7 L15.1 344.3 L10.2 345.1 L6.3 346.0" fill="none" stroke="#dcdcdc" stroke-width="1.8" stroke-linecap="round" stroke-linejoin="round"/><path d="M80.4 264.1 L84.8 261.8 L88.7 260.6 L92.7 259.1 L96.7 257.5 L100.9 255.3 L103.8 253.6 L108.2 251.1 L111.2 248.7 L115.7 248.6 L118.8 245.0 L122.2 243.7 L126.6 242.0" fill="none" stroke="#bdbdbd" stroke-width="1.3" stroke-linecap="round" stroke-linejoin="round" stroke-dasharray="2.2 1.6"/><path d="M117.6 283.5 L121.5 282.7 L126.0 283.9 L131.8 283.4 L134.7 284.4 L140.2 285.8 L143.6 285.0 L148.3 286.0 L152.9 287.8 L158.1 287.6 L162.4 289.0" fill="none" stroke="#cfcfcf" stroke-width="1.4" stroke-linecap="round" stroke-linejoin="round" stroke-dasharray="2.2 1.6"/><path d="M256.7 233.6 L260.8 235.5 L265.2 236.1 L270.3 237.0 L273.3 238.8 L278.7 238.7 L282.1 240.9 L285.9 240.6 L289.0 243.2 L294.5 243.2 L297.9 244.6 L301.4 246.6 L306.1 246.3 L309.6 247.3 L315.1 248.5 L320.6 248.7 L324.3 248.3 L328.8 249.0 L334.1 250.0 L337.8 251.5 L341.2 251.1 L345.6 251.3 L349.9 251.1 L356.1 250.9 L359.2 249.5 L365.6 248.1 L370.2 247.8 L375.4 246.8" fill="none" stroke="#dcdcdc" stroke-width="1.8" stroke-linecap="round" stroke-linejoin="round" stroke-dasharray="2.2 1.6"/><path d="M306.7 268.2 L309.8 270.8 L312.9 274.2 L316.4 276.8 L319.4 280.2 L322.1 284.1 L324.4 287.8 L327.8 289.8 L330.5 292.9 L334.3 296.8 L337.2 299.9 L340.2 301.5 L344.4 304.8 L348.7 306.3 L350.6 307.8 L355.5 309.5 L358.7 311.9 L361.8 315.1 L367.6 315.7 L371.4 318.0 L375.4 320.6" fill="none" stroke="#d0d0d0" stroke-width="1.6" stroke-linecap="round" stroke-linejoin="round" stroke-dasharray="2.2 1.6"/><path d="M368.8 246.9 L368.0 250.6 L367.5 255.4 L366.6 258.6 L367.0 263.1 L366.8 267.7 L365.7 271.4 L365.3 275.0 L363.3 279.2 L363.8 284.5 L362.2 287.9 L362.9 292.3 L360.8 295.6 L360.3 299.5 L360.2 303.4 L360.6 308.2 L359.2 312.7 L359.1 317.0 L358.6 320.1 L358.8 323.6 L359.0 329.1 L360.4 333.3 L359.9 337.0 L358.8 340.6 L359.7 345.3 L359.6 349.1 L360.8 354.3 L361.9 358.3 L360.9 362.9 L362.8 366.8 L362.1 371.1 L362.8 375.4" fill="none" stroke="#b8b8b8" stroke-width="1.3" stroke-linecap="round" stroke-linejoin="round" stroke-dasharray="2.2 1.6"/><path d="M182.8 270.4 L188.5 270.9 L192.0 272.4 L195.1 273.6 L200.0 273.0 L202.9 273.9 L208.0 275.7 L211.5 277.1 L215.7 277.0 L219.2 278.9 L223.4 279.9 L228.3 280.3 L232.5 280.9 L237.3 283.4 L241.3 283.8 L244.0 285.3 L248.5 286.6 L252.5 287.0 L257.7 287.9 L261.1 289.3 L264.1 291.2 L270.0 294.3 L273.3 294.7 L277.3 297.2 L280.8 298.5 L285.6 299.0 L288.3 301.9 L292.0 303.8 L296.8 305.3 L300.5 307.5 L304.5 309.7 L308.5 311.1 L312.5 313.3 L316.0 316.0" fill="none" stroke="#8a8a8a" stroke-width="1.1" stroke-linecap="round" stroke-linejoin="round" stroke-dasharray="2.2 1.6"/><path d="M97.9 312.2 L98.9 315.5 L101.2 319.7 L103.5 323.5 L105.0 327.7 L107.7 331.0 L108.8 333.9 L111.1 338.5 L113.1 341.4 L114.9 345.8 L116.9 347.5 L119.9 352.6 L122.1 355.3 L124.4 358.1 L126.3 361.0 L127.6 365.2 L130.6 368.4 L131.9 372.4 L135.0 375.4" fill="none" stroke="#8a8a8a" stroke-width="1.1" stroke-linecap="round" stroke-linejoin="round" stroke-dasharray="2.2 1.6"/><path d="M211.1 199.5 L214.2 201.7 L217.7 202.9 L222.7 206.6 L225.8 208.2 L229.0 210.0 L232.2 211.7 L236.5 213.9 L239.2 215.6 L243.1 217.0 L248.7 217.8 L251.2 220.3 L255.2 221.7 L260.2 225.1 L263.1 226.0 L267.4 227.3 L270.2 230.9 L274.6 232.0 L279.3 235.3 L281.8 236.1 L284.8 239.8 L289.5 240.7 L292.8 243.4 L295.4 245.3 L299.7 249.3 L301.7 250.9 L305.1 253.8 L308.3 254.5 L313.0 257.3 L316.0 260.0" fill="none" stroke="#7e7e7e" stroke-width="1.1" stroke-linecap="round" stroke-linejoin="round" stroke-dasharray="2.2 1.6"/><circle cx="339.0" cy="327.4" r="1.0" fill="#777"/><circle cx="50.8" cy="262.0" r="1.2" fill="#777"/><circle cx="167.6" cy="29.7" r="0.7" fill="#777"/><circle cx="115.6" cy="267.5" r="0.7" fill="#777"/><circle cx="68.2" cy="88.6" r="1.0" fill="#777"/><circle cx="297.6" cy="140.3" r="1.0" fill="#777"/><circle cx="333.0" cy="222.1" r="0.7" fill="#777"/><circle cx="113.3" cy="348.9" r="1.0" fill="#777"/><circle cx="104.2" cy="240.9" r="0.7" fill="#777"/><circle cx="370.1" cy="165.8" r="0.9" fill="#777"/><circle cx="199.9" cy="17.1" r="1.0" fill="#777"/><circle cx="107.1" cy="94.5" r="1.1" fill="#777"/><circle cx="32.8" cy="107.4" r="1.1" fill="#777"/><circle cx="92.6" cy="105.1" r="0.9" fill="#777"/><circle cx="70.2" cy="337.7" r="1.2" fill="#777"/><circle cx="12.7" cy="173.8" r="1.1" fill="#777"/><circle cx="144.8" cy="349.9" r="0.9" fill="#777"/><circle cx="67.7" cy="209.3" r="1.0" fill="#777"/><circle cx="135.4" cy="247.8" r="1.1" fill="#777"/><circle cx="194.6" cy="190.4" r="1.1" fill="#777"/><circle cx="257.6" cy="196.0" r="1.2" fill="#777"/><circle cx="65.5" cy="293.5" r="0.7" fill="#777"/><circle cx="228.9" cy="88.6" r="0.9" fill="#777"/><circle cx="291.0" cy="296.1" r="1.1" fill="#777"/><circle cx="88.8" cy="184.2" r="0.7" fill="#777"/><circle cx="218.4" cy="187.9" r="0.6" fill="#777"/><circle cx="224.7" cy="269.1" r="0.9" fill="#777"/><circle cx="328.6" cy="67.8" r="0.7" fill="#777"/><circle cx="6.7" cy="186.8" r="0.9" fill="#777"/><circle cx="166.3" cy="99.0" r="1.1" fill="#777"/><circle cx="27.3" cy="341.6" r="0.9" fill="#777"/><circle cx="204.5" cy="298.0" r="0.7" fill="#777"/><circle cx="55.1" cy="117.1" r="0.6" fill="#777"/><circle cx="118.4" cy="233.9" r="0.9" fill="#777"/><circle cx="99.7" cy="221.6" r="0.7" fill="#777"/><circle cx="308.9" cy="64.6" r="0.8" fill="#777"/><circle cx="60.2" cy="260.0" r="1.1" fill="#777"/><circle cx="296.2" cy="23.0" r="0.8" fill="#777"/><circle cx="137.2" cy="81.5" r="1.2" fill="#777"/><circle cx="15.9" cy="184.3" r="1.1" fill="#777"/><circle cx="371.3" cy="54.4" r="0.9" fill="#777"/><circle cx="280.5" cy="14.8" r="0.7" fill="#777"/><circle cx="335.1" cy="53.3" r="0.8" fill="#777"/><circle cx="112.2" cy="159.8" r="0.6" fill="#777"/><circle cx="12.9" cy="375.0" r="1.1" fill="#777"/><circle cx="276.4" cy="86.5" r="0.8" fill="#777"/><circle cx="207.8" cy="91.0" r="0.9" fill="#777"/><circle cx="351.1" cy="137.0" r="0.8" fill="#777"/><circle cx="369.4" cy="230.0" r="0.6" fill="#777"/><circle cx="151.7" cy="244.6" r="0.6" fill="#777"/><circle cx="129.2" cy="261.5" r="1.1" fill="#777"/><circle cx="222.4" cy="333.7" r="0.9" fill="#777"/><circle cx="147.9" cy="317.4" r="0.8" fill="#777"/><circle cx="294.2" cy="81.1" r="0.8" fill="#777"/><circle cx="69.1" cy="206.9" r="0.7" fill="#777"/><circle cx="76.7" cy="80.7" r="0.9" fill="#777"/><circle cx="116.2" cy="168.3" r="1.2" fill="#777"/><circle cx="255.7" cy="324.8" r="0.7" fill="#777"/><circle cx="144.2" cy="27.4" r="1.0" fill="#777"/><circle cx="136.6" cy="103.4" r="0.6" fill="#777"/><circle cx="68.5" cy="98.8" r="0.8" fill="#777"/><circle cx="347.7" cy="269.3" r="0.8" fill="#777"/><circle cx="136.0" cy="57.8" r="1.2" fill="#777"/><circle cx="135.4" cy="288.3" r="1.0" fill="#777"/><circle cx="341.5" cy="7.7" r="0.8" fill="#777"/><circle cx="144.7" cy="31.3" r="1.1" fill="#777"/><circle cx="122.5" cy="290.2" r="0.9" fill="#777"/><circle cx="20.7" cy="148.3" r="0.7" fill="#777"/><circle cx="15.4" cy="56.8" r="1.0" fill="#777"/><circle cx="12.0" cy="117.6" r="0.9" fill="#777"/></svg>
<rect x="1620.6" y="1890.5" width="376.5" height="376.5" fill="#000"/><svg x="1620.6" y="1890.5" width="376.5" height="376.5" viewBox="0 0 376.5 376.5" overflow="hidden"><path d="M185.8 186.0 L181.9 185.1 L177.5 183.8 L172.0 181.7 L169.3 180.8 L165.0 178.6 L159.9 177.5 L155.9 177.0 L150.8 175.2 L147.1 175.2 L143.8 172.7 L139.7 171.5 L135.0 171.0" fill="none" stroke="#ffffff" stroke-width="4.2" stroke-linecap="round" stroke-linejoin="round"/><path d="M135.2 170.3 L130.5 169.0 L127.3 165.1 L125.2 163.5 L120.3 161.0 L117.2 157.7 L113.0 155.5 L110.3 152.8 L107.1 148.8 L102.6 145.7 L98.7 142.7 L95.4 140.9 L91.3 138.2 L88.3 134.7 L85.5 132.0 L80.8 129.0 L77.8 125.2 L74.6 122.1 L70.4 120.6 L65.7 118.0 L62.8 115.2 L58.7 111.7 L55.6 110.9 L52.2 108.1 L49.7 106.1 L44.9 102.8 L41.4 101.3 L36.9 99.0 L34.3 96.9 L29.2 94.8 L25.7 91.6 L23.1 90.5 L19.1 88.3 L15.8 85.4" fill="none" stroke="#ffffff" stroke-width="1.8" stroke-linecap="round" stroke-linejoin="round"/><path d="M112.7 155.0 L111.0 159.6 L110.5 162.8 L108.3 167.0" fill="none" stroke="#bbbbbb" stroke-width="0.9" stroke-linecap="round" stroke-linejoin="round"/><path d="M120.8 160.4 L124.2 162.8 L127.2 165.1 L130.7 167.5 L134.7 169.0" fill="none" stroke="#bbbbbb" stroke-width="0.9" stroke-linecap="round" stroke-linejoin="round"/><path d="M88.8 135.5 L86.0 131.1 L84.9 128.4 L81.1 125.7 L79.4 121.1 L77.0 117.5 L74.9 114.4 L73.8 111.6 L70.6 107.8 L70.1 104.5 L67.0 100.2 L65.3 97.7 L63.2 93.7 L62.5 88.7 L61.7 86.1 L58.9 81.6 L58.0 77.8 L56.5 73.1 L55.5 69.7 L54.1 64.9 L52.5 61.5 L52.1 57.8 L50.2 53.7 L50.0 49.4 L48.5 44.3" fill="none" stroke="#e6e6e6" stroke-width="1.3" stroke-linecap="round" stroke-linejoin="round"/><path d="M64.8 97.8 L62.7 94.7 L60.5 91.6 L58.4 88.3 L55.8 84.7" fill="none" stroke="#bbbbbb" stroke-width="0.9" stroke-linecap="round" stroke-linejoin="round"/><path d="M63.7 93.6 L63.1 97.6 L62.4 102.1 L61.3 106.4" fill="none" stroke="#bbbbbb" stroke-width="0.9" stroke-linecap="round" stroke-linejoin="round"/><path d="M134.8 171.7 L130.6 174.9 L127.0 175.8 L124.4 177.6 L119.2 180.3 L115.8 182.6 L112.8 184.8 L108.8 186.8 L104.1 190.3 L99.6 192.9 L95.7 194.7 L92.7 196.4 L89.2 198.9 L85.4 202.9 L82.0 203.1 L78.0 204.7 L74.3 207.1 L69.6 208.8" fill="none" stroke="#e6e6e6" stroke-width="1.4" stroke-linecap="round" stroke-linejoin="round"/><path d="M127.2 175.2 L122.9 178.2 L119.4 179.9 L115.8 182.3" fill="none" stroke="#bbbbbb" stroke-width="0.9" stroke-linecap="round" stroke-linejoin="round"/><path d="M99.8 192.9 L102.6 189.8 L104.3 186.3 L107.0 183.9 L109.2 180.0 L112.0 177.0" fill="none" stroke="#bbbbbb" stroke-width="0.9" stroke-linecap="round" stroke-linejoin="round"/><path d="M139.3 169.8 L138.2 166.3 L136.2 161.9 L134.2 158.7 L132.0 154.3 L129.9 151.8 L129.0 147.3 L126.6 144.5 L125.1 139.7 L123.8 136.5 L121.2 133.7 L119.4 129.2 L117.9 125.5 L116.4 121.5 L114.0 119.0 L111.6 114.6 L109.3 112.1 L108.0 108.4 L105.9 103.0 L105.0 101.0 L102.4 95.7 L101.0 92.8" fill="none" stroke="#cfcfcf" stroke-width="1.2" stroke-linecap="round" stroke-linejoin="round"/><path d="M129.9 151.6 L132.3 148.5 L133.7 144.6" fill="none" stroke="#bbbbbb" stroke-width="0.9" stroke-linecap="round" stroke-linejoin="round"/><path d="M125.3 139.4 L120.1 140.6 L115.2 140.8 L110.7 141.1 L105.3 140.9" fill="none" stroke="#bbbbbb" stroke-width="0.9" stroke-linecap="round" stroke-linejoin="round"/><path d="M189.1 167.3 L191.6 164.8 L194.2 161.2 L195.1 156.9 L198.3 154.2 L199.3 149.1 L202.6 147.0 L204.3 143.7 L206.9 139.9 L210.6 136.8 L212.8 134.1 L215.3 130.6 L218.3 126.5 L220.8 123.4 L223.9 119.4 L226.3 115.6 L227.7 113.0 L231.4 109.3 L234.0 105.5" fill="none" stroke="#ffffff" stroke-width="1.5" stroke-linecap="round" stroke-linejoin="round"/><path d="M227.7 113.1 L231.9 110.1 L236.1 107.7" fill="none" stroke="#bbbbbb" stroke-width="0.9" stroke-linecap="round" stroke-linejoin="round"/><path d="M198.8 149.4 L194.4 151.0 L189.5 154.3 L185.4 156.1" fill="none" stroke="#bbbbbb" stroke-width="0.9" stroke-linecap="round" stroke-linejoin="round"/><path d="M181.7 159.9 L180.8 155.8 L181.2 151.3 L180.1 148.2 L181.0 143.3 L180.7 140.9 L180.0 135.9 L178.6 131.4 L179.3 127.2 L177.9 124.1 L178.3 120.4 L177.0 116.1 L176.1 111.8 L176.4 107.1 L174.9 104.3 L175.0 99.7 L174.7 96.7 L173.1 91.6 L173.3 88.3 L172.2 84.8 L172.1 79.5 L170.7 75.0 L171.7 70.6 L171.4 67.1 L170.8 61.9 L169.4 56.8 L168.3 52.7 L168.7 48.5" fill="none" stroke="#e6e6e6" stroke-width="1.3" stroke-linecap="round" stroke-linejoin="round"/><path d="M171.8 84.9 L169.6 81.2 L167.6 76.7" fill="none" stroke="#bbbbbb" stroke-width="0.9" stroke-linecap="round" stroke-linejoin="round"/><path d="M174.7 96.8 L179.2 96.1 L183.9 94.5" fill="none" stroke="#bbbbbb" stroke-width="0.9" stroke-linecap="round" stroke-linejoin="round"/><path d="M195.8 164.9 L195.7 161.3 L194.6 157.4 L195.5 152.0 L196.0 148.1 L196.4 143.8 L196.8 140.4 L196.5 135.4 L196.4 131.1 L195.6 127.2 L196.8 122.4 L195.2 119.2 L195.5 113.4 L195.2 108.8 L195.4 104.8 L196.0 101.0" fill="none" stroke="#cfcfcf" stroke-width="1.2" stroke-linecap="round" stroke-linejoin="round"/><path d="M196.7 130.5 L200.1 128.4 L204.1 124.7 L207.7 121.6" fill="none" stroke="#bbbbbb" stroke-width="0.9" stroke-linecap="round" stroke-linejoin="round"/><path d="M196.6 130.6 L191.7 132.8 L186.0 133.6" fill="none" stroke="#bbbbbb" stroke-width="0.9" stroke-linecap="round" stroke-linejoin="round"/><path d="M195.9 172.1 L199.3 172.2 L204.5 171.6 L207.2 171.6 L211.7 171.0 L215.7 169.4 L219.1 169.7 L224.6 168.8 L228.5 168.8 L231.9 168.3 L236.9 167.5 L240.4 168.1 L244.6 167.6 L249.3 167.2 L253.2 165.7 L256.9 164.9 L262.3 165.1 L266.2 164.0 L269.5 163.2 L274.4 163.9 L278.0 162.9 L282.6 162.7 L286.3 161.0 L291.7 162.0 L295.4 161.6 L299.9 159.8 L303.0 156.4 L305.3 154.3 L308.5 150.7 L311.7 146.7 L314.7 144.3 L317.3 141.9 L320.8 137.5 L323.4 134.7 L325.6 130.4 L330.0 127.8 L331.6 124.6 L335.4 120.2" fill="none" stroke="#ffffff" stroke-width="1.6" stroke-linecap="round" stroke-linejoin="round"/><path d="M240.0 167.6 L236.4 165.2 L232.3 162.2 L228.3 159.7 L224.1 156.6" fill="none" stroke="#bbbbbb" stroke-width="0.9" stroke-linecap="round" stroke-linejoin="round"/><path d="M278.6 162.9 L276.0 159.1 L275.3 155.0 L273.3 151.1 L271.9 147.7 L270.3 143.9" fill="none" stroke="#bbbbbb" stroke-width="0.9" stroke-linecap="round" stroke-linejoin="round"/><path d="M196.4 178.5 L201.0 178.1 L203.9 177.5 L208.0 177.7 L213.1 177.8 L217.5 176.1 L221.4 176.4 L225.6 175.5 L228.8 176.9 L232.7 175.1 L236.9 176.0 L242.2 174.6 L245.0 175.1 L249.3 175.5 L254.1 174.4 L257.7 173.7 L262.0 173.8 L265.2 173.9 L270.4 172.7 L273.3 174.0 L278.6 172.8 L281.6 173.4 L285.1 172.3 L289.3 171.5 L294.1 171.0 L298.9 170.7 L303.9 170.5 L307.5 170.8 L311.0 170.6 L315.9 169.7 L320.0 169.3 L324.2 169.2 L329.0 168.7" fill="none" stroke="#e6e6e6" stroke-width="1.3" stroke-linecap="round" stroke-linejoin="round"/><path d="M221.9 176.4 L217.6 178.2 L212.2 180.2 L208.2 180.9 L203.9 183.2" fill="none" stroke="#bbbbbb" stroke-width="0.9" stroke-linecap="round" stroke-linejoin="round"/><path d="M201.0 178.5 L204.8 178.6 L208.6 179.4 L212.9 180.4 L216.7 181.4" fill="none" stroke="#bbbbbb" stroke-width="0.9" stroke-linecap="round" stroke-linejoin="round"/><path d="M200.5 179.5 L203.7 181.0 L208.9 183.6 L212.6 184.7 L215.8 185.4 L220.6 187.5 L223.2 188.4 L227.3 190.9 L232.7 191.5 L236.5 193.2 L240.3 195.7 L244.2 198.1 L247.8 199.3 L252.0 203.0 L255.4 205.2 L259.7 207.1 L263.2 210.0 L267.0 212.9 L270.3 215.6 L274.0 217.0" fill="none" stroke="#cfcfcf" stroke-width="1.2" stroke-linecap="round" stroke-linejoin="round"/><path d="M270.7 215.5 L267.9 211.3 L265.4 206.3 L262.8 202.0" fill="none" stroke="#bbbbbb" stroke-width="0.9" stroke-linecap="round" stroke-linejoin="round"/><path d="M212.8 185.1 L217.8 185.4 L222.5 185.7 L227.1 186.8 L231.2 187.9" fill="none" stroke="#bbbbbb" stroke-width="0.9" stroke-linecap="round" stroke-linejoin="round"/><path d="M273.2 96.3 L279.0 96.2 L282.1 96.6 L287.3 95.8 L290.8 95.2 L294.2 94.0 L298.8 94.8 L303.1 94.7 L307.8 93.1 L312.1 93.0 L315.3 92.8 L319.7 91.7 L324.9 92.2 L328.9 91.8 L332.4 89.6 L336.7 90.3 L341.9 88.5 L346.5 87.9 L349.8 87.6 L354.5 87.7 L358.7 87.3 L362.8 86.5" fill="none" stroke="#cfcfcf" stroke-width="1.3" stroke-linecap="round" stroke-linejoin="round"/><path d="M349.7 87.6 L349.6 82.8 L348.3 78.6 L347.9 73.9" fill="none" stroke="#bbbbbb" stroke-width="0.9" stroke-linecap="round" stroke-linejoin="round"/><path d="M319.2 91.8 L321.4 95.2 L322.9 99.5" fill="none" stroke="#bbbbbb" stroke-width="0.9" stroke-linecap="round" stroke-linejoin="round"/><path d="M194.4 195.2 L197.3 198.8 L199.4 201.2 L201.0 206.1 L203.8 208.7 L205.6 212.8 L207.8 215.5 L209.4 220.1 L211.0 222.3 L212.4 225.9 L214.3 229.4 L217.5 232.9 L220.0 237.7 L222.4 241.5 L224.5 245.3 L227.2 248.4 L229.5 251.1 L230.2 254.7 L232.7 258.9 L235.4 263.1 L238.2 265.6 L239.8 270.1 L242.2 272.9 L245.1 277.0 L247.7 280.8 L250.7 285.3 L251.6 288.5 L255.2 291.3 L257.3 295.3" fill="none" stroke="#e6e6e6" stroke-width="1.5" stroke-linecap="round" stroke-linejoin="round"/><path d="M204.1 208.3 L205.2 204.1 L207.5 200.6 L208.9 195.9 L209.7 192.2 L211.8 188.2" fill="none" stroke="#bbbbbb" stroke-width="0.9" stroke-linecap="round" stroke-linejoin="round"/><path d="M200.9 205.8 L196.9 205.1 L192.3 205.1" fill="none" stroke="#bbbbbb" stroke-width="0.9" stroke-linecap="round" stroke-linejoin="round"/><path d="M191.6 199.3 L193.8 204.4 L195.8 206.9 L198.4 210.0 L199.2 214.8 L200.4 218.3 L202.9 220.6 L204.6 224.9 L206.9 228.5 L208.3 231.5 L212.0 235.4 L213.2 238.3 L214.9 243.3 L217.7 246.0 L218.6 249.3 L221.5 253.0" fill="none" stroke="#cfcfcf" stroke-width="1.2" stroke-linecap="round" stroke-linejoin="round"/><path d="M218.2 246.2 L213.8 246.1 L209.4 245.9 L206.0 246.4 L202.1 245.9 L197.7 246.0" fill="none" stroke="#bbbbbb" stroke-width="0.9" stroke-linecap="round" stroke-linejoin="round"/><path d="M204.2 224.7 L209.1 225.0 L214.6 225.3 L218.9 226.2 L223.9 226.7" fill="none" stroke="#bbbbbb" stroke-width="0.9" stroke-linecap="round" stroke-linejoin="round"/><path d="M185.4 199.4 L185.6 203.3 L185.9 208.8 L186.0 211.7 L185.7 215.8 L185.0 220.2 L185.3 225.4 L184.8 228.8 L184.6 233.3 L183.7 237.3 L184.5 240.8 L184.7 245.1 L183.3 250.3 L183.5 253.6 L183.3 259.0 L184.2 262.6 L183.0 265.9 L183.0 270.4 L183.8 275.0 L182.8 279.7 L183.5 282.6 L181.7 286.5 L182.2 291.0 L182.5 294.9 L181.2 299.3 L181.4 304.3 L181.2 307.8 L182.1 311.8 L181.4 316.4" fill="none" stroke="#e6e6e6" stroke-width="1.4" stroke-linecap="round" stroke-linejoin="round"/><path d="M181.9 294.6 L179.2 297.9 L176.6 300.3 L172.9 303.3" fill="none" stroke="#bbbbbb" stroke-width="0.9" stroke-linecap="round" stroke-linejoin="round"/><path d="M183.1 270.3 L182.2 274.8 L181.8 278.6 L181.2 281.8 L180.4 286.4" fill="none" stroke="#bbbbbb" stroke-width="0.9" stroke-linecap="round" stroke-linejoin="round"/><path d="M182.5 200.2 L181.1 203.9 L181.3 207.5 L179.4 211.5 L177.6 214.5 L177.3 219.4 L175.3 223.5 L174.2 227.6 L173.5 230.5 L173.2 234.6 L170.8 237.8 L169.9 241.5 L168.7 245.6 L168.5 250.4 L167.0 254.7 L166.4 258.6 L164.7 262.1 L164.1 265.7 L161.6 269.8 L161.4 274.1 L160.3 278.2 L157.9 281.7 L157.5 285.9 L156.4 290.0 L155.4 294.2 L154.6 298.2 L153.2 301.0 L151.9 305.8" fill="none" stroke="#ffffff" stroke-width="1.5" stroke-linecap="round" stroke-linejoin="round"/><path d="M156.9 290.3 L151.7 291.2 L148.5 291.7 L144.3 292.9 L139.8 294.2" fill="none" stroke="#bbbbbb" stroke-width="0.9" stroke-linecap="round" stroke-linejoin="round"/><path d="M170.6 238.0 L169.6 241.5 L168.6 246.1 L166.9 249.5 L165.9 252.8 L164.7 257.1" fill="none" stroke="#bbbbbb" stroke-width="0.9" stroke-linecap="round" stroke-linejoin="round"/><path d="M189.9 200.3 L189.0 204.0 L189.0 207.5 L190.0 211.4 L189.4 216.8 L189.2 219.1 L189.5 224.1 L189.7 228.8 L189.3 231.5 L189.3 236.1 L189.6 239.7 L190.2 243.5 L189.8 248.8 L190.0 252.2 L190.3 255.5 L190.5 260.7 L189.2 263.7 L190.5 268.1 L190.3 271.9 L190.3 276.7 L189.2 280.3 L189.8 284.7" fill="none" stroke="#cfcfcf" stroke-width="1.2" stroke-linecap="round" stroke-linejoin="round"/><path d="M189.8 235.9 L192.3 238.2 L196.4 240.7 L198.5 242.6 L201.7 245.0 L205.5 247.8" fill="none" stroke="#bbbbbb" stroke-width="0.9" stroke-linecap="round" stroke-linejoin="round"/><path d="M190.0 268.0 L187.1 270.8 L182.7 273.6 L178.5 276.1" fill="none" stroke="#bbbbbb" stroke-width="0.9" stroke-linecap="round" stroke-linejoin="round"/><path d="M177.7 197.8 L176.0 202.2 L175.0 206.3 L174.6 210.5 L173.5 215.9 L171.8 219.3 L170.3 223.9 L169.8 227.2 L168.5 232.9 L165.7 236.3 L165.0 240.0" fill="none" stroke="#cfcfcf" stroke-width="1.2" stroke-linecap="round" stroke-linejoin="round"/><path d="M175.0 210.5 L177.8 207.9 L182.4 206.3 L185.5 204.3" fill="none" stroke="#bbbbbb" stroke-width="0.9" stroke-linecap="round" stroke-linejoin="round"/><path d="M168.7 232.6 L163.6 231.5 L159.4 229.6 L155.1 227.7 L150.4 226.6" fill="none" stroke="#bbbbbb" stroke-width="0.9" stroke-linecap="round" stroke-linejoin="round"/><path d="M140.2 179.9 L139.8 184.5 L137.9 187.5 L136.5 192.3 L136.4 195.6 L134.9 200.3 L134.5 204.0 L132.6 208.7 L132.2 212.4 L131.1 216.1 L129.5 219.1 L129.0 223.9 L128.4 228.6 L126.8 232.1 L125.8 235.1 L124.2 239.9 L123.1 243.6 L122.9 247.4 L120.7 252.6 L119.3 255.7 L118.5 260.6 L118.0 263.7" fill="none" stroke="#e6e6e6" stroke-width="1.3" stroke-linecap="round" stroke-linejoin="round"/><path d="M126.2 235.3 L123.2 231.4 L120.9 227.5 L118.5 223.3" fill="none" stroke="#bbbbbb" stroke-width="0.9" stroke-linecap="round" stroke-linejoin="round"/><path d="M118.6 260.7 L119.5 256.6 L120.5 252.6" fill="none" stroke="#bbbbbb" stroke-width="0.9" stroke-linecap="round" stroke-linejoin="round"/><path d="M129.9 181.8 L128.0 185.1 L127.8 190.4 L124.9 193.4 L124.0 198.3 L122.3 201.3 L120.9 206.7 L119.8 210.8 L117.5 213.5 L115.7 218.8 L114.8 222.1 L113.0 225.3 L112.1 230.1 L111.4 234.6 L110.1 238.8 L108.7 241.3 L107.3 246.2 L105.8 249.8 L104.6 255.1 L104.8 258.4 L102.6 261.8 L102.3 267.0 L100.9 270.6 L99.7 274.9 L99.1 279.4 L96.7 283.1 L96.0 286.9 L95.0 291.0" fill="none" stroke="#cfcfcf" stroke-width="1.2" stroke-linecap="round" stroke-linejoin="round"/><path d="M124.9 193.9 L122.7 188.2 L121.3 183.2" fill="none" stroke="#bbbbbb" stroke-width="0.9" stroke-linecap="round" stroke-linejoin="round"/><path d="M128.1 190.3 L123.8 192.7 L121.0 194.2 L116.9 195.7" fill="none" stroke="#bbbbbb" stroke-width="0.9" stroke-linecap="round" stroke-linejoin="round"/><path d="M130.3 58.8 L130.2 54.7 L128.9 50.6 L129.7 46.9 L129.3 42.8 L128.6 39.0 L128.3 34.7 L126.8 30.3 L126.6 26.4 L126.0 21.3 L124.4 16.8 L123.9 13.2 L124.1 8.0 L123.0 4.9 L122.3 0.0" fill="none" stroke="#cfcfcf" stroke-width="1.3" stroke-linecap="round" stroke-linejoin="round"/><path d="M128.2 35.0 L125.4 31.0 L122.3 28.3 L119.8 25.0 L116.3 21.4" fill="none" stroke="#bbbbbb" stroke-width="0.9" stroke-linecap="round" stroke-linejoin="round"/><path d="M124.5 7.8 L120.6 6.2 L115.6 4.8 L111.4 4.2 L108.1 2.7 L103.8 1.4" fill="none" stroke="#bbbbbb" stroke-width="0.9" stroke-linecap="round" stroke-linejoin="round"/><path d="M131.3 58.9 L132.0 55.1 L131.8 50.1 L132.0 46.5 L133.2 41.9 L132.7 38.9 L132.8 34.2 L133.5 30.3 L134.3 25.0 L134.7 21.3 L134.1 17.8 L135.1 12.5 L135.0 7.9 L134.9 3.5 L135.0 0.0" fill="none" stroke="#cfcfcf" stroke-width="1.1" stroke-linecap="round" stroke-linejoin="round"/><path d="M134.6 12.5 L138.5 9.0 L140.9 6.1 L144.3 3.0 L147.1 -0.2" fill="none" stroke="#bbbbbb" stroke-width="0.9" stroke-linecap="round" stroke-linejoin="round"/><path d="M135.5 12.6 L130.5 11.9 L126.9 11.3 L123.1 11.2 L119.5 11.3 L114.8 10.4" fill="none" stroke="#bbbbbb" stroke-width="0.9" stroke-linecap="round" stroke-linejoin="round"/><path d="M130.5 58.3 L129.6 63.9 L128.9 66.8 L128.8 72.4 L128.3 76.3 L127.8 79.9 L126.6 84.4" fill="none" stroke="#cfcfcf" stroke-width="1.2" stroke-linecap="round" stroke-linejoin="round"/><path d="M128.1 76.3 L130.9 71.9 L132.6 67.5 L134.8 62.8" fill="none" stroke="#bbbbbb" stroke-width="0.9" stroke-linecap="round" stroke-linejoin="round"/><path d="M127.3 79.4 L127.0 75.2 L127.0 71.5 L126.6 66.9 L124.9 62.8 L124.9 59.0" fill="none" stroke="#bbbbbb" stroke-width="0.9" stroke-linecap="round" stroke-linejoin="round"/><path d="M54.4 274.3 L51.7 271.4 L47.4 268.6 L44.5 264.2 L41.5 260.9 L38.2 257.8 L35.4 255.1 L32.9 252.0 L28.8 248.7 L25.9 244.8 L22.7 243.4 L20.5 238.6 L16.9 236.2" fill="none" stroke="#e6e6e6" stroke-width="1.3" stroke-linecap="round" stroke-linejoin="round"/><path d="M29.1 249.2 L32.6 245.6 L35.8 243.4 L38.7 239.9" fill="none" stroke="#bbbbbb" stroke-width="0.9" stroke-linecap="round" stroke-linejoin="round"/><path d="M44.6 264.1 L47.1 268.6 L49.9 272.0 L53.2 275.2 L56.3 279.4" fill="none" stroke="#bbbbbb" stroke-width="0.9" stroke-linecap="round" stroke-linejoin="round"/><path d="M54.2 274.9 L58.9 272.3 L62.7 271.2 L66.4 270.3 L71.3 269.9 L75.3 267.1 L78.7 266.8 L83.1 265.1 L87.9 264.7 L91.7 262.3 L97.0 261.5" fill="none" stroke="#e6e6e6" stroke-width="1.3" stroke-linecap="round" stroke-linejoin="round"/><path d="M58.3 271.9 L58.7 277.7 L57.0 282.4 L56.6 287.5" fill="none" stroke="#bbbbbb" stroke-width="0.9" stroke-linecap="round" stroke-linejoin="round"/><path d="M58.4 272.5 L56.9 268.3 L56.1 263.8 L54.9 259.1 L52.9 254.6" fill="none" stroke="#bbbbbb" stroke-width="0.9" stroke-linecap="round" stroke-linejoin="round"/><path d="M55.6 273.9 L50.8 276.0 L47.9 277.8 L43.5 279.6 L40.8 282.6 L35.2 284.4 L29.5 286.9" fill="none" stroke="#cfcfcf" stroke-width="1.2" stroke-linecap="round" stroke-linejoin="round"/><path d="M48.2 278.2 L50.7 273.9 L53.4 270.1 L55.4 266.4 L58.7 263.1" fill="none" stroke="#bbbbbb" stroke-width="0.9" stroke-linecap="round" stroke-linejoin="round"/><path d="M41.3 282.4 L43.3 286.4 L45.8 290.2 L48.5 294.2 L51.9 297.3" fill="none" stroke="#bbbbbb" stroke-width="0.9" stroke-linecap="round" stroke-linejoin="round"/><path d="M54.8 273.9 L53.0 279.1 L52.6 285.2 L51.2 290.5 L50.6 295.3" fill="none" stroke="#cfcfcf" stroke-width="1.1" stroke-linecap="round" stroke-linejoin="round"/><path d="M50.6 290.2 L46.1 287.3 L41.6 284.8" fill="none" stroke="#bbbbbb" stroke-width="0.9" stroke-linecap="round" stroke-linejoin="round"/><path d="M51.6 290.1 L48.2 285.7 L44.5 281.7" fill="none" stroke="#bbbbbb" stroke-width="0.9" stroke-linecap="round" stroke-linejoin="round"/><path d="M337.7 0.2 L340.9 4.2 L342.7 7.9 L345.7 11.6 L349.0 15.9 L352.1 19.7 L354.4 23.2" fill="none" stroke="#cfcfcf" stroke-width="1.1" stroke-linecap="round" stroke-linejoin="round"/><path d="M346.2 11.0 L341.2 9.4 L337.5 8.4 L333.9 6.7 L330.6 4.7 L326.3 2.8" fill="none" stroke="#bbbbbb" stroke-width="0.9" stroke-linecap="round" stroke-linejoin="round"/><path d="M345.7 11.2 L348.3 15.6 L351.4 18.6 L355.2 22.2" fill="none" stroke="#bbbbbb" stroke-width="0.9" stroke-linecap="round" stroke-linejoin="round"/><ellipse cx="185.6" cy="185.6" rx="10.5" ry="12.5" fill="#fff"/><ellipse cx="130.8" cy="59" rx="7" ry="8" fill="#fff"/><ellipse cx="54.8" cy="274.2" rx="8" ry="8" fill="#fff"/></svg>
<rect x="1527.0" y="1916.0" width="42.0" height="12.0" fill="#fff"/>
<rect x="1950.0" y="1916.0" width="42.0" height="12.0" fill="#fff"/>
<text x="1397.0" y="2228.0" font-size="26.8" fill="#fff">3D projection</text>
<text x="1397.0" y="2261.0" font-size="26.8" fill="#fff">(100 - 200 uM)</text>
<text x="1813.0" y="2228.0" font-size="26.8" fill="#fff">3D projection</text>
<text x="1813.0" y="2261.0" font-size="26.8" fill="#fff">(300 - 400 uM)</text></svg></body></html>
